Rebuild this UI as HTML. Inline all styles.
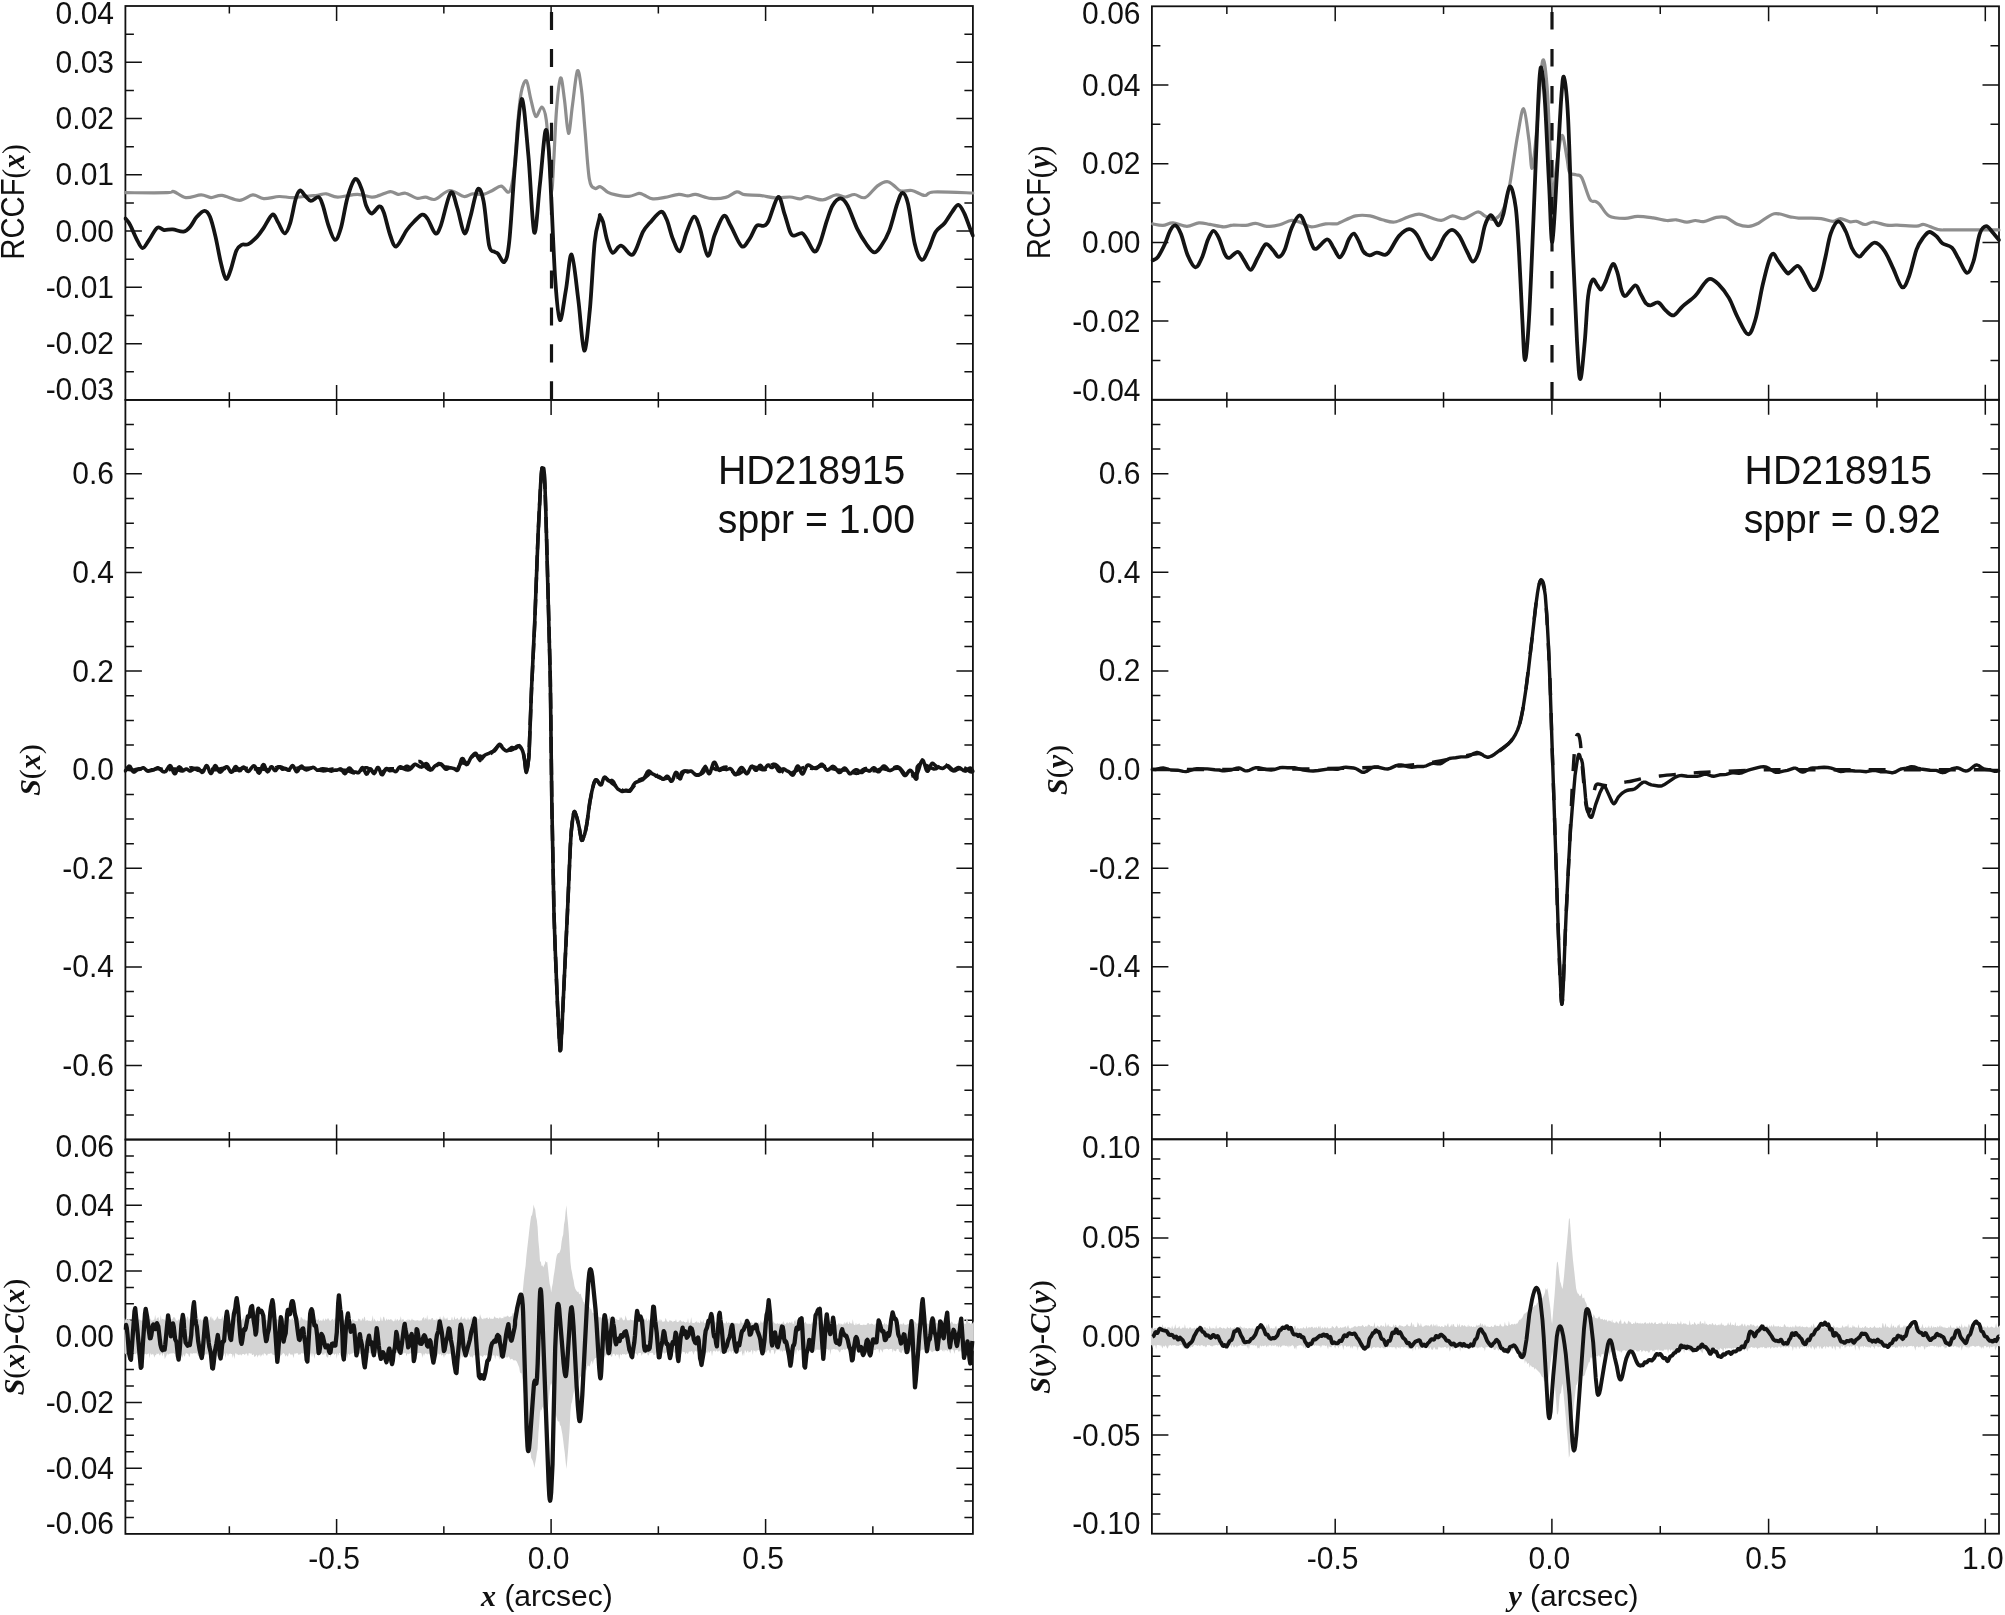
<!DOCTYPE html>
<html><head><meta charset="utf-8"><style>
html,body{margin:0;padding:0;background:#fff;width:2005px;height:1615px;overflow:hidden}
svg{display:block}
text{font-family:"Liberation Sans",sans-serif;fill:#111}
.s{font-family:"Liberation Serif",serif;font-style:italic;font-weight:bold}
.p{font-family:"Liberation Serif",serif}
svg{will-change:transform}
</style></head><body>
<svg width="2005" height="1615" viewBox="0 0 2005 1615">
<g fill="none" stroke="#111" stroke-width="1.8"><rect x="125.40" y="6.00" width="847.50" height="393.90"/><rect x="125.40" y="399.90" width="847.50" height="739.65"/><rect x="125.40" y="1139.55" width="847.50" height="394.35"/><rect x="1151.90" y="6.30" width="847.10" height="393.50"/><rect x="1151.90" y="399.80" width="847.10" height="739.50"/><rect x="1151.90" y="1139.30" width="847.10" height="394.40"/></g>
<path fill="none" stroke="#111" stroke-width="1.5" d="M125.40 34.14h8.5M972.90 34.14h-8.5M125.40 62.27h16.5M972.90 62.27h-16.5M125.40 90.41h8.5M972.90 90.41h-8.5M125.40 118.54h16.5M972.90 118.54h-16.5M125.40 146.68h8.5M972.90 146.68h-8.5M125.40 174.81h16.5M972.90 174.81h-16.5M125.40 202.95h8.5M972.90 202.95h-8.5M125.40 231.09h16.5M972.90 231.09h-16.5M125.40 259.22h8.5M972.90 259.22h-8.5M125.40 287.36h16.5M972.90 287.36h-16.5M125.40 315.49h8.5M972.90 315.49h-8.5M125.40 343.63h16.5M972.90 343.63h-16.5M125.40 371.76h8.5M972.90 371.76h-8.5M229.35 6.00v7.6M229.35 399.90v-7.6M336.60 6.00v15.0M336.60 399.90v-15.0M443.85 6.00v7.6M443.85 399.90v-7.6M551.10 6.00v15.0M551.10 399.90v-15.0M658.35 6.00v7.6M658.35 399.90v-7.6M765.60 6.00v15.0M765.60 399.90v-15.0M872.85 6.00v7.6M872.85 399.90v-7.6M125.40 424.56h8.5M972.90 424.56h-8.5M125.40 449.21h8.5M972.90 449.21h-8.5M125.40 473.87h16.5M972.90 473.87h-16.5M125.40 498.52h8.5M972.90 498.52h-8.5M125.40 523.17h8.5M972.90 523.17h-8.5M125.40 547.83h8.5M972.90 547.83h-8.5M125.40 572.49h16.5M972.90 572.49h-16.5M125.40 597.14h8.5M972.90 597.14h-8.5M125.40 621.79h8.5M972.90 621.79h-8.5M125.40 646.45h8.5M972.90 646.45h-8.5M125.40 671.11h16.5M972.90 671.11h-16.5M125.40 695.76h8.5M972.90 695.76h-8.5M125.40 720.41h8.5M972.90 720.41h-8.5M125.40 745.07h8.5M972.90 745.07h-8.5M125.40 769.72h16.5M972.90 769.72h-16.5M125.40 794.38h8.5M972.90 794.38h-8.5M125.40 819.04h8.5M972.90 819.04h-8.5M125.40 843.69h8.5M972.90 843.69h-8.5M125.40 868.35h16.5M972.90 868.35h-16.5M125.40 893.00h8.5M972.90 893.00h-8.5M125.40 917.65h8.5M972.90 917.65h-8.5M125.40 942.31h8.5M972.90 942.31h-8.5M125.40 966.97h16.5M972.90 966.97h-16.5M125.40 991.62h8.5M972.90 991.62h-8.5M125.40 1016.27h8.5M972.90 1016.27h-8.5M125.40 1040.93h8.5M972.90 1040.93h-8.5M125.40 1065.59h16.5M972.90 1065.59h-16.5M125.40 1090.24h8.5M972.90 1090.24h-8.5M125.40 1114.89h8.5M972.90 1114.89h-8.5M229.35 399.90v7.6M229.35 1139.55v-7.6M336.60 399.90v15.0M336.60 1139.55v-15.0M443.85 399.90v7.6M443.85 1139.55v-7.6M551.10 399.90v15.0M551.10 1139.55v-15.0M658.35 399.90v7.6M658.35 1139.55v-7.6M765.60 399.90v15.0M765.60 1139.55v-15.0M872.85 399.90v7.6M872.85 1139.55v-7.6M125.40 1155.98h8.5M972.90 1155.98h-8.5M125.40 1172.41h8.5M972.90 1172.41h-8.5M125.40 1188.84h8.5M972.90 1188.84h-8.5M125.40 1205.28h16.5M972.90 1205.28h-16.5M125.40 1221.71h8.5M972.90 1221.71h-8.5M125.40 1238.14h8.5M972.90 1238.14h-8.5M125.40 1254.57h8.5M972.90 1254.57h-8.5M125.40 1271.00h16.5M972.90 1271.00h-16.5M125.40 1287.43h8.5M972.90 1287.43h-8.5M125.40 1303.86h8.5M972.90 1303.86h-8.5M125.40 1320.29h8.5M972.90 1320.29h-8.5M125.40 1336.72h16.5M972.90 1336.72h-16.5M125.40 1353.16h8.5M972.90 1353.16h-8.5M125.40 1369.59h8.5M972.90 1369.59h-8.5M125.40 1386.02h8.5M972.90 1386.02h-8.5M125.40 1402.45h16.5M972.90 1402.45h-16.5M125.40 1418.88h8.5M972.90 1418.88h-8.5M125.40 1435.31h8.5M972.90 1435.31h-8.5M125.40 1451.74h8.5M972.90 1451.74h-8.5M125.40 1468.18h16.5M972.90 1468.18h-16.5M125.40 1484.61h8.5M972.90 1484.61h-8.5M125.40 1501.04h8.5M972.90 1501.04h-8.5M125.40 1517.47h8.5M972.90 1517.47h-8.5M229.35 1139.55v7.6M229.35 1533.90v-7.6M336.60 1139.55v15.0M336.60 1533.90v-15.0M443.85 1139.55v7.6M443.85 1533.90v-7.6M551.10 1139.55v15.0M551.10 1533.90v-15.0M658.35 1139.55v7.6M658.35 1533.90v-7.6M765.60 1139.55v15.0M765.60 1533.90v-15.0M872.85 1139.55v7.6M872.85 1533.90v-7.6M1151.90 45.65h8.5M1999.00 45.65h-8.5M1151.90 85.00h16.5M1999.00 85.00h-16.5M1151.90 124.35h8.5M1999.00 124.35h-8.5M1151.90 163.70h16.5M1999.00 163.70h-16.5M1151.90 203.05h8.5M1999.00 203.05h-8.5M1151.90 242.40h16.5M1999.00 242.40h-16.5M1151.90 281.75h8.5M1999.00 281.75h-8.5M1151.90 321.10h16.5M1999.00 321.10h-16.5M1151.90 360.45h8.5M1999.00 360.45h-8.5M1226.85 6.30v7.6M1226.85 399.80v-7.6M1335.20 6.30v15.0M1335.20 399.80v-15.0M1443.55 6.30v7.6M1443.55 399.80v-7.6M1551.90 6.30v15.0M1551.90 399.80v-15.0M1660.25 6.30v7.6M1660.25 399.80v-7.6M1768.60 6.30v15.0M1768.60 399.80v-15.0M1876.95 6.30v7.6M1876.95 399.80v-7.6M1985.30 6.30v15.0M1985.30 399.80v-15.0M1151.90 424.45h8.5M1999.00 424.45h-8.5M1151.90 449.10h8.5M1999.00 449.10h-8.5M1151.90 473.75h16.5M1999.00 473.75h-16.5M1151.90 498.40h8.5M1999.00 498.40h-8.5M1151.90 523.05h8.5M1999.00 523.05h-8.5M1151.90 547.70h8.5M1999.00 547.70h-8.5M1151.90 572.35h16.5M1999.00 572.35h-16.5M1151.90 597.00h8.5M1999.00 597.00h-8.5M1151.90 621.65h8.5M1999.00 621.65h-8.5M1151.90 646.30h8.5M1999.00 646.30h-8.5M1151.90 670.95h16.5M1999.00 670.95h-16.5M1151.90 695.60h8.5M1999.00 695.60h-8.5M1151.90 720.25h8.5M1999.00 720.25h-8.5M1151.90 744.90h8.5M1999.00 744.90h-8.5M1151.90 769.55h16.5M1999.00 769.55h-16.5M1151.90 794.20h8.5M1999.00 794.20h-8.5M1151.90 818.85h8.5M1999.00 818.85h-8.5M1151.90 843.50h8.5M1999.00 843.50h-8.5M1151.90 868.15h16.5M1999.00 868.15h-16.5M1151.90 892.80h8.5M1999.00 892.80h-8.5M1151.90 917.45h8.5M1999.00 917.45h-8.5M1151.90 942.10h8.5M1999.00 942.10h-8.5M1151.90 966.75h16.5M1999.00 966.75h-16.5M1151.90 991.40h8.5M1999.00 991.40h-8.5M1151.90 1016.05h8.5M1999.00 1016.05h-8.5M1151.90 1040.70h8.5M1999.00 1040.70h-8.5M1151.90 1065.35h16.5M1999.00 1065.35h-16.5M1151.90 1090.00h8.5M1999.00 1090.00h-8.5M1151.90 1114.65h8.5M1999.00 1114.65h-8.5M1226.85 399.80v7.6M1226.85 1139.30v-7.6M1335.20 399.80v15.0M1335.20 1139.30v-15.0M1443.55 399.80v7.6M1443.55 1139.30v-7.6M1551.90 399.80v15.0M1551.90 1139.30v-15.0M1660.25 399.80v7.6M1660.25 1139.30v-7.6M1768.60 399.80v15.0M1768.60 1139.30v-15.0M1876.95 399.80v7.6M1876.95 1139.30v-7.6M1985.30 399.80v15.0M1985.30 1139.30v-15.0M1151.90 1159.02h8.5M1999.00 1159.02h-8.5M1151.90 1178.74h8.5M1999.00 1178.74h-8.5M1151.90 1198.46h8.5M1999.00 1198.46h-8.5M1151.90 1218.18h8.5M1999.00 1218.18h-8.5M1151.90 1237.90h16.5M1999.00 1237.90h-16.5M1151.90 1257.62h8.5M1999.00 1257.62h-8.5M1151.90 1277.34h8.5M1999.00 1277.34h-8.5M1151.90 1297.06h8.5M1999.00 1297.06h-8.5M1151.90 1316.78h8.5M1999.00 1316.78h-8.5M1151.90 1336.50h16.5M1999.00 1336.50h-16.5M1151.90 1356.22h8.5M1999.00 1356.22h-8.5M1151.90 1375.94h8.5M1999.00 1375.94h-8.5M1151.90 1395.66h8.5M1999.00 1395.66h-8.5M1151.90 1415.38h8.5M1999.00 1415.38h-8.5M1151.90 1435.10h16.5M1999.00 1435.10h-16.5M1151.90 1454.82h8.5M1999.00 1454.82h-8.5M1151.90 1474.54h8.5M1999.00 1474.54h-8.5M1151.90 1494.26h8.5M1999.00 1494.26h-8.5M1151.90 1513.98h8.5M1999.00 1513.98h-8.5M1226.85 1139.30v7.6M1226.85 1533.70v-7.6M1335.20 1139.30v15.0M1335.20 1533.70v-15.0M1443.55 1139.30v7.6M1443.55 1533.70v-7.6M1551.90 1139.30v15.0M1551.90 1533.70v-15.0M1660.25 1139.30v7.6M1660.25 1533.70v-7.6M1768.60 1139.30v15.0M1768.60 1533.70v-15.0M1876.95 1139.30v7.6M1876.95 1533.70v-7.6M1985.30 1139.30v15.0M1985.30 1533.70v-15.0"/>
<defs>
<clipPath id="cLT"><rect x="123.6" y="6.0" width="851.1" height="393.9"/></clipPath>
<clipPath id="wLT"><rect x="124.4" y="6.0" width="849.5" height="393.9"/></clipPath>
<clipPath id="cLM"><rect x="123.6" y="399.9" width="851.1" height="739.6"/></clipPath>
<clipPath id="wLM"><rect x="124.4" y="399.9" width="849.5" height="739.6"/></clipPath>
<clipPath id="cLB"><rect x="123.6" y="1139.5" width="851.1" height="394.4"/></clipPath>
<clipPath id="wLB"><rect x="124.4" y="1139.5" width="849.5" height="394.4"/></clipPath>
<clipPath id="cRT"><rect x="1150.1" y="6.3" width="850.7" height="393.5"/></clipPath>
<clipPath id="wRT"><rect x="1150.9" y="6.3" width="849.1" height="393.5"/></clipPath>
<clipPath id="cRM"><rect x="1150.1" y="399.8" width="850.7" height="739.5"/></clipPath>
<clipPath id="wRM"><rect x="1150.9" y="399.8" width="849.1" height="739.5"/></clipPath>
<clipPath id="cRB"><rect x="1150.1" y="1139.3" width="850.7" height="394.4"/></clipPath>
<clipPath id="wRB"><rect x="1150.9" y="1139.3" width="849.1" height="394.4"/></clipPath>
</defs>
<g clip-path="url(#cLT)" fill="none" stroke-linejoin="round" stroke-linecap="round">
<path d="M125.4 192.7C132.4 192.7 159.1 192.9 167.2 192.7C175.3 192.5 170.7 190.8 173.8 191.6C176.9 192.4 181.2 197.0 185.8 197.6C190.4 198.2 197.0 194.9 201.2 194.9C205.4 194.9 207.6 197.5 211.1 197.6C214.6 197.7 217.2 194.9 222.0 195.4C226.8 195.9 234.5 200.4 239.6 200.3C244.7 200.2 248.8 195.2 252.8 194.9C256.8 194.6 259.3 198.4 263.7 198.7C268.1 199.0 274.3 196.7 279.1 196.5C283.9 196.3 287.4 197.7 292.3 197.6C297.2 197.5 304.5 196.4 308.7 196.0C312.9 195.6 314.6 195.8 317.5 195.4C320.4 195.0 322.9 193.5 326.3 193.8C329.7 194.1 332.5 197.0 337.7 197.1C342.9 197.2 351.7 194.3 357.4 194.3C363.1 194.3 368.0 196.9 371.7 197.1C375.4 197.3 376.3 196.3 379.4 195.4C382.5 194.5 387.2 191.8 390.3 191.6C393.4 191.4 395.4 194.0 398.0 194.3C400.6 194.6 402.6 192.5 405.7 193.2C408.8 193.8 413.4 197.5 416.7 198.2C420.0 198.8 422.4 196.9 425.5 197.1C428.6 197.3 431.3 200.4 435.3 199.3C439.3 198.2 444.8 191.0 449.6 190.5C454.4 190.0 460.1 195.9 463.9 196.5C467.7 197.1 469.3 194.2 472.6 193.8C475.9 193.4 480.3 194.9 483.6 194.3C486.9 193.8 489.5 191.9 492.4 190.5C495.3 189.1 498.6 185.8 501.2 186.1C503.8 186.4 506.1 191.7 507.7 192.1C509.3 192.5 509.9 192.3 511.0 188.3C512.1 184.3 513.1 179.4 514.3 168.0C515.5 156.6 516.8 132.7 518.0 120.0C519.2 107.3 519.9 98.5 521.3 92.0C522.7 85.5 524.8 79.5 526.4 80.8C528.0 82.1 529.3 93.7 530.9 99.6C532.5 105.5 534.0 115.2 535.8 116.4C537.6 117.6 540.1 106.5 541.8 107.0C543.5 107.5 544.9 110.6 546.2 119.4C547.5 128.2 548.6 147.9 549.5 160.0C550.4 172.1 550.9 192.0 551.6 192.0C552.3 192.0 553.0 173.7 553.8 160.0C554.6 146.3 555.4 123.7 556.5 110.0C557.6 96.3 559.3 79.7 560.6 78.0C561.9 76.3 563.2 90.8 564.5 100.0C565.8 109.2 567.2 132.5 568.5 133.3C569.8 134.1 571.0 115.4 572.5 105.0C574.0 94.6 575.9 73.4 577.4 70.9C578.9 68.4 580.2 80.2 581.5 90.0C582.8 99.8 583.7 115.2 585.0 130.0C586.3 144.8 587.7 169.1 589.3 178.8C590.9 188.5 592.9 187.0 594.7 188.3C596.6 189.6 598.2 186.0 600.4 186.7C602.6 187.4 605.4 191.0 608.0 192.4C610.6 193.8 612.5 194.2 616.0 194.9C619.5 195.6 625.1 196.7 628.9 196.4C632.7 196.2 636.4 193.7 638.9 193.4C641.4 193.2 641.6 194.0 643.9 194.9C646.2 195.8 649.4 198.5 652.9 198.9C656.4 199.3 660.5 198.2 664.8 197.4C669.1 196.7 675.0 194.7 678.8 194.4C682.6 194.2 685.0 195.9 687.8 195.9C690.6 195.9 692.0 194.0 695.8 194.4C699.6 194.8 705.7 197.9 710.7 198.4C715.7 198.9 721.4 198.5 725.7 197.4C730.0 196.3 733.6 192.4 736.7 191.9C739.9 191.4 740.8 194.1 744.6 194.7C748.4 195.3 754.4 194.9 759.6 195.4C764.8 195.9 770.5 197.6 775.6 197.9C780.7 198.2 786.0 196.8 790.0 197.0C794.0 197.2 796.9 199.0 799.9 198.9C802.9 198.8 804.0 196.5 807.8 196.7C811.6 196.9 818.1 200.2 822.7 199.9C827.3 199.6 831.8 195.5 835.6 195.0C839.4 194.5 842.4 197.1 845.5 197.0C848.6 196.9 851.1 194.4 854.4 194.5C857.7 194.6 861.5 198.9 865.3 197.5C869.1 196.1 873.6 188.8 877.2 186.1C880.8 183.4 884.3 181.7 887.1 181.6C889.9 181.5 891.7 184.0 894.0 185.6C896.3 187.2 897.9 190.2 900.9 191.0C903.9 191.8 907.8 189.8 911.8 190.5C915.8 191.2 921.1 195.2 924.7 195.5C928.3 195.8 925.6 192.4 933.6 192.0C941.6 191.6 966.4 192.8 972.9 193.0" stroke="#8e8e8e" stroke-width="3.2"/>
<path d="M125.4 218.5C126.2 219.5 128.1 221.1 129.9 224.5C131.8 227.9 134.4 234.9 136.5 238.8C138.6 242.7 140.5 247.8 142.5 248.1C144.5 248.4 146.0 244.3 148.5 240.9C151.0 237.5 154.7 229.6 157.3 227.8C159.9 226.0 161.3 229.7 163.9 230.0C166.5 230.3 169.4 229.1 172.7 229.4C176.0 229.7 180.7 232.1 183.6 231.6C186.5 231.1 188.0 229.2 190.2 226.7C192.4 224.2 194.4 219.5 196.8 216.8C199.2 214.2 202.3 210.8 204.5 210.8C206.7 210.8 208.2 212.5 210.0 216.8C211.8 221.1 213.7 228.9 215.5 236.6C217.3 244.3 219.2 255.9 220.9 262.9C222.6 269.9 224.2 277.7 225.9 278.8C227.6 279.9 229.1 274.2 230.8 269.5C232.5 264.8 234.5 254.9 236.3 250.8C238.1 246.7 239.8 245.9 241.8 244.8C243.8 243.7 245.8 245.6 248.4 244.2C251.0 242.8 254.6 239.3 257.2 236.6C259.8 233.9 261.1 231.5 263.7 227.8C266.2 224.1 270.1 215.5 272.5 214.6C274.9 213.7 276.0 219.2 278.0 222.3C280.0 225.4 282.6 233.1 284.6 233.3C286.6 233.5 288.3 229.1 290.1 223.4C291.9 217.7 294.0 204.8 295.6 199.3C297.2 193.8 298.4 191.1 300.0 190.5C301.6 189.9 303.6 194.3 305.4 196.0C307.2 197.7 308.7 200.7 310.9 200.9C313.1 201.1 316.6 196.3 318.6 197.1C320.6 197.9 321.4 201.1 323.0 205.8C324.6 210.6 326.5 219.9 328.5 225.6C330.5 231.3 332.8 239.4 334.9 239.8C337.0 240.2 338.9 234.9 341.0 227.8C343.1 220.7 345.2 205.2 347.6 197.1C350.0 189.0 352.8 180.3 355.2 179.0C357.6 177.7 360.0 184.9 361.8 189.4C363.6 193.9 364.6 201.8 366.2 205.8C367.8 209.8 369.5 213.4 371.7 213.5C373.9 213.6 377.4 206.6 379.4 206.4C381.4 206.2 382.0 207.6 383.8 212.4C385.6 217.2 388.2 229.8 390.3 235.5C392.4 241.2 393.6 247.3 396.4 246.4C399.1 245.5 403.8 234.2 406.8 230.0C409.8 225.8 411.9 223.8 414.5 221.2C417.1 218.6 420.0 215.0 422.2 214.6C424.4 214.2 425.5 215.9 427.7 219.0C429.9 222.1 433.1 232.2 435.3 233.3C437.5 234.4 438.2 232.4 440.8 225.6C443.4 218.8 447.9 195.6 450.7 192.7C453.4 189.8 455.0 201.2 457.3 208.0C459.6 214.8 462.2 231.8 464.4 233.3C466.6 234.8 468.2 224.1 470.4 216.8C472.6 209.5 475.4 192.0 477.6 189.4C479.8 186.8 481.7 192.1 483.6 201.4C485.5 210.7 487.3 236.9 489.1 245.3C490.9 253.7 493.1 250.5 494.6 251.9C496.1 253.3 496.3 251.9 497.9 253.6C499.5 255.2 502.5 263.7 504.4 261.8C506.3 259.9 507.4 258.1 509.2 242.0C511.0 225.9 512.9 189.0 515.0 165.2C517.1 141.4 519.4 100.6 521.6 99.0C523.8 97.4 526.3 133.4 528.4 155.6C530.5 177.8 532.3 227.6 534.2 232.4C536.1 237.2 538.0 201.2 539.9 184.4C541.8 167.6 543.8 137.4 545.3 131.5C546.8 125.6 547.7 137.1 548.7 149.1C549.7 161.1 550.4 181.7 551.5 203.6C552.6 225.5 553.9 261.1 555.3 280.5C556.7 299.9 558.1 318.4 559.9 320.0C561.7 321.6 563.9 300.9 565.9 290.0C567.9 279.1 569.5 252.9 571.6 254.5C573.7 256.1 576.2 283.7 578.3 299.7C580.4 315.7 582.3 348.9 584.2 350.5C586.1 352.1 588.1 327.4 589.9 309.3C591.6 291.2 593.1 257.2 594.7 242.0C596.3 226.8 598.6 222.4 599.5 218.0C600.4 213.6 599.4 215.2 600.0 215.8C600.6 216.4 601.8 217.8 603.0 221.8C604.2 225.8 605.4 234.7 607.0 239.8C608.6 245.0 610.2 251.7 612.5 252.7C614.8 253.7 617.9 245.4 621.0 245.7C624.1 246.0 628.4 254.0 630.9 254.7C633.4 255.4 633.9 253.5 635.9 249.7C637.9 245.9 640.6 236.3 642.9 231.8C645.2 227.3 646.9 226.1 649.9 222.8C652.9 219.5 658.0 212.3 660.8 211.8C663.6 211.3 664.8 215.3 666.8 219.8C668.8 224.3 670.6 233.6 672.8 238.8C675.0 244.0 677.5 252.4 679.8 251.2C682.1 250.0 684.5 237.5 686.8 231.8C689.1 226.1 691.6 217.5 693.8 216.8C696.0 216.1 697.5 221.3 699.8 227.8C702.1 234.3 705.2 254.5 707.7 255.7C710.2 256.9 712.0 241.5 714.7 234.8C717.4 228.2 721.0 217.3 723.7 215.8C726.4 214.3 727.7 220.7 730.7 225.8C733.7 230.9 738.5 244.0 741.6 246.2C744.8 248.4 747.1 242.2 749.6 238.8C752.1 235.4 754.3 228.0 756.6 225.8C758.9 223.6 761.6 226.6 763.6 225.8C765.6 225.0 766.2 225.6 768.6 220.8C771.0 216.0 775.5 198.1 778.1 196.9C780.8 195.7 782.4 207.8 784.5 213.8C786.6 219.8 788.8 229.2 790.5 232.8C792.2 236.4 792.6 235.6 794.5 235.6C796.4 235.6 799.9 232.5 801.9 233.1C803.9 233.7 804.7 236.0 806.8 239.1C808.9 242.2 812.1 250.6 814.3 251.4C816.4 252.2 817.6 249.0 819.7 244.0C821.8 239.0 824.6 227.6 826.7 221.2C828.9 214.8 830.3 209.2 832.6 205.4C834.9 201.6 838.0 198.4 840.5 198.4C843.0 198.4 844.7 200.3 847.5 205.4C850.3 210.5 854.3 222.8 857.4 229.2C860.5 235.6 863.5 240.1 866.3 244.0C869.1 247.9 871.7 252.1 874.2 252.4C876.7 252.7 878.6 249.6 881.1 246.0C883.6 242.4 886.5 238.0 889.1 231.1C891.8 224.2 894.8 210.8 897.0 204.4C899.2 198.1 900.6 193.2 902.4 193.0C904.2 192.8 905.8 194.9 907.9 203.4C910.0 211.9 912.5 234.6 914.8 244.0C917.1 253.4 919.5 259.1 921.8 259.9C924.1 260.7 926.4 253.6 928.7 249.0C931.0 244.4 933.0 236.4 935.6 232.1C938.2 227.8 941.7 226.7 944.5 223.2C947.3 219.7 950.2 214.4 952.5 211.3C954.8 208.2 956.4 204.6 958.4 204.9C960.4 205.2 962.3 209.2 964.3 213.3C966.3 217.4 968.9 225.5 970.3 229.2C971.7 232.9 972.5 234.4 972.9 235.5" stroke="#141414" stroke-width="3.8"/>
<path d="M551.5 12V400" stroke="#141414" stroke-width="3.2" stroke-dasharray="18.1 18.83" stroke-linecap="butt"/>
</g>
<g clip-path="url(#cRT)" fill="none" stroke-linejoin="round" stroke-linecap="round">
<path d="M1152.7 223.9C1154.4 224.2 1159.6 225.6 1163.0 225.4C1166.4 225.2 1169.0 222.7 1173.0 222.9C1177.0 223.1 1182.6 226.4 1186.9 226.4C1191.2 226.4 1195.1 223.2 1198.9 222.9C1202.7 222.6 1205.8 223.7 1209.9 224.4C1214.1 225.1 1220.0 226.8 1223.8 226.9C1227.6 227.0 1229.1 225.3 1232.8 225.1C1236.5 224.8 1242.0 225.7 1245.8 225.4C1249.6 225.1 1252.2 223.2 1255.7 223.4C1259.2 223.6 1262.7 226.2 1266.7 226.4C1270.7 226.6 1275.6 225.7 1279.7 224.7C1283.8 223.7 1287.9 220.7 1291.6 220.4C1295.2 220.1 1298.3 221.8 1301.6 222.9C1304.9 224.0 1307.6 226.7 1311.6 226.9C1315.6 227.1 1321.4 224.4 1325.6 223.9C1329.8 223.4 1334.1 224.1 1336.5 223.9C1338.9 223.7 1336.8 223.9 1340.0 222.6C1343.2 221.3 1350.6 217.0 1355.6 215.9C1360.6 214.8 1365.6 215.2 1370.1 215.9C1374.5 216.6 1378.2 218.8 1382.3 219.8C1386.4 220.8 1390.3 222.5 1394.6 222.0C1398.9 221.5 1403.9 218.3 1408.0 217.0C1412.1 215.7 1415.4 214.1 1419.1 214.2C1422.8 214.3 1426.5 216.5 1430.2 217.5C1433.9 218.5 1437.7 220.6 1441.4 220.3C1445.1 220.0 1448.8 216.2 1452.5 215.9C1456.2 215.6 1459.5 219.3 1463.7 218.7C1467.9 218.0 1474.1 212.5 1477.6 212.0C1481.1 211.5 1482.5 214.7 1484.8 215.9C1487.1 217.2 1489.2 219.4 1491.5 219.5C1493.8 219.6 1496.7 218.6 1498.9 216.2C1501.2 213.8 1503.1 210.6 1505.0 205.0C1506.9 199.4 1507.9 194.7 1510.1 182.8C1512.2 170.9 1515.6 146.0 1517.9 133.7C1520.2 121.4 1521.9 107.7 1523.7 108.8C1525.5 109.9 1527.6 130.5 1529.0 140.4C1530.4 150.3 1530.9 170.1 1532.2 168.2C1533.5 166.3 1535.1 146.9 1536.8 129.2C1538.5 111.5 1540.7 69.2 1542.4 61.8C1544.1 54.4 1545.6 69.6 1546.9 84.6C1548.2 99.5 1549.3 132.8 1550.2 151.5C1551.1 170.2 1551.2 194.6 1552.3 196.5C1553.4 198.4 1555.3 172.9 1556.9 162.7C1558.5 152.5 1560.3 136.2 1562.0 135.4C1563.7 134.7 1565.8 152.1 1567.0 158.2C1568.2 164.3 1568.0 169.4 1569.5 172.2C1571.0 175.0 1574.3 174.0 1576.3 174.9C1578.3 175.8 1579.4 173.5 1581.7 177.6C1584.0 181.7 1587.6 195.4 1589.9 199.4C1592.2 203.4 1593.7 200.5 1595.4 201.4C1597.1 202.3 1597.8 202.4 1600.0 204.8C1602.2 207.2 1604.8 213.5 1608.9 215.8C1613.0 218.1 1620.0 218.3 1624.7 218.4C1629.5 218.5 1632.7 216.4 1637.4 216.3C1642.2 216.2 1648.3 217.2 1653.2 217.9C1658.1 218.6 1663.0 220.2 1666.8 220.5C1670.6 220.8 1673.0 219.5 1676.3 219.8C1679.6 220.1 1683.6 222.0 1686.8 222.1C1690.0 222.2 1692.5 220.6 1695.3 220.5C1698.1 220.4 1700.2 222.1 1703.7 221.6C1707.2 221.1 1712.6 218.1 1716.3 217.4C1720.0 216.7 1722.3 216.3 1725.8 217.4C1729.3 218.5 1733.6 222.7 1737.4 224.2C1741.2 225.7 1745.4 226.5 1748.9 226.3C1752.4 226.1 1754.2 225.3 1758.4 223.2C1762.6 221.1 1768.9 214.8 1774.2 213.7C1779.5 212.6 1785.9 216.1 1790.0 216.8C1794.1 217.5 1795.6 217.9 1798.6 218.1C1801.6 218.3 1804.5 218.0 1808.2 218.1C1812.0 218.2 1817.0 218.1 1821.1 218.6C1825.2 219.1 1829.7 221.3 1832.9 221.3C1836.1 221.3 1837.6 218.5 1840.4 218.6C1843.2 218.7 1847.3 221.4 1850.0 221.8C1852.7 222.2 1854.0 220.9 1856.5 221.3C1859.0 221.8 1862.2 224.4 1865.1 224.5C1867.9 224.6 1870.0 221.9 1873.6 222.0C1877.2 222.1 1882.6 224.7 1886.5 225.2C1890.4 225.7 1892.2 225.0 1897.2 225.2C1902.2 225.3 1912.0 226.2 1916.5 226.1C1921.0 226.0 1920.4 223.9 1924.0 224.5C1927.6 225.1 1933.5 228.6 1938.0 229.5C1942.5 230.4 1940.6 229.8 1950.8 229.9C1961.0 230.0 1991.0 229.9 1999.0 229.9" stroke="#8e8e8e" stroke-width="3.2"/>
<path d="M1152.7 260.3C1153.6 259.7 1156.0 259.6 1158.0 256.8C1160.0 254.1 1163.0 248.1 1165.0 243.8C1167.0 239.5 1168.3 233.9 1170.0 230.8C1171.7 227.7 1173.6 224.9 1175.4 225.4C1177.2 225.9 1178.8 228.7 1180.9 233.8C1183.0 238.9 1185.5 250.2 1187.9 255.8C1190.3 261.4 1193.1 267.0 1195.4 267.3C1197.7 267.6 1199.8 262.4 1201.9 257.8C1204.0 253.2 1206.0 244.3 1207.9 239.8C1209.8 235.3 1211.5 231.1 1213.3 230.8C1215.1 230.5 1216.9 234.0 1218.8 237.8C1220.7 241.6 1223.0 250.5 1224.8 253.8C1226.5 257.1 1227.1 258.1 1229.3 257.8C1231.5 257.5 1235.4 251.5 1237.8 251.8C1240.2 252.1 1241.6 256.8 1243.8 259.8C1246.0 262.8 1248.4 270.1 1250.7 269.8C1253.0 269.5 1255.2 262.1 1257.7 257.8C1260.2 253.6 1263.2 245.6 1265.7 244.3C1268.2 243.0 1270.5 247.7 1272.7 249.8C1274.9 251.9 1276.7 256.8 1278.7 256.8C1280.7 256.8 1282.6 254.6 1284.7 249.8C1286.8 245.0 1289.1 233.6 1291.6 227.9C1294.1 222.2 1297.3 215.7 1299.6 215.4C1301.9 215.1 1303.6 221.2 1305.6 225.9C1307.6 230.6 1309.8 240.0 1311.6 243.8C1313.3 247.6 1313.5 249.6 1316.1 248.8C1318.7 248.1 1324.2 239.5 1327.1 239.3C1330.0 239.1 1331.4 244.8 1333.5 247.8C1335.6 250.8 1337.7 256.9 1339.5 257.3C1341.3 257.7 1342.9 253.4 1344.5 250.4C1346.1 247.4 1347.3 242.1 1348.9 239.3C1350.5 236.5 1352.2 233.3 1353.9 233.7C1355.6 234.1 1357.3 238.5 1358.9 241.5C1360.5 244.5 1361.6 249.2 1363.4 251.5C1365.2 253.8 1367.3 255.2 1369.5 255.4C1371.7 255.6 1374.2 252.7 1376.8 252.6C1379.4 252.5 1382.9 255.3 1385.1 254.9C1387.3 254.5 1387.8 253.6 1390.1 250.4C1392.4 247.2 1395.9 239.4 1399.1 235.9C1402.3 232.4 1406.1 229.4 1409.1 229.2C1412.1 229.0 1414.3 231.3 1416.9 234.8C1419.5 238.3 1422.3 246.3 1424.7 250.4C1427.1 254.5 1429.2 259.5 1431.4 259.3C1433.6 259.1 1435.9 253.2 1438.1 249.3C1440.3 245.4 1442.4 239.2 1444.7 235.9C1447.0 232.7 1449.6 229.8 1452.0 229.8C1454.4 229.8 1456.7 232.3 1459.2 235.9C1461.7 239.5 1464.7 247.2 1467.0 251.5C1469.3 255.8 1471.0 261.8 1473.1 261.6C1475.1 261.4 1477.3 256.4 1479.3 250.4C1481.2 244.4 1482.9 231.8 1484.8 225.9C1486.7 220.1 1488.7 216.2 1490.4 215.3C1492.1 214.4 1493.5 218.7 1494.9 220.3C1496.3 221.9 1497.5 226.2 1498.9 225.1C1500.3 224.0 1501.6 220.4 1503.4 214.0C1505.2 207.6 1507.8 187.6 1509.8 186.5C1511.8 185.4 1514.2 196.4 1515.7 207.3C1517.2 218.2 1517.9 233.3 1519.0 251.9C1520.1 270.5 1521.3 300.8 1522.3 318.8C1523.3 336.8 1523.9 360.1 1525.0 360.1C1526.1 360.1 1527.6 342.4 1529.0 318.8C1530.4 295.2 1532.0 253.8 1533.5 218.5C1535.0 183.2 1536.8 132.1 1538.0 106.9C1539.2 81.7 1539.6 69.0 1540.7 67.5C1541.8 66.0 1543.3 78.4 1544.7 98.0C1546.1 117.6 1547.8 161.0 1549.1 185.0C1550.4 209.0 1551.0 243.9 1552.3 242.0C1553.6 240.1 1555.4 198.2 1556.9 173.8C1558.4 149.4 1560.2 111.8 1561.4 95.8C1562.6 79.8 1563.0 74.0 1564.1 77.7C1565.2 81.4 1566.7 90.9 1568.1 118.1C1569.5 145.3 1571.0 203.6 1572.5 240.8C1574.0 278.0 1575.7 318.1 1577.0 341.1C1578.3 364.2 1579.0 379.1 1580.3 379.1C1581.6 379.1 1583.5 354.9 1584.8 341.1C1586.1 327.3 1586.8 306.7 1588.1 296.5C1589.4 286.3 1591.0 281.7 1592.6 279.8C1594.1 277.9 1596.0 283.7 1597.4 285.3C1598.8 286.9 1599.7 290.2 1601.1 289.5C1602.5 288.8 1603.9 285.3 1605.8 281.1C1607.7 276.9 1610.7 265.6 1612.6 264.2C1614.5 262.8 1615.9 268.2 1617.4 272.6C1618.9 277.0 1620.2 286.6 1621.6 290.5C1623.0 294.4 1623.5 296.7 1625.8 295.8C1628.1 294.9 1632.8 285.7 1635.3 285.3C1637.8 284.9 1638.8 290.7 1640.5 293.7C1642.2 296.7 1644.1 301.3 1645.8 303.2C1647.5 305.1 1648.4 305.4 1650.5 305.3C1652.6 305.2 1655.9 301.7 1658.4 302.6C1661.0 303.5 1663.2 308.4 1665.8 310.5C1668.3 312.6 1670.9 316.0 1673.7 315.3C1676.5 314.6 1679.0 309.6 1682.6 306.3C1686.2 303.1 1691.8 299.5 1695.3 295.8C1698.8 292.1 1701.2 287.0 1703.7 284.2C1706.2 281.4 1707.5 278.9 1710.0 278.9C1712.5 278.9 1715.2 281.0 1718.4 284.2C1721.6 287.4 1725.7 292.5 1728.9 297.9C1732.1 303.3 1734.2 310.8 1737.4 316.8C1740.6 322.9 1744.9 333.7 1747.9 334.2C1750.9 334.7 1752.8 328.1 1755.3 320.0C1757.8 311.9 1760.3 295.1 1762.6 285.3C1764.9 275.5 1767.1 266.4 1768.9 261.1C1770.7 255.8 1771.6 253.7 1773.2 253.7C1774.8 253.7 1776.1 258.0 1778.4 261.1C1780.7 264.2 1784.9 270.8 1786.8 272.6C1788.7 274.5 1788.2 273.3 1790.0 272.2C1791.8 271.1 1795.3 265.8 1797.5 265.8C1799.7 265.8 1800.3 268.2 1802.9 272.2C1805.5 276.2 1810.2 288.6 1813.1 289.9C1815.9 291.1 1818.0 285.1 1820.0 279.7C1822.0 274.2 1823.6 264.9 1825.4 257.2C1827.2 249.5 1828.6 239.6 1830.7 233.6C1832.8 227.6 1835.8 221.7 1838.3 221.3C1840.8 221.0 1843.5 226.9 1845.8 231.5C1848.1 236.1 1850.0 244.4 1852.2 248.6C1854.4 252.8 1857.1 256.3 1859.2 256.7C1861.3 257.1 1862.5 253.1 1865.1 250.8C1867.7 248.5 1871.5 242.7 1874.7 242.7C1877.9 242.7 1881.4 246.6 1884.4 250.8C1887.4 255.0 1890.0 261.8 1892.9 267.9C1895.9 274.0 1899.4 285.8 1902.1 287.2C1904.8 288.6 1906.6 282.8 1909.0 276.5C1911.4 270.2 1914.2 256.1 1916.5 249.7C1918.8 243.3 1920.8 240.8 1923.0 237.9C1925.2 235.0 1927.1 232.2 1929.4 232.0C1931.7 231.8 1934.8 234.9 1936.9 236.8C1939.1 238.7 1939.8 241.5 1942.3 243.3C1944.8 245.1 1949.2 245.1 1951.9 247.6C1954.6 250.1 1955.8 254.1 1958.3 258.3C1960.8 262.5 1964.4 272.3 1966.9 272.8C1969.4 273.3 1971.2 268.0 1973.4 261.5C1975.6 255.0 1977.7 239.5 1979.8 233.6C1981.9 227.7 1984.0 226.3 1986.2 226.1C1988.4 225.9 1990.6 230.2 1992.7 232.5C1994.8 234.8 1998.0 238.8 1999.0 240.0" stroke="#141414" stroke-width="3.8"/>
<path d="M1552 11.9V400" stroke="#141414" stroke-width="3.2" stroke-dasharray="17.7 19.3" stroke-linecap="butt"/>
</g>
<g clip-path="url(#cLM)" fill="none" stroke-linejoin="round" stroke-linecap="round" stroke="#141414">
<path d="M125.4 770.8L126.2 769.9L128.0 767.0L129.0 766.1L130.0 766.5L132.8 771.4L133.4 771.9L134.0 772.1L134.6 771.9L137.2 769.8L139.9 769.2L142.8 767.8L143.6 767.8L144.3 768.2L146.6 770.5L147.4 771.0L148.2 771.1L151.4 769.8L153.9 769.6L157.3 767.9L158.2 767.9L159.1 768.3L162.6 771.4L163.5 771.8L164.4 771.9L165.3 771.6L166.2 770.8L168.9 766.4L169.9 765.6L170.8 766.1L171.7 767.8L173.6 772.5L174.5 773.8L175.5 773.5L178.3 767.6L179.2 766.9L180.2 767.3L182.1 769.7L183.0 770.3L184.0 770.1L185.9 769.0L186.8 769.0L189.7 770.9L190.6 770.9L194.4 768.7L196.3 768.2L197.2 768.2L198.1 768.4L199.1 769.0L201.4 772.0L202.1 772.4L202.8 772.1L203.6 771.1L205.8 766.3L206.5 765.6L207.3 766.1L208.1 767.5L209.6 771.8L210.4 773.2L211.2 773.5L212.0 772.4L214.4 766.4L215.2 765.6L216.0 766.0L218.5 770.7L219.3 771.8L220.2 772.1L221.0 771.8L225.3 767.2L226.2 766.7L227.0 766.7L227.9 767.4L230.5 771.7L231.4 772.3L232.3 771.8L234.9 767.1L235.8 766.6L236.7 767.2L238.5 770.0L239.4 770.8L240.3 770.6L243.0 767.2L243.9 767.1L244.8 767.8L246.5 770.4L247.4 771.3L248.3 771.4L249.2 770.9L251.9 767.4L252.8 766.4L253.7 765.9L254.6 766.0L255.4 767.0L258.1 772.4L259.0 773.1L259.8 772.4L260.7 770.5L262.4 765.7L263.3 764.6L264.2 765.0L266.7 770.9L267.6 771.8L268.4 771.3L270.9 766.9L271.7 766.7L272.6 767.4L274.2 770.0L275.0 770.6L275.8 770.4L278.2 767.2L278.9 766.8L279.7 767.0L282.0 769.0L282.7 769.3L284.9 768.6L285.7 768.6L287.8 769.8L288.5 770.0L289.2 769.7L289.8 769.0L291.8 766.0L292.5 765.6L293.1 765.9L293.7 766.6L295.6 770.4L296.1 771.3L296.7 771.7L297.9 771.0L300.0 767.0L301.7 766.0L304.7 769.4L306.1 769.9L308.7 769.2L312.9 767.4L313.8 767.5L314.6 768.0L316.9 770.0L317.6 770.3L318.8 770.2L321.0 769.1L321.9 768.9L322.9 768.9L327.2 769.3L330.8 771.0L331.6 771.1L334.7 770.1L337.1 770.1L340.2 768.9L341.0 769.1L341.7 769.8L344.1 773.2L344.9 773.6L345.7 773.2L348.0 769.1L348.8 768.2L349.6 768.0L350.4 768.5L352.0 770.5L352.8 771.3L353.6 771.7L356.0 772.1L357.6 772.7L358.4 772.6L359.2 772.1L361.5 768.4L362.3 767.7L363.1 768.1L363.9 769.4L365.6 773.1L366.4 774.1L367.2 773.8L369.8 769.2L370.7 768.9L371.5 769.8L373.2 773.0L374.1 773.6L374.9 772.8L376.6 768.9L377.5 767.5L378.3 767.5L379.2 768.8L380.8 773.1L381.6 774.5L382.4 774.7L383.2 773.8L385.5 769.1L386.2 768.5L386.9 768.6L389.0 770.4L389.6 770.7L391.4 770.4L393.2 770.5L395.4 771.6L396.2 771.4L397.0 770.6L399.0 767.6L400.2 766.8L401.3 767.0L402.6 767.8L403.3 768.0L404.1 767.8L406.4 766.4L407.2 766.3L407.9 766.5L409.6 767.5L410.4 767.6L411.3 767.3L413.9 764.7L414.8 764.2L415.6 764.2L416.5 764.7L419.8 766.8L421.3 767.1L422.7 766.5L424.8 764.4L425.6 763.7L426.3 763.6L427.0 763.9L427.7 764.6L429.8 768.5L430.7 769.6L431.6 769.7L432.1 769.4L434.7 766.2L435.8 765.4L440.1 764.0L441.0 764.0L441.7 764.4L444.5 768.2L445.6 769.1L446.2 769.3L446.8 769.2L449.0 768.0L450.6 767.8L453.6 768.4L454.9 769.1L456.5 770.4L457.3 770.4L458.0 769.8L458.6 768.5L461.0 760.4L461.6 759.1L462.2 758.5L463.0 758.7L463.6 759.5L465.2 763.0L466.0 764.2L466.4 764.6L467.4 764.3L468.5 762.5L470.3 758.7L471.5 756.8L474.1 754.0L475.2 753.2L476.0 753.5L476.4 754.1L478.3 758.2L480.0 760.5L480.4 759.4L481.4 759.1L481.9 758.7L484.0 756.0L485.2 754.9L488.2 753.7L490.9 752.2L493.8 751.3L494.5 750.9L495.8 749.3L498.1 745.5L499.1 744.5L499.8 744.3L500.3 744.5L500.7 744.9L502.4 747.8L503.7 749.2L505.2 750.4L506.3 750.9L507.5 750.8L508.0 750.5L511.2 747.8L512.1 747.5L512.9 747.7L514.6 748.4L515.3 748.4L516.0 748.2L518.6 745.8L519.2 745.6L520.0 746.4L521.0 747.6L521.9 749.3L522.7 751.2L523.5 754.1L524.5 759.5L525.8 770.9L526.0 771.9L526.3 772.4L527.0 770.5L527.8 765.5L528.8 757.8L529.2 751.6L531.5 689.4L534.8 619.9L538.2 532.0L540.5 486.3L541.3 473.6L542.0 467.9L542.5 468.1L543.1 468.0L543.7 468.3L544.1 471.3L544.9 483.9L545.8 511.0L550.3 678.9L551.8 801.7L553.9 910.7L555.1 946.7L557.4 1002.8L559.4 1042.1L560.1 1050.8L560.6 1050.2L560.8 1047.4L562.0 1026.7L567.5 911.3L570.3 847.2L571.2 832.3L572.6 819.8L573.3 815.1L573.9 812.7L574.2 812.2L574.9 812.2L575.2 812.7L577.0 817.9L578.1 822.3L579.2 827.5L581.2 839.1L581.8 840.4L582.4 840.2L582.7 839.7L584.6 834.5L586.0 828.6L587.1 822.1L589.7 802.5L591.8 791.6L593.6 784.4L594.4 782.0L595.3 780.4L596.0 780.0L596.7 780.2L597.8 781.4L600.0 784.6L600.7 785.0L601.3 784.7L601.8 783.9L603.2 779.3L604.0 777.6L604.6 777.1L605.3 777.2L607.6 780.0L608.6 780.8L609.6 780.9L611.7 780.4L612.6 780.8L613.5 781.9L615.7 786.2L617.0 788.1L617.8 788.9L621.1 791.0L622.4 791.5L623.4 791.3L625.8 790.2L626.8 790.3L628.7 791.3L629.8 791.3L630.8 790.3L633.7 784.6L635.1 782.9L636.1 782.3L642.5 779.9L643.8 778.7L644.5 777.6L646.7 773.2L647.4 772.0L648.1 771.3L648.8 771.1L649.5 771.3L652.0 773.6L654.6 774.8L656.4 776.3L659.2 776.6L660.4 777.3L662.5 779.0L663.3 779.2L664.1 778.9L666.7 776.4L667.6 776.3L668.5 777.1L670.3 780.3L671.1 781.3L672.0 781.1L672.9 779.6L674.5 774.9L675.3 773.1L676.0 772.3L676.7 772.6L677.3 773.5L679.1 777.7L679.6 778.6L680.0 778.9L680.6 778.6L681.3 776.3L682.7 773.3L683.9 771.6L684.5 771.2L685.2 771.1L687.4 771.9L688.2 771.9L690.8 771.0L691.7 771.2L695.3 774.7L697.0 775.2L698.6 775.1L700.0 774.4L700.7 773.8L703.5 769.0L704.9 766.9L705.4 766.5L705.9 767.2L706.3 768.0L707.9 772.2L708.5 773.3L709.1 773.7L709.7 773.4L710.4 772.1L712.6 765.0L713.3 763.1L714.1 762.2L714.9 762.5L715.8 763.9L717.6 768.2L718.5 769.7L719.1 770.2L719.8 770.4L720.4 770.2L722.3 769.2L723.0 769.0L726.4 769.6L729.5 768.6L730.4 768.6L731.2 769.2L732.1 770.2L733.9 773.3L734.9 774.5L735.9 774.8L736.9 774.1L739.5 769.5L740.2 768.4L740.9 767.7L741.7 767.5L742.4 767.9L743.2 768.8L745.5 772.8L746.3 773.6L747.2 773.6L748.0 772.8L750.5 767.5L751.3 766.4L752.2 766.1L753.0 766.8L754.7 769.4L755.6 770.3L756.4 770.2L757.2 769.3L758.9 766.4L759.7 765.5L760.5 765.4L761.3 766.1L762.9 768.3L763.7 768.9L764.5 768.8L765.2 768.1L767.4 765.3L768.0 765.0L768.7 765.1L770.5 766.9L771.4 767.5L772.3 767.4L773.9 766.3L774.7 766.0L775.5 766.3L776.2 767.1L778.4 770.7L779.2 771.4L779.9 771.4L780.6 771.0L782.7 769.1L783.4 768.9L784.1 769.1L786.4 770.6L788.7 771.7L789.5 772.3L791.8 774.8L792.5 775.1L793.2 774.9L793.9 774.0L796.7 767.0L797.4 766.1L798.1 766.1L798.9 767.1L801.1 772.5L801.8 773.7L802.5 774.0L803.3 773.4L804.0 772.0L806.3 766.6L807.1 765.5L807.9 765.0L808.7 765.0L809.5 765.4L812.0 767.1L813.6 767.9L815.4 768.5L816.2 768.5L817.1 768.1L817.8 767.6L819.9 765.3L821.3 764.2L822.1 764.3L822.8 764.7L825.8 768.9L826.5 769.7L827.3 770.1L828.1 770.0L828.8 769.6L831.9 766.7L832.7 766.4L833.5 766.5L834.3 766.9L835.1 767.7L838.3 771.9L839.1 772.4L839.9 772.4L840.8 772.0L843.2 768.9L844.0 768.3L844.8 768.1L845.7 768.6L846.5 769.6L848.9 773.1L849.7 773.6L850.6 773.7L851.4 773.2L853.7 771.0L855.3 769.9L856.0 769.7L856.8 769.8L857.6 770.2L860.1 772.1L860.9 772.5L861.7 772.5L862.5 772.2L865.0 770.2L865.8 769.9L866.7 770.0L869.2 771.1L870.0 770.9L870.8 770.3L872.5 768.5L873.3 767.9L874.1 767.9L875.0 768.4L877.4 771.4L878.2 771.8L879.0 771.7L879.8 770.9L882.1 767.3L882.9 766.5L883.6 766.0L884.4 766.0L885.1 766.4L885.8 767.0L888.6 770.2L890.0 770.6L891.6 770.0L894.4 768.4L897.2 768.1L898.9 768.4L899.8 768.9L900.6 769.8L903.1 773.8L903.9 774.9L904.7 775.5L905.4 775.4L906.2 774.9L909.0 770.9L909.7 770.4L910.3 770.3L911.0 770.6L911.6 771.3L912.8 773.3L914.9 777.7L915.8 778.9L916.3 779.2L916.9 778.4L917.0 774.7L917.4 773.0L918.6 769.9L920.8 762.6L922.4 760.0L922.9 760.3L923.4 761.0L923.9 762.3L926.3 769.9L927.0 771.0L927.7 771.2L928.4 770.5L930.7 765.3L931.5 763.9L932.3 763.3L933.2 763.5L935.8 766.0L936.7 766.6L941.4 768.3L942.3 768.4L943.3 768.2L946.2 766.3L947.1 765.9L948.1 765.9L949.1 766.5L952.0 769.3L952.9 769.9L953.9 770.0L954.8 769.6L957.6 767.7L958.5 767.5L959.4 767.7L960.3 768.1L963.6 770.6L965.2 771.1L965.9 770.9L966.7 770.5L968.7 768.6L969.9 768.0L971.1 768.5L972.9 771.3" stroke-width="3.6"/>
<path d="M125.4 769.1L132.2 769.9L134.6 769.7L139.2 768.8L141.4 768.8L143.6 769.2L147.4 770.4L149.8 770.7L151.4 770.5L156.4 768.8L158.2 768.5L159.9 768.7L164.4 769.9L166.2 770.1L168.0 770.0L171.7 769.2L173.6 768.9L175.5 769.1L180.2 770.7L182.1 770.9L183.0 770.9L184.9 770.3L189.7 768.1L191.6 767.8L193.4 768.2L198.1 770.3L200.7 770.8L202.8 770.5L206.5 769.4L208.1 769.1L209.6 769.1L214.4 769.7L216.0 769.7L217.7 769.5L221.9 768.4L223.6 768.1L226.2 768.4L231.4 770.3L234.0 770.6L236.7 770.0L241.2 768.5L243.9 768.1L251.9 769.0L258.1 768.7L260.7 768.7L266.7 769.7L269.2 769.8L271.7 769.3L277.4 767.1L279.7 766.8L282.0 767.3L287.1 769.7L289.2 770.2L291.8 770.0L296.1 768.5L298.4 768.0L301.7 767.9L306.1 768.3L311.9 768.0L314.6 768.3L319.9 770.3L322.9 770.9L324.9 770.8L330.0 769.4L332.4 769.1L339.4 770.0L345.7 770.2L348.0 770.8L352.8 772.7L355.2 773.1L357.6 772.6L359.2 771.7L363.9 768.3L365.6 767.8L366.4 767.7L367.2 767.8L368.9 768.5L374.9 773.5L376.6 774.3L377.5 774.4L378.3 774.3L380.0 773.7L385.5 770.0L386.9 769.3L388.3 768.9L390.3 768.8L394.4 768.8L399.0 768.2L401.3 768.1L402.6 768.4L406.4 769.8L407.9 770.0L408.7 769.8L409.6 769.5L411.3 768.3L416.5 762.5L418.2 761.6L419.0 761.5L419.8 761.6L421.3 762.4L427.0 768.2L428.8 769.5L430.3 770.1L431.2 770.1L432.1 770.0L433.0 769.5L434.3 768.3L436.9 765.0L437.9 764.0L438.6 763.6L439.4 763.5L440.7 764.1L442.8 765.9L444.5 766.8L449.8 767.6L454.9 769.2L456.5 769.3L457.3 768.9L458.0 768.2L460.7 763.4L461.3 763.0L461.9 762.8L464.5 763.4L466.0 762.9L468.0 761.2L473.1 755.8L474.5 754.6L475.2 754.3L476.0 754.4L477.7 756.1L478.3 756.3L480.0 756.0L480.4 756.7L487.6 755.6L489.5 754.6L490.9 753.6L497.1 747.0L498.6 745.7L499.8 745.2L500.5 745.4L502.4 747.0L506.3 748.9L508.6 749.8L510.2 750.2L511.2 750.2L512.9 749.5L516.7 746.3L517.4 746.1L518.3 746.2L520.3 747.1L522.1 749.9L522.8 751.7L523.6 754.6L524.5 759.3L525.8 770.8L526.0 771.8L526.3 772.4L527.0 770.5L527.7 766.4L528.7 758.7L529.1 752.4L531.4 692.6L534.7 624.5L537.5 548.5L539.0 516.1L540.5 487.4L541.6 471.1L542.0 468.2L542.6 468.3L543.1 468.0L543.7 468.1L544.3 472.3L545.3 496.1L546.8 544.5L550.1 669.1L550.7 704.9L551.8 801.8L554.1 917.1L555.3 951.0L557.5 1004.7L559.5 1042.9L560.1 1050.5L560.6 1049.9L560.8 1047.1L562.0 1026.4L567.4 912.9L570.4 844.9L571.3 830.8L572.6 818.7L573.2 814.8L573.8 812.3L574.1 811.7L574.5 811.4L574.9 811.8L576.7 817.2L577.9 822.2L579.2 827.9L581.2 839.1L581.5 839.9L582.0 840.3L582.4 840.1L582.7 839.6L584.6 834.5L586.0 828.7L587.1 822.4L589.9 802.1L592.2 789.8L594.0 782.8L594.7 781.1L595.6 779.7L596.3 779.7L597.1 780.2L599.7 783.9L600.0 783.6L600.7 784.1L601.5 783.9L602.0 783.1L603.2 779.9L604.0 778.6L604.6 778.1L605.3 778.1L607.1 779.0L611.7 783.0L618.9 788.4L621.9 790.0L623.0 790.4L625.4 790.9L627.2 791.0L629.3 790.4L631.3 789.0L632.8 787.5L636.6 782.4L638.8 780.3L640.0 779.6L643.8 778.0L645.3 777.3L647.4 775.6L651.4 771.9L653.1 771.0L653.9 771.2L654.6 771.8L656.8 775.6L658.4 777.1L661.0 778.3L662.5 778.7L664.1 778.8L670.3 777.8L676.0 777.5L677.9 777.1L679.1 776.7L680.0 776.0L680.6 775.2L681.3 773.0L681.8 772.3L683.4 771.3L685.2 770.9L687.4 771.0L689.0 771.4L694.4 774.1L696.2 774.7L697.8 774.8L699.4 774.6L701.3 773.9L703.0 772.7L704.1 771.3L705.6 767.8L706.8 766.8L708.5 766.4L710.4 766.8L715.8 769.4L717.6 769.6L719.8 769.1L724.3 767.2L726.4 767.1L728.7 768.1L733.0 772.0L734.9 773.5L735.9 773.9L736.9 774.1L738.2 774.1L739.5 773.6L746.3 768.9L749.6 767.5L752.2 767.0L754.7 767.1L757.2 767.8L762.1 769.7L764.5 769.8L766.7 768.8L771.4 765.1L773.1 764.3L773.9 764.1L775.5 764.5L777.0 765.4L782.0 770.8L783.4 772.1L785.6 773.3L787.1 773.7L789.5 773.5L792.5 772.6L796.0 771.0L801.1 768.3L803.3 767.6L804.8 767.3L806.3 767.4L810.3 768.2L812.8 768.4L814.5 768.1L819.2 766.5L821.3 766.1L822.8 766.0L825.0 766.4L831.9 768.6L838.3 770.1L840.8 770.3L845.7 770.0L848.1 770.2L849.7 770.8L854.5 773.1L856.0 773.4L857.6 773.3L858.4 773.0L860.1 772.0L863.3 769.5L865.0 768.6L865.8 768.4L867.5 768.4L869.2 769.0L872.5 770.5L874.1 770.8L875.0 770.8L876.6 770.5L880.6 768.9L882.1 768.6L883.6 768.7L887.9 769.7L890.0 769.6L891.6 769.0L895.4 767.0L897.2 766.7L898.1 766.9L899.8 768.0L901.5 769.9L904.7 774.0L906.2 775.6L907.6 776.5L909.0 776.8L910.3 776.6L912.2 775.9L914.9 774.2L916.3 773.0L916.9 771.8L917.0 768.1L917.4 766.5L918.6 765.0L919.5 764.5L920.8 764.2L922.4 764.2L925.1 764.8L927.7 766.0L931.5 768.2L934.0 769.0L935.8 768.8L936.7 768.4L941.4 765.1L943.3 764.3L944.2 764.3L945.2 764.6L946.2 765.1L951.0 769.7L952.9 770.8L953.9 770.9L954.8 770.8L956.7 769.9L960.3 767.6L962.0 767.2L962.8 767.2L963.6 767.4L965.2 768.2L969.9 771.5L971.1 771.9L972.9 772.1" stroke-width="3.5" stroke-dasharray="16 6" stroke-linecap="butt"/>
</g>
<g clip-path="url(#cRM)" fill="none" stroke-linejoin="round" stroke-linecap="round" stroke="#141414">
<path d="M1152.2 769.4L1155.6 769.5L1161.0 768.2L1163.2 767.9L1165.2 768.3L1170.7 770.0L1177.6 770.2L1183.2 771.4L1185.9 771.6L1188.7 771.0L1194.3 769.1L1197.0 768.6L1207.4 768.9L1214.7 769.8L1219.3 770.0L1222.5 770.8L1224.2 770.9L1230.7 770.0L1233.1 769.4L1236.8 768.1L1238.6 767.9L1240.6 768.5L1244.4 770.6L1245.8 770.9L1247.1 770.9L1249.4 770.3L1253.5 768.4L1256.0 767.7L1258.4 767.7L1266.1 769.5L1271.1 770.0L1274.1 769.6L1279.5 767.8L1282.6 767.4L1287.5 767.7L1292.3 767.6L1294.5 767.7L1303.4 770.1L1309.3 770.8L1313.1 771.0L1318.1 770.5L1329.1 768.9L1336.4 769.4L1338.1 769.2L1343.7 767.4L1345.9 767.2L1353.6 768.0L1355.0 768.3L1357.1 769.2L1361.7 772.0L1363.2 772.3L1363.9 772.3L1366.2 771.5L1371.6 767.9L1373.1 767.3L1374.6 767.0L1377.4 767.0L1385.1 768.9L1387.7 769.0L1390.1 768.4L1396.1 765.6L1398.9 764.9L1401.2 764.9L1402.8 765.1L1408.5 766.8L1411.8 767.3L1417.4 766.5L1423.2 766.5L1424.8 766.2L1426.3 765.8L1430.6 763.9L1432.8 763.4L1434.1 763.4L1437.6 763.8L1440.0 763.8L1441.9 763.1L1447.1 759.6L1449.5 758.5L1451.7 758.1L1455.6 757.8L1461.0 756.9L1465.8 756.8L1467.5 756.6L1469.3 756.0L1474.2 753.3L1476.3 752.5L1477.9 752.5L1479.7 753.1L1484.4 756.1L1486.5 757.0L1487.9 757.2L1489.2 757.0L1491.3 756.2L1494.6 754.2L1506.0 745.7L1508.4 743.8L1510.8 741.4L1513.1 738.4L1515.5 734.4L1517.6 729.9L1519.3 725.2L1521.1 717.3L1523.1 707.9L1526.3 686.8L1528.1 672.9L1536.1 603.2L1537.5 593.0L1538.6 586.5L1539.8 582.0L1540.6 580.2L1541.0 579.8L1541.5 580.0L1542.4 582.0L1544.0 588.0L1544.7 591.4L1545.3 595.6L1546.8 614.9L1548.5 646.0L1550.1 686.1L1558.8 946.2L1560.9 993.5L1561.5 1002.2L1561.9 1004.4L1562.2 1003.1L1562.5 1000.4L1563.2 988.2L1565.1 938.6L1566.4 907.6L1568.7 861.8L1570.3 833.3L1572.3 807.5L1575.0 775.8L1577.1 761.2L1578.0 756.5L1578.7 754.4L1579.4 754.6L1580.5 758.1L1581.5 759.7L1582.4 763.2L1583.2 770.4L1585.5 797.2L1586.2 803.4L1587.0 807.7L1588.0 811.9L1589.3 815.6L1590.1 816.9L1590.6 817.4L1591.4 817.4L1591.9 816.8L1592.6 815.1L1595.7 804.4L1600.0 792.5L1602.1 788.2L1603.5 786.6L1604.0 786.4L1604.6 786.5L1605.7 787.9L1612.0 801.8L1613.3 803.4L1613.9 803.7L1614.5 803.4L1615.4 802.4L1617.9 797.8L1619.0 796.3L1620.9 794.3L1622.6 792.9L1624.9 791.4L1626.8 790.5L1628.8 790.0L1633.1 789.5L1634.8 788.9L1636.5 787.7L1640.8 783.8L1642.6 782.5L1643.8 782.1L1645.0 782.1L1646.1 782.4L1649.5 784.2L1651.3 784.9L1658.4 786.0L1660.8 786.0L1662.4 785.6L1664.0 784.8L1675.4 777.2L1677.8 776.1L1679.7 775.6L1681.7 775.5L1687.2 776.2L1696.9 776.4L1699.4 775.9L1703.6 774.4L1705.6 774.2L1707.2 774.4L1711.4 776.0L1713.6 776.3L1719.7 774.8L1724.6 774.6L1726.3 774.4L1730.6 773.1L1732.3 772.8L1734.0 772.7L1739.0 773.2L1740.7 773.0L1742.6 772.5L1747.6 770.4L1750.1 769.6L1758.7 767.4L1761.0 766.9L1763.5 766.8L1765.5 767.0L1767.0 767.4L1769.2 768.6L1774.0 771.6L1775.5 772.2L1777.1 772.4L1779.3 772.2L1783.3 771.2L1787.4 770.4L1794.0 768.1L1795.3 768.1L1796.5 768.5L1800.8 771.6L1802.0 772.0L1802.8 772.1L1804.8 771.6L1808.9 769.1L1811.3 768.2L1812.9 767.9L1817.8 767.7L1824.1 767.2L1827.7 767.5L1831.2 768.2L1834.2 769.1L1839.0 771.1L1840.8 771.5L1843.1 771.4L1846.8 770.7L1849.2 770.5L1855.0 771.0L1860.1 771.1L1866.4 771.7L1873.5 770.3L1876.0 770.6L1880.3 771.7L1886.6 771.8L1891.4 772.7L1893.0 772.7L1895.4 772.0L1899.3 769.8L1901.4 768.9L1906.3 768.1L1909.8 767.0L1911.6 766.6L1914.2 766.9L1918.6 768.5L1920.7 769.0L1930.1 770.3L1936.0 770.4L1937.7 770.9L1941.2 772.3L1942.8 772.7L1945.1 772.3L1949.2 770.0L1951.5 769.0L1954.6 768.1L1956.3 767.8L1958.3 768.0L1959.3 768.4L1964.1 770.7L1965.8 771.0L1967.1 770.9L1968.5 770.4L1969.9 769.5L1974.3 765.9L1975.7 765.1L1976.4 765.0L1977.1 765.0L1978.5 765.5L1982.7 768.3L1984.8 769.2L1989.9 769.9L1994.8 771.3L1996.3 771.4L1998.6 770.9" stroke-width="3.4"/>
<path d="M1152.2 769.5C1176.8 769.4 1258.7 769.6 1300.0 769.0C1341.3 768.4 1375.0 767.6 1400.0 766.0C1425.0 764.4 1437.2 761.2 1450.0 759.2C1462.8 757.2 1470.3 754.2 1477.0 753.7C1483.7 753.2 1484.8 757.6 1490.0 756.0C1495.2 754.4 1503.7 748.4 1508.4 743.8C1513.1 739.1 1515.7 735.0 1518.3 728.1C1520.9 721.2 1521.8 716.3 1524.0 702.5C1526.2 688.7 1529.0 663.1 1531.2 645.5C1533.4 627.9 1535.2 607.9 1536.9 597.0C1538.6 586.1 1539.7 580.0 1541.1 580.0C1542.5 580.0 1544.0 581.3 1545.4 597.0C1546.8 612.7 1548.5 646.9 1549.7 674.0C1550.9 701.1 1551.5 730.9 1552.5 759.4C1553.5 787.9 1554.5 816.4 1555.4 844.9C1556.4 873.4 1557.1 903.8 1558.2 930.4C1559.3 957.0 1560.7 1004.4 1561.9 1004.4C1563.1 1004.4 1564.1 957.0 1565.4 930.4C1566.7 903.8 1568.4 870.0 1569.6 844.9C1570.8 819.8 1571.7 796.6 1572.6 780.0C1573.5 763.4 1574.2 752.6 1575.0 745.0C1575.8 737.4 1576.6 735.0 1577.5 734.5C1578.4 734.0 1579.4 735.2 1580.3 742.0C1581.2 748.8 1582.0 764.5 1583.0 775.0C1584.0 785.5 1585.0 798.8 1586.0 805.0C1587.0 811.2 1587.9 812.8 1589.0 812.0C1590.1 811.2 1591.3 804.5 1592.5 800.0C1593.7 795.5 1594.4 787.5 1596.0 785.0C1597.6 782.5 1599.7 784.8 1602.0 785.0C1604.3 785.2 1607.0 786.3 1610.0 786.0C1613.0 785.7 1616.3 783.8 1620.0 783.0C1623.7 782.2 1627.8 781.8 1632.0 781.0C1636.2 780.2 1640.3 778.8 1645.0 778.0C1649.7 777.2 1654.2 776.7 1660.0 776.0C1665.8 775.3 1673.3 774.6 1680.0 774.0C1686.7 773.4 1693.3 772.9 1700.0 772.5C1706.7 772.1 1710.0 771.9 1720.0 771.5C1730.0 771.1 1746.7 770.3 1760.0 770.0C1773.3 769.7 1760.2 769.8 1800.0 769.8C1839.8 769.8 1965.8 769.8 1999.0 769.8" stroke-width="3.4" stroke-dasharray="17 18" stroke-linecap="butt"/>
</g>
<path clip-path="url(#wLB)" d="M124.0 1320.5L124.8 1317.8L125.6 1320.6L126.4 1317.1L127.2 1319.9L128.0 1319.5L128.8 1318.7L129.6 1319.8L130.4 1320.4L131.2 1320.6L132.0 1320.8L132.8 1318.9L133.6 1320.0L134.4 1320.6L135.2 1317.7L136.0 1320.4L136.8 1320.1L137.6 1320.4L138.4 1319.4L139.2 1319.6L140.0 1319.5L140.8 1320.4L141.6 1320.4L142.4 1320.5L143.2 1320.3L144.0 1320.7L144.8 1320.6L145.6 1315.9L146.4 1316.1L147.2 1320.6L148.0 1320.9L148.8 1320.6L149.6 1319.1L150.4 1318.6L151.2 1320.9L152.0 1319.6L152.8 1320.9L153.6 1319.8L154.4 1319.4L155.2 1314.7L156.0 1320.5L156.8 1318.5L157.6 1317.8L158.4 1317.1L159.2 1320.9L160.0 1319.9L160.8 1314.9L161.6 1320.1L162.4 1318.4L163.2 1319.7L164.0 1318.7L164.8 1319.9L165.6 1320.9L166.4 1320.8L167.2 1320.7L168.0 1320.5L168.8 1315.9L169.6 1319.4L170.4 1318.4L171.2 1319.6L172.0 1319.4L172.8 1318.4L173.6 1317.0L174.4 1317.2L175.2 1318.3L176.0 1320.8L176.8 1320.2L177.6 1320.8L178.4 1319.7L179.2 1318.5L180.0 1320.8L180.8 1320.6L181.6 1320.2L182.4 1320.5L183.2 1318.5L184.0 1320.2L184.8 1319.4L185.6 1319.9L186.4 1319.6L187.2 1316.7L188.0 1316.6L188.8 1320.7L189.6 1318.1L190.4 1320.3L191.2 1320.7L192.0 1320.2L192.8 1319.8L193.6 1316.0L194.4 1320.2L195.2 1320.9L196.0 1318.0L196.8 1320.7L197.6 1319.9L198.4 1318.1L199.2 1319.8L200.0 1320.0L200.8 1318.5L201.6 1320.9L202.4 1319.6L203.2 1320.1L204.0 1314.7L204.8 1318.5L205.6 1320.8L206.4 1320.6L207.2 1320.0L208.0 1319.1L208.8 1320.3L209.6 1320.2L210.4 1317.1L211.2 1316.3L212.0 1320.1L212.8 1317.5L213.6 1320.3L214.4 1320.8L215.2 1319.8L216.0 1319.3L216.8 1317.5L217.6 1315.9L218.4 1318.7L219.2 1318.8L220.0 1319.0L220.8 1319.1L221.6 1318.7L222.4 1315.4L223.2 1320.2L224.0 1320.8L224.8 1320.5L225.6 1320.5L226.4 1320.2L227.2 1318.4L228.0 1320.8L228.8 1320.0L229.6 1318.4L230.4 1320.4L231.2 1320.8L232.0 1320.5L232.8 1320.8L233.6 1318.4L234.4 1320.6L235.2 1320.6L236.0 1318.4L236.8 1318.4L237.6 1319.6L238.4 1317.2L239.2 1320.8L240.0 1315.9L240.8 1319.6L241.6 1320.4L242.4 1318.3L243.2 1319.3L244.0 1314.7L244.8 1320.7L245.6 1319.6L246.4 1319.9L247.2 1319.3L248.0 1320.5L248.8 1320.9L249.6 1319.7L250.4 1320.2L251.2 1317.6L252.0 1320.0L252.8 1320.1L253.6 1319.4L254.4 1319.8L255.2 1316.0L256.0 1318.6L256.8 1319.9L257.6 1320.5L258.4 1319.5L259.2 1318.8L260.0 1318.8L260.8 1314.7L261.6 1320.5L262.4 1320.1L263.2 1320.1L264.0 1320.3L264.8 1320.2L265.6 1319.9L266.4 1319.7L267.2 1320.4L268.0 1320.7L268.8 1320.4L269.6 1320.7L270.4 1320.3L271.2 1319.2L272.0 1319.5L272.8 1314.7L273.6 1319.7L274.4 1319.7L275.2 1319.4L276.0 1319.0L276.8 1319.5L277.6 1319.6L278.4 1319.5L279.2 1320.2L280.0 1318.6L280.8 1319.5L281.6 1320.3L282.4 1320.5L283.2 1320.8L284.0 1320.3L284.8 1320.9L285.6 1320.6L286.4 1320.8L287.2 1320.4L288.0 1320.3L288.8 1319.6L289.6 1318.7L290.4 1319.4L291.2 1320.6L292.0 1317.5L292.8 1318.9L293.6 1319.9L294.4 1319.4L295.2 1319.8L296.0 1320.6L296.8 1319.4L297.6 1314.7L298.4 1318.7L299.2 1320.6L300.0 1320.7L300.8 1316.9L301.6 1317.3L302.4 1318.8L303.2 1318.8L304.0 1320.7L304.8 1318.4L305.6 1320.6L306.4 1320.7L307.2 1320.2L308.0 1321.0L308.8 1318.2L309.6 1320.7L310.4 1319.0L311.2 1319.7L312.0 1318.8L312.8 1319.6L313.6 1316.1L314.4 1320.3L315.2 1320.0L316.0 1320.4L316.8 1319.0L317.6 1320.5L318.4 1318.6L319.2 1320.9L320.0 1320.6L320.8 1320.2L321.6 1320.8L322.4 1320.7L323.2 1318.3L324.0 1320.4L324.8 1320.7L325.6 1318.3L326.4 1319.8L327.2 1319.6L328.0 1317.8L328.8 1319.2L329.6 1320.6L330.4 1321.1L331.2 1319.9L332.0 1319.3L332.8 1318.7L333.6 1320.8L334.4 1319.6L335.2 1317.0L336.0 1320.7L336.8 1320.6L337.6 1320.3L338.4 1319.9L339.2 1314.9L340.0 1319.8L340.8 1317.9L341.6 1319.6L342.4 1320.2L343.2 1320.7L344.0 1320.6L344.8 1319.0L345.6 1320.9L346.4 1321.0L347.2 1320.9L348.0 1319.6L348.8 1320.5L349.6 1320.9L350.4 1320.7L351.2 1321.1L352.0 1320.4L352.8 1318.8L353.6 1320.4L354.4 1320.4L355.2 1321.2L356.0 1320.8L356.8 1321.2L357.6 1321.2L358.4 1318.3L359.2 1319.4L360.0 1318.7L360.8 1321.1L361.6 1320.6L362.4 1317.7L363.2 1320.5L364.0 1317.4L364.8 1316.5L365.6 1321.3L366.4 1320.5L367.2 1320.1L368.0 1320.7L368.8 1320.7L369.6 1320.7L370.4 1321.0L371.2 1321.4L372.0 1319.4L372.8 1315.2L373.6 1321.4L374.4 1318.5L375.2 1320.2L376.0 1321.4L376.8 1321.3L377.6 1320.3L378.4 1321.3L379.2 1320.9L380.0 1321.0L380.8 1316.2L381.6 1320.5L382.4 1321.0L383.2 1317.3L384.0 1316.4L384.8 1319.6L385.6 1321.3L386.4 1318.2L387.2 1320.6L388.0 1319.2L388.8 1319.6L389.6 1319.9L390.4 1319.3L391.2 1319.0L392.0 1320.6L392.8 1320.6L393.6 1321.4L394.4 1320.9L395.2 1318.3L396.0 1321.2L396.8 1319.5L397.6 1319.1L398.4 1321.3L399.2 1319.4L400.0 1320.0L400.8 1316.0L401.6 1320.8L402.4 1319.4L403.2 1318.7L404.0 1320.8L404.8 1321.1L405.6 1320.8L406.4 1319.9L407.2 1321.0L408.0 1318.5L408.8 1320.9L409.6 1319.2L410.4 1320.8L411.2 1320.3L412.0 1318.2L412.8 1320.3L413.6 1319.8L414.4 1320.6L415.2 1320.3L416.0 1321.1L416.8 1320.1L417.6 1320.3L418.4 1320.6L419.2 1320.8L420.0 1320.5L420.8 1320.6L421.6 1320.4L422.4 1318.6L423.2 1317.6L424.0 1317.3L424.8 1320.2L425.6 1317.5L426.4 1319.6L427.2 1314.7L428.0 1320.7L428.8 1318.8L429.6 1319.6L430.4 1319.8L431.2 1318.7L432.0 1318.1L432.8 1318.1L433.6 1320.2L434.4 1320.0L435.2 1319.4L436.0 1320.7L436.8 1318.2L437.6 1319.4L438.4 1319.8L439.2 1319.1L440.0 1316.0L440.8 1318.2L441.6 1319.0L442.4 1320.2L443.2 1315.2L444.0 1319.8L444.8 1317.0L445.6 1319.4L446.4 1318.8L447.2 1317.2L448.0 1320.3L448.8 1319.9L449.6 1320.1L450.4 1320.3L451.2 1319.7L452.0 1316.6L452.8 1319.9L453.6 1320.1L454.4 1316.0L455.2 1319.2L456.0 1319.3L456.8 1318.5L457.6 1317.7L458.4 1319.8L459.2 1319.8L460.0 1319.3L460.8 1317.3L461.6 1316.2L462.4 1319.8L463.2 1318.3L464.0 1319.2L464.8 1316.9L465.6 1319.5L466.4 1319.5L467.2 1319.9L468.0 1316.9L468.8 1319.7L469.6 1319.4L470.4 1319.5L471.2 1316.0L472.0 1319.7L472.8 1319.2L473.6 1318.1L474.4 1319.5L475.2 1318.4L476.0 1318.9L476.8 1319.7L477.6 1318.2L478.4 1319.0L479.2 1319.2L480.0 1314.0L480.8 1316.8L481.6 1318.6L482.4 1318.9L483.2 1319.4L484.0 1317.5L484.8 1318.9L485.6 1318.3L486.4 1317.9L487.2 1317.2L488.0 1319.0L488.8 1319.1L489.6 1317.0L490.4 1319.1L491.2 1318.4L492.0 1319.1L492.8 1318.8L493.6 1318.8L494.4 1316.3L495.2 1317.0L496.0 1318.6L496.8 1317.7L497.6 1318.0L498.4 1318.8L499.2 1318.3L500.0 1316.8L500.8 1318.6L501.6 1318.2L502.4 1317.9L503.2 1318.4L504.0 1316.1L504.8 1317.4L505.6 1316.5L506.4 1316.8L507.2 1315.6L508.0 1316.1L508.8 1316.8L509.6 1317.3L510.4 1316.3L511.2 1316.5L512.0 1315.8L512.8 1312.7L513.6 1313.7L514.4 1311.9L515.2 1311.7L516.0 1312.0L516.8 1310.6L517.6 1306.5L518.4 1304.4L519.2 1306.3L520.0 1301.2L520.8 1301.7L521.6 1300.3L522.4 1293.9L523.2 1286.8L524.0 1278.3L524.8 1271.5L525.6 1265.7L526.4 1255.9L527.2 1248.7L528.0 1241.7L528.8 1234.7L529.6 1227.5L530.4 1221.0L531.2 1216.1L532.0 1215.3L532.8 1211.2L533.6 1204.6L534.4 1207.7L535.2 1209.5L536.0 1216.4L536.8 1219.9L537.6 1227.0L538.4 1241.1L539.2 1249.1L540.0 1261.6L540.8 1261.4L541.6 1265.9L542.4 1265.3L543.2 1267.6L544.0 1265.4L544.8 1264.1L545.6 1260.7L546.4 1262.5L547.2 1261.8L548.0 1268.4L548.8 1276.3L549.6 1283.6L550.4 1286.8L551.2 1292.5L552.0 1287.1L552.8 1283.2L553.6 1276.5L554.4 1271.8L555.2 1265.9L556.0 1259.4L556.8 1255.4L557.6 1253.7L558.4 1253.1L559.2 1253.0L560.0 1251.2L560.8 1248.7L561.6 1241.8L562.4 1237.3L563.2 1234.4L564.0 1224.5L564.8 1220.4L565.6 1211.7L566.4 1205.2L567.2 1215.4L568.0 1223.3L568.8 1233.1L569.6 1247.5L570.4 1261.8L571.2 1268.8L572.0 1272.5L572.8 1277.2L573.6 1280.4L574.4 1285.8L575.2 1288.4L576.0 1290.1L576.8 1291.3L577.6 1291.9L578.4 1291.6L579.2 1294.5L580.0 1293.6L580.8 1293.9L581.6 1297.2L582.4 1298.4L583.2 1302.0L584.0 1301.5L584.8 1304.6L585.6 1303.8L586.4 1306.4L587.2 1308.4L588.0 1305.3L588.8 1309.8L589.6 1306.0L590.4 1309.3L591.2 1308.6L592.0 1311.7L592.8 1313.3L593.6 1312.9L594.4 1314.6L595.2 1314.3L596.0 1312.0L596.8 1316.8L597.6 1316.8L598.4 1316.5L599.2 1317.6L600.0 1317.2L600.8 1317.3L601.6 1318.1L602.4 1318.5L603.2 1317.3L604.0 1318.7L604.8 1317.5L605.6 1318.6L606.4 1316.1L607.2 1319.0L608.0 1318.4L608.8 1319.2L609.6 1315.3L610.4 1319.3L611.2 1318.1L612.0 1319.2L612.8 1318.2L613.6 1318.5L614.4 1317.8L615.2 1318.6L616.0 1319.2L616.8 1319.3L617.6 1320.0L618.4 1320.1L619.2 1320.1L620.0 1316.4L620.8 1318.8L621.6 1316.9L622.4 1319.1L623.2 1320.2L624.0 1320.5L624.8 1319.4L625.6 1315.2L626.4 1318.3L627.2 1320.6L628.0 1320.0L628.8 1320.5L629.6 1320.3L630.4 1319.1L631.2 1320.2L632.0 1319.8L632.8 1320.4L633.6 1320.1L634.4 1320.2L635.2 1319.7L636.0 1320.9L636.8 1314.8L637.6 1320.8L638.4 1321.0L639.2 1317.5L640.0 1320.5L640.8 1321.2L641.6 1320.8L642.4 1318.8L643.2 1319.2L644.0 1319.7L644.8 1318.7L645.6 1320.4L646.4 1317.6L647.2 1320.9L648.0 1320.4L648.8 1318.8L649.6 1320.3L650.4 1321.1L651.2 1321.0L652.0 1318.6L652.8 1320.5L653.6 1321.0L654.4 1320.2L655.2 1321.5L656.0 1319.7L656.8 1321.1L657.6 1320.7L658.4 1321.2L659.2 1318.9L660.0 1321.6L660.8 1318.9L661.6 1320.3L662.4 1321.7L663.2 1321.8L664.0 1321.6L664.8 1321.2L665.6 1317.8L666.4 1319.8L667.2 1321.7L668.0 1321.2L668.8 1322.2L669.6 1320.0L670.4 1320.4L671.2 1320.8L672.0 1321.0L672.8 1322.3L673.6 1321.3L674.4 1321.1L675.2 1321.0L676.0 1319.1L676.8 1321.9L677.6 1322.1L678.4 1321.7L679.2 1321.2L680.0 1319.8L680.8 1320.6L681.6 1321.6L682.4 1322.0L683.2 1320.7L684.0 1322.1L684.8 1322.0L685.6 1322.8L686.4 1321.8L687.2 1322.6L688.0 1317.9L688.8 1322.8L689.6 1322.9L690.4 1321.9L691.2 1316.9L692.0 1322.6L692.8 1322.9L693.6 1323.0L694.4 1323.2L695.2 1321.8L696.0 1322.6L696.8 1320.7L697.6 1322.9L698.4 1322.1L699.2 1323.3L700.0 1322.8L700.8 1319.8L701.6 1322.0L702.4 1322.5L703.2 1319.4L704.0 1322.8L704.8 1323.3L705.6 1322.5L706.4 1322.1L707.2 1321.0L708.0 1322.8L708.8 1322.4L709.6 1320.2L710.4 1322.0L711.2 1323.0L712.0 1319.5L712.8 1322.2L713.6 1320.8L714.4 1321.1L715.2 1321.9L716.0 1323.0L716.8 1322.0L717.6 1323.4L718.4 1321.9L719.2 1322.4L720.0 1323.0L720.8 1322.7L721.6 1323.1L722.4 1322.6L723.2 1322.8L724.0 1322.6L724.8 1323.6L725.6 1323.4L726.4 1320.7L727.2 1323.3L728.0 1323.1L728.8 1321.9L729.6 1322.9L730.4 1322.9L731.2 1323.6L732.0 1322.8L732.8 1322.4L733.6 1322.8L734.4 1323.0L735.2 1323.4L736.0 1323.0L736.8 1323.6L737.6 1323.2L738.4 1323.7L739.2 1323.5L740.0 1323.6L740.8 1319.8L741.6 1322.6L742.4 1323.4L743.2 1322.3L744.0 1323.3L744.8 1322.2L745.6 1322.7L746.4 1323.0L747.2 1320.3L748.0 1322.1L748.8 1319.4L749.6 1323.3L750.4 1323.1L751.2 1322.2L752.0 1322.4L752.8 1323.4L753.6 1323.7L754.4 1321.2L755.2 1323.2L756.0 1323.9L756.8 1322.1L757.6 1323.3L758.4 1321.9L759.2 1323.7L760.0 1323.5L760.8 1320.3L761.6 1322.5L762.4 1323.2L763.2 1321.0L764.0 1322.3L764.8 1323.7L765.6 1323.5L766.4 1320.8L767.2 1319.9L768.0 1322.2L768.8 1322.9L769.6 1320.4L770.4 1322.4L771.2 1319.9L772.0 1322.2L772.8 1323.7L773.6 1321.0L774.4 1323.0L775.2 1323.5L776.0 1323.7L776.8 1323.7L777.6 1323.0L778.4 1324.1L779.2 1323.5L780.0 1323.8L780.8 1324.1L781.6 1323.2L782.4 1323.6L783.2 1321.1L784.0 1323.1L784.8 1324.0L785.6 1324.2L786.4 1323.0L787.2 1322.0L788.0 1323.5L788.8 1323.2L789.6 1321.9L790.4 1322.8L791.2 1323.0L792.0 1321.0L792.8 1324.1L793.6 1324.1L794.4 1320.1L795.2 1322.0L796.0 1318.8L796.8 1323.3L797.6 1323.6L798.4 1319.9L799.2 1323.0L800.0 1323.7L800.8 1323.7L801.6 1323.5L802.4 1324.4L803.2 1324.3L804.0 1323.0L804.8 1322.8L805.6 1321.4L806.4 1323.3L807.2 1324.4L808.0 1322.9L808.8 1324.4L809.6 1323.5L810.4 1324.3L811.2 1324.2L812.0 1321.6L812.8 1323.5L813.6 1322.6L814.4 1324.5L815.2 1323.8L816.0 1324.0L816.8 1319.1L817.6 1322.7L818.4 1322.2L819.2 1323.1L820.0 1324.7L820.8 1322.5L821.6 1322.9L822.4 1323.0L823.2 1324.0L824.0 1324.4L824.8 1323.8L825.6 1324.1L826.4 1324.7L827.2 1322.7L828.0 1323.3L828.8 1324.7L829.6 1323.5L830.4 1320.5L831.2 1323.8L832.0 1324.9L832.8 1319.9L833.6 1323.4L834.4 1324.0L835.2 1320.4L836.0 1324.2L836.8 1324.7L837.6 1325.1L838.4 1322.7L839.2 1324.8L840.0 1322.7L840.8 1325.0L841.6 1323.6L842.4 1325.1L843.2 1323.2L844.0 1325.1L844.8 1321.8L845.6 1323.9L846.4 1322.8L847.2 1321.3L848.0 1323.9L848.8 1324.0L849.6 1321.3L850.4 1323.5L851.2 1322.9L852.0 1324.2L852.8 1319.0L853.6 1324.1L854.4 1325.1L855.2 1325.3L856.0 1322.6L856.8 1325.2L857.6 1324.0L858.4 1324.3L859.2 1322.9L860.0 1324.7L860.8 1325.1L861.6 1325.1L862.4 1325.2L863.2 1324.3L864.0 1325.2L864.8 1324.5L865.6 1324.9L866.4 1325.1L867.2 1323.4L868.0 1322.9L868.8 1323.3L869.6 1324.5L870.4 1324.3L871.2 1323.4L872.0 1323.7L872.8 1324.1L873.6 1324.8L874.4 1324.8L875.2 1324.0L876.0 1322.9L876.8 1324.5L877.6 1324.0L878.4 1318.9L879.2 1324.5L880.0 1322.8L880.8 1323.8L881.6 1324.4L882.4 1324.1L883.2 1325.0L884.0 1323.8L884.8 1322.4L885.6 1325.0L886.4 1323.5L887.2 1325.0L888.0 1324.9L888.8 1323.6L889.6 1323.9L890.4 1324.7L891.2 1324.4L892.0 1324.9L892.8 1323.3L893.6 1323.3L894.4 1320.1L895.2 1323.3L896.0 1321.3L896.8 1322.6L897.6 1323.7L898.4 1323.8L899.2 1324.8L900.0 1324.7L900.8 1323.6L901.6 1324.2L902.4 1324.7L903.2 1322.4L904.0 1324.2L904.8 1324.8L905.6 1324.7L906.4 1324.8L907.2 1324.5L908.0 1323.7L908.8 1323.8L909.6 1324.5L910.4 1324.6L911.2 1323.9L912.0 1323.4L912.8 1323.8L913.6 1323.7L914.4 1321.0L915.2 1322.1L916.0 1322.7L916.8 1324.0L917.6 1323.5L918.4 1322.8L919.2 1323.9L920.0 1324.7L920.8 1323.1L921.6 1321.7L922.4 1324.1L923.2 1322.4L924.0 1322.8L924.8 1323.1L925.6 1324.6L926.4 1324.6L927.2 1323.6L928.0 1323.5L928.8 1324.5L929.6 1319.3L930.4 1324.2L931.2 1322.5L932.0 1323.8L932.8 1323.7L933.6 1322.0L934.4 1319.1L935.2 1324.5L936.0 1322.5L936.8 1323.0L937.6 1323.4L938.4 1323.8L939.2 1323.5L940.0 1324.0L940.8 1320.4L941.6 1324.3L942.4 1324.2L943.2 1322.6L944.0 1323.5L944.8 1322.9L945.6 1323.0L946.4 1322.5L947.2 1324.2L948.0 1322.6L948.8 1323.8L949.6 1322.6L950.4 1323.8L951.2 1321.8L952.0 1321.6L952.8 1322.9L953.6 1323.9L954.4 1323.6L955.2 1323.7L956.0 1324.1L956.8 1324.3L957.6 1322.9L958.4 1323.5L959.2 1324.3L960.0 1322.9L960.8 1323.0L961.6 1323.3L962.4 1324.2L963.2 1323.5L964.0 1323.3L964.8 1324.2L965.6 1324.0L966.4 1318.2L967.2 1318.9L968.0 1321.0L968.8 1323.4L969.6 1322.4L970.4 1324.2L971.2 1323.6L972.0 1322.6L972.8 1323.8L973.6 1321.6L974.4 1322.0L974.4 1349.9L973.6 1351.3L972.8 1349.7L972.0 1349.5L971.2 1350.2L970.4 1350.9L969.6 1349.9L968.8 1350.1L968.0 1351.7L967.2 1354.0L966.4 1354.4L965.6 1349.5L964.8 1349.9L964.0 1351.3L963.2 1349.8L962.4 1349.5L961.6 1352.7L960.8 1350.0L960.0 1352.1L959.2 1350.7L958.4 1352.1L957.6 1349.5L956.8 1349.9L956.0 1350.0L955.2 1350.3L954.4 1353.9L953.6 1350.6L952.8 1349.5L952.0 1349.8L951.2 1349.7L950.4 1353.8L949.6 1351.8L948.8 1350.1L948.0 1350.2L947.2 1351.6L946.4 1349.8L945.6 1350.4L944.8 1349.6L944.0 1352.2L943.2 1349.6L942.4 1351.4L941.6 1349.5L940.8 1349.9L940.0 1349.4L939.2 1351.4L938.4 1349.4L937.6 1350.2L936.8 1349.5L936.0 1349.2L935.2 1350.6L934.4 1350.9L933.6 1351.1L932.8 1352.6L932.0 1351.5L931.2 1352.0L930.4 1350.0L929.6 1351.2L928.8 1349.3L928.0 1350.1L927.2 1349.4L926.4 1349.3L925.6 1349.6L924.8 1349.4L924.0 1350.4L923.2 1349.2L922.4 1349.7L921.6 1349.8L920.8 1350.8L920.0 1350.8L919.2 1351.2L918.4 1349.5L917.6 1349.1L916.8 1355.3L916.0 1349.7L915.2 1350.1L914.4 1349.7L913.6 1351.3L912.8 1349.4L912.0 1350.4L911.2 1349.8L910.4 1351.7L909.6 1351.3L908.8 1349.9L908.0 1351.5L907.2 1350.6L906.4 1350.8L905.6 1351.9L904.8 1349.4L904.0 1353.2L903.2 1349.3L902.4 1350.7L901.6 1353.0L900.8 1353.1L900.0 1352.1L899.2 1351.8L898.4 1348.9L897.6 1349.1L896.8 1349.0L896.0 1351.3L895.2 1351.3L894.4 1350.7L893.6 1348.9L892.8 1352.7L892.0 1348.8L891.2 1348.9L890.4 1349.1L889.6 1349.0L888.8 1349.9L888.0 1349.1L887.2 1349.0L886.4 1348.7L885.6 1349.1L884.8 1349.6L884.0 1349.1L883.2 1350.1L882.4 1352.7L881.6 1350.5L880.8 1349.3L880.0 1349.9L879.2 1353.4L878.4 1348.7L877.6 1349.5L876.8 1348.6L876.0 1349.8L875.2 1350.1L874.4 1350.0L873.6 1349.5L872.8 1350.8L872.0 1349.3L871.2 1349.6L870.4 1349.5L869.6 1351.7L868.8 1349.1L868.0 1350.8L867.2 1354.2L866.4 1348.8L865.6 1349.1L864.8 1350.1L864.0 1351.1L863.2 1354.7L862.4 1351.8L861.6 1348.6L860.8 1348.4L860.0 1350.0L859.2 1350.3L858.4 1349.9L857.6 1351.6L856.8 1350.0L856.0 1348.7L855.2 1349.5L854.4 1354.7L853.6 1351.0L852.8 1349.5L852.0 1351.0L851.2 1350.2L850.4 1352.3L849.6 1351.8L848.8 1352.0L848.0 1349.9L847.2 1348.7L846.4 1348.7L845.6 1349.4L844.8 1350.2L844.0 1348.8L843.2 1349.4L842.4 1350.0L841.6 1349.5L840.8 1350.6L840.0 1352.5L839.2 1351.9L838.4 1350.6L837.6 1349.6L836.8 1349.8L836.0 1348.9L835.2 1350.0L834.4 1349.1L833.6 1348.9L832.8 1349.5L832.0 1349.3L831.2 1349.7L830.4 1355.1L829.6 1348.9L828.8 1350.4L828.0 1349.5L827.2 1349.1L826.4 1349.0L825.6 1349.2L824.8 1349.0L824.0 1351.9L823.2 1350.0L822.4 1351.4L821.6 1349.8L820.8 1349.1L820.0 1349.8L819.2 1349.9L818.4 1349.8L817.6 1349.6L816.8 1350.0L816.0 1349.2L815.2 1351.6L814.4 1349.5L813.6 1349.2L812.8 1354.1L812.0 1349.2L811.2 1349.2L810.4 1349.4L809.6 1349.7L808.8 1349.8L808.0 1350.6L807.2 1349.5L806.4 1349.6L805.6 1349.6L804.8 1351.3L804.0 1349.7L803.2 1349.6L802.4 1349.5L801.6 1349.4L800.8 1350.1L800.0 1350.5L799.2 1349.8L798.4 1351.7L797.6 1349.5L796.8 1349.8L796.0 1355.5L795.2 1350.2L794.4 1350.2L793.6 1349.5L792.8 1349.6L792.0 1352.5L791.2 1349.7L790.4 1350.5L789.6 1350.4L788.8 1350.6L788.0 1355.7L787.2 1350.6L786.4 1351.1L785.6 1350.4L784.8 1350.6L784.0 1351.4L783.2 1349.9L782.4 1352.6L781.6 1350.0L780.8 1352.1L780.0 1349.7L779.2 1350.6L778.4 1350.0L777.6 1349.9L776.8 1350.4L776.0 1350.0L775.2 1353.0L774.4 1354.5L773.6 1350.1L772.8 1349.8L772.0 1350.0L771.2 1350.1L770.4 1353.7L769.6 1352.7L768.8 1350.0L768.0 1350.6L767.2 1350.5L766.4 1352.7L765.6 1352.3L764.8 1352.7L764.0 1350.7L763.2 1350.4L762.4 1350.0L761.6 1350.2L760.8 1349.9L760.0 1350.3L759.2 1350.1L758.4 1350.1L757.6 1350.4L756.8 1350.3L756.0 1352.8L755.2 1350.6L754.4 1350.9L753.6 1350.1L752.8 1355.0L752.0 1350.3L751.2 1350.3L750.4 1352.3L749.6 1351.7L748.8 1352.9L748.0 1350.3L747.2 1351.3L746.4 1352.9L745.6 1350.5L744.8 1350.2L744.0 1356.3L743.2 1352.4L742.4 1356.3L741.6 1350.2L740.8 1351.8L740.0 1351.7L739.2 1352.0L738.4 1350.3L737.6 1350.8L736.8 1350.5L736.0 1350.7L735.2 1352.7L734.4 1351.2L733.6 1354.4L732.8 1350.8L732.0 1351.0L731.2 1353.0L730.4 1351.0L729.6 1350.5L728.8 1352.0L728.0 1352.7L727.2 1351.6L726.4 1353.4L725.6 1351.5L724.8 1352.1L724.0 1351.2L723.2 1353.7L722.4 1352.7L721.6 1351.7L720.8 1354.3L720.0 1351.4L719.2 1350.3L718.4 1351.4L717.6 1351.7L716.8 1350.5L716.0 1350.4L715.2 1352.2L714.4 1350.6L713.6 1350.8L712.8 1351.8L712.0 1356.4L711.2 1350.9L710.4 1351.0L709.6 1352.7L708.8 1352.4L708.0 1350.4L707.2 1353.4L706.4 1352.3L705.6 1351.1L704.8 1353.6L704.0 1352.1L703.2 1354.8L702.4 1352.9L701.6 1353.5L700.8 1352.0L700.0 1351.0L699.2 1351.3L698.4 1352.8L697.6 1350.8L696.8 1352.1L696.0 1350.7L695.2 1351.2L694.4 1351.7L693.6 1355.0L692.8 1352.7L692.0 1351.0L691.2 1351.3L690.4 1351.7L689.6 1351.6L688.8 1351.8L688.0 1354.1L687.2 1353.6L686.4 1352.3L685.6 1354.5L684.8 1352.6L684.0 1351.7L683.2 1352.0L682.4 1351.2L681.6 1354.1L680.8 1353.1L680.0 1354.0L679.2 1351.7L678.4 1356.5L677.6 1351.7L676.8 1351.7L676.0 1355.2L675.2 1351.6L674.4 1353.6L673.6 1351.4L672.8 1352.3L672.0 1352.9L671.2 1351.8L670.4 1357.1L669.6 1353.9L668.8 1356.6L668.0 1354.0L667.2 1351.9L666.4 1352.5L665.6 1352.7L664.8 1354.3L664.0 1352.4L663.2 1352.7L662.4 1351.9L661.6 1358.1L660.8 1353.0L660.0 1354.2L659.2 1356.4L658.4 1352.8L657.6 1352.4L656.8 1352.6L656.0 1352.1L655.2 1354.7L654.4 1355.1L653.6 1355.3L652.8 1352.4L652.0 1353.5L651.2 1352.5L650.4 1353.0L649.6 1353.0L648.8 1354.9L648.0 1355.8L647.2 1353.3L646.4 1353.0L645.6 1353.7L644.8 1353.1L644.0 1354.4L643.2 1352.7L642.4 1354.3L641.6 1356.0L640.8 1352.7L640.0 1352.9L639.2 1353.0L638.4 1353.2L637.6 1356.1L636.8 1354.2L636.0 1353.5L635.2 1353.3L634.4 1353.7L633.6 1353.7L632.8 1353.6L632.0 1353.8L631.2 1354.7L630.4 1353.4L629.6 1353.7L628.8 1353.7L628.0 1353.6L627.2 1353.9L626.4 1354.4L625.6 1354.8L624.8 1354.2L624.0 1353.9L623.2 1354.6L622.4 1353.7L621.6 1355.6L620.8 1354.6L620.0 1354.2L619.2 1359.7L618.4 1354.2L617.6 1355.0L616.8 1354.1L616.0 1355.0L615.2 1356.3L614.4 1353.8L613.6 1353.8L612.8 1354.0L612.0 1356.6L611.2 1356.7L610.4 1355.3L609.6 1354.5L608.8 1356.4L608.0 1354.9L607.2 1356.0L606.4 1354.8L605.6 1355.2L604.8 1357.4L604.0 1355.4L603.2 1355.5L602.4 1356.8L601.6 1359.3L600.8 1356.5L600.0 1356.3L599.2 1356.5L598.4 1357.0L597.6 1358.7L596.8 1357.5L596.0 1358.0L595.2 1358.0L594.4 1359.3L593.6 1360.8L592.8 1364.8L592.0 1360.7L591.2 1361.6L590.4 1363.9L589.6 1366.8L588.8 1366.0L588.0 1365.3L587.2 1366.4L586.4 1371.0L585.6 1368.0L584.8 1371.0L584.0 1370.9L583.2 1376.0L582.4 1375.9L581.6 1379.2L580.8 1376.0L580.0 1377.4L579.2 1380.7L578.4 1385.8L577.6 1382.8L576.8 1384.9L576.0 1384.9L575.2 1385.6L574.4 1390.5L573.6 1393.1L572.8 1397.3L572.0 1401.9L571.2 1403.9L570.4 1411.9L569.6 1429.2L568.8 1440.6L568.0 1451.5L567.2 1461.0L566.4 1468.9L565.6 1461.3L564.8 1453.1L564.0 1447.3L563.2 1440.5L562.4 1434.5L561.6 1430.2L560.8 1425.8L560.0 1425.6L559.2 1421.1L558.4 1421.8L557.6 1421.0L556.8 1417.9L556.0 1414.9L555.2 1410.0L554.4 1404.0L553.6 1396.9L552.8 1391.7L552.0 1385.4L551.2 1383.1L550.4 1385.5L549.6 1390.9L548.8 1399.1L548.0 1407.5L547.2 1412.1L546.4 1412.5L545.6 1411.0L544.8 1410.1L544.0 1409.9L543.2 1408.0L542.4 1406.4L541.6 1410.6L540.8 1409.3L540.0 1412.4L539.2 1423.8L538.4 1433.1L537.6 1448.9L536.8 1453.0L536.0 1459.0L535.2 1463.1L534.4 1467.9L533.6 1463.8L532.8 1461.0L532.0 1459.3L531.2 1457.9L530.4 1451.2L529.6 1446.7L528.8 1439.4L528.0 1433.7L527.2 1428.1L526.4 1420.7L525.6 1407.9L524.8 1399.8L524.0 1393.4L523.2 1390.1L522.4 1379.5L521.6 1373.2L520.8 1373.2L520.0 1372.5L519.2 1367.4L518.4 1365.6L517.6 1363.4L516.8 1361.4L516.0 1361.0L515.2 1360.1L514.4 1360.6L513.6 1360.4L512.8 1359.5L512.0 1358.7L511.2 1358.9L510.4 1359.7L509.6 1357.9L508.8 1356.4L508.0 1356.8L507.2 1357.9L506.4 1357.3L505.6 1356.9L504.8 1357.5L504.0 1355.5L503.2 1358.8L502.4 1355.3L501.6 1356.8L500.8 1358.0L500.0 1356.2L499.2 1359.7L498.4 1355.2L497.6 1356.4L496.8 1355.4L496.0 1355.4L495.2 1359.5L494.4 1355.5L493.6 1355.1L492.8 1356.3L492.0 1354.9L491.2 1354.7L490.4 1354.9L489.6 1354.6L488.8 1356.5L488.0 1355.4L487.2 1355.6L486.4 1354.9L485.6 1355.7L484.8 1355.3L484.0 1354.9L483.2 1356.4L482.4 1357.0L481.6 1355.9L480.8 1355.6L480.0 1355.9L479.2 1354.5L478.4 1360.4L477.6 1355.6L476.8 1354.4L476.0 1355.0L475.2 1354.6L474.4 1355.4L473.6 1355.2L472.8 1357.5L472.0 1357.4L471.2 1356.0L470.4 1357.3L469.6 1355.7L468.8 1354.3L468.0 1354.2L467.2 1356.3L466.4 1354.0L465.6 1356.7L464.8 1354.3L464.0 1354.2L463.2 1355.9L462.4 1357.7L461.6 1354.3L460.8 1359.9L460.0 1356.0L459.2 1354.3L458.4 1355.9L457.6 1353.6L456.8 1354.9L456.0 1355.3L455.2 1355.1L454.4 1355.7L453.6 1356.6L452.8 1358.1L452.0 1355.6L451.2 1354.7L450.4 1353.8L449.6 1353.6L448.8 1354.5L448.0 1353.6L447.2 1353.7L446.4 1353.7L445.6 1355.5L444.8 1354.7L444.0 1357.9L443.2 1355.2L442.4 1354.6L441.6 1356.0L440.8 1353.6L440.0 1354.5L439.2 1354.4L438.4 1353.2L437.6 1355.2L436.8 1355.5L436.0 1357.8L435.2 1353.1L434.4 1353.3L433.6 1356.1L432.8 1354.2L432.0 1353.0L431.2 1356.5L430.4 1354.5L429.6 1353.7L428.8 1353.7L428.0 1353.6L427.2 1354.8L426.4 1353.5L425.6 1353.2L424.8 1353.8L424.0 1356.1L423.2 1353.2L422.4 1357.9L421.6 1353.6L420.8 1353.2L420.0 1352.7L419.2 1352.9L418.4 1352.9L417.6 1352.9L416.8 1356.4L416.0 1353.5L415.2 1353.0L414.4 1355.0L413.6 1354.9L412.8 1354.1L412.0 1353.0L411.2 1354.1L410.4 1353.1L409.6 1353.5L408.8 1354.4L408.0 1353.5L407.2 1354.1L406.4 1356.6L405.6 1352.7L404.8 1353.4L404.0 1352.5L403.2 1353.6L402.4 1355.1L401.6 1352.7L400.8 1352.3L400.0 1353.9L399.2 1358.5L398.4 1353.4L397.6 1352.5L396.8 1353.1L396.0 1353.0L395.2 1352.9L394.4 1353.4L393.6 1354.0L392.8 1356.5L392.0 1353.7L391.2 1358.3L390.4 1353.9L389.6 1358.5L388.8 1353.4L388.0 1353.8L387.2 1355.1L386.4 1352.6L385.6 1354.2L384.8 1352.8L384.0 1354.9L383.2 1353.1L382.4 1355.3L381.6 1353.1L380.8 1352.6L380.0 1352.4L379.2 1353.1L378.4 1357.9L377.6 1353.5L376.8 1353.1L376.0 1353.2L375.2 1353.2L374.4 1354.2L373.6 1353.1L372.8 1353.9L372.0 1352.8L371.2 1352.8L370.4 1353.9L369.6 1352.7L368.8 1353.1L368.0 1352.5L367.2 1353.6L366.4 1354.0L365.6 1353.1L364.8 1352.7L364.0 1352.9L363.2 1354.5L362.4 1352.6L361.6 1354.5L360.8 1353.7L360.0 1354.2L359.2 1353.4L358.4 1353.0L357.6 1355.2L356.8 1355.5L356.0 1353.4L355.2 1353.6L354.4 1354.4L353.6 1352.7L352.8 1353.0L352.0 1354.1L351.2 1353.6L350.4 1354.0L349.6 1355.6L348.8 1353.5L348.0 1354.2L347.2 1358.8L346.4 1353.8L345.6 1354.6L344.8 1356.9L344.0 1357.5L343.2 1353.0L342.4 1353.0L341.6 1353.1L340.8 1355.8L340.0 1353.1L339.2 1352.9L338.4 1355.7L337.6 1352.8L336.8 1358.9L336.0 1353.4L335.2 1354.0L334.4 1354.9L333.6 1353.7L332.8 1352.9L332.0 1353.6L331.2 1354.3L330.4 1357.5L329.6 1353.5L328.8 1352.7L328.0 1358.0L327.2 1356.9L326.4 1356.4L325.6 1353.3L324.8 1353.1L324.0 1355.3L323.2 1354.1L322.4 1355.1L321.6 1352.9L320.8 1354.2L320.0 1355.2L319.2 1352.9L318.4 1354.8L317.6 1354.0L316.8 1353.1L316.0 1353.9L315.2 1354.5L314.4 1359.0L313.6 1354.5L312.8 1352.9L312.0 1357.6L311.2 1353.0L310.4 1354.4L309.6 1357.4L308.8 1353.3L308.0 1353.7L307.2 1353.9L306.4 1353.4L305.6 1352.9L304.8 1355.5L304.0 1353.2L303.2 1353.8L302.4 1353.2L301.6 1352.9L300.8 1354.0L300.0 1354.8L299.2 1354.2L298.4 1355.0L297.6 1353.0L296.8 1353.5L296.0 1353.1L295.2 1353.9L294.4 1353.2L293.6 1358.2L292.8 1355.3L292.0 1354.1L291.2 1355.1L290.4 1354.6L289.6 1353.2L288.8 1353.4L288.0 1356.2L287.2 1356.5L286.4 1354.4L285.6 1356.7L284.8 1354.5L284.0 1353.4L283.2 1353.1L282.4 1353.9L281.6 1355.6L280.8 1354.3L280.0 1356.6L279.2 1352.9L278.4 1353.7L277.6 1354.1L276.8 1353.1L276.0 1353.8L275.2 1354.9L274.4 1355.3L273.6 1354.8L272.8 1354.7L272.0 1354.0L271.2 1353.1L270.4 1353.4L269.6 1353.8L268.8 1354.1L268.0 1353.6L267.2 1355.5L266.4 1355.5L265.6 1354.1L264.8 1353.7L264.0 1353.1L263.2 1356.0L262.4 1354.0L261.6 1355.2L260.8 1357.1L260.0 1353.9L259.2 1355.8L258.4 1355.1L257.6 1357.7L256.8 1354.5L256.0 1355.5L255.2 1356.4L254.4 1356.9L253.6 1353.9L252.8 1355.0L252.0 1355.1L251.2 1353.1L250.4 1353.7L249.6 1353.3L248.8 1353.1L248.0 1356.4L247.2 1354.6L246.4 1353.2L245.6 1353.8L244.8 1355.2L244.0 1354.0L243.2 1354.0L242.4 1354.0L241.6 1355.7L240.8 1354.1L240.0 1355.5L239.2 1354.2L238.4 1355.3L237.6 1354.2L236.8 1354.4L236.0 1353.1L235.2 1353.7L234.4 1359.2L233.6 1353.8L232.8 1358.0L232.0 1354.0L231.2 1353.9L230.4 1353.4L229.6 1354.0L228.8 1353.6L228.0 1356.5L227.2 1353.4L226.4 1353.2L225.6 1358.1L224.8 1353.7L224.0 1353.2L223.2 1356.4L222.4 1353.4L221.6 1358.8L220.8 1355.9L220.0 1354.4L219.2 1355.5L218.4 1353.3L217.6 1357.0L216.8 1354.3L216.0 1354.3L215.2 1355.5L214.4 1354.6L213.6 1356.1L212.8 1353.9L212.0 1353.4L211.2 1355.1L210.4 1353.4L209.6 1355.7L208.8 1354.2L208.0 1355.1L207.2 1353.5L206.4 1354.8L205.6 1353.5L204.8 1355.3L204.0 1354.4L203.2 1353.2L202.4 1354.1L201.6 1355.4L200.8 1353.1L200.0 1353.9L199.2 1356.1L198.4 1356.6L197.6 1354.6L196.8 1353.0L196.0 1353.7L195.2 1353.1L194.4 1353.5L193.6 1353.0L192.8 1353.9L192.0 1353.3L191.2 1353.8L190.4 1353.0L189.6 1357.3L188.8 1355.9L188.0 1353.4L187.2 1353.9L186.4 1353.1L185.6 1353.7L184.8 1356.8L184.0 1355.8L183.2 1354.1L182.4 1358.0L181.6 1355.7L180.8 1354.1L180.0 1356.9L179.2 1353.5L178.4 1353.4L177.6 1354.7L176.8 1353.2L176.0 1359.2L175.2 1354.0L174.4 1353.7L173.6 1353.0L172.8 1353.5L172.0 1353.2L171.2 1353.4L170.4 1353.4L169.6 1353.7L168.8 1353.7L168.0 1355.2L167.2 1353.1L166.4 1355.7L165.6 1357.3L164.8 1359.2L164.0 1353.4L163.2 1353.4L162.4 1356.4L161.6 1353.3L160.8 1353.6L160.0 1355.7L159.2 1354.4L158.4 1353.3L157.6 1354.3L156.8 1353.3L156.0 1355.3L155.2 1354.9L154.4 1357.7L153.6 1354.8L152.8 1353.7L152.0 1354.8L151.2 1354.5L150.4 1352.9L149.6 1358.6L148.8 1353.0L148.0 1354.2L147.2 1354.1L146.4 1354.7L145.6 1353.7L144.8 1354.0L144.0 1354.6L143.2 1354.7L142.4 1354.1L141.6 1352.9L140.8 1353.2L140.0 1353.1L139.2 1353.9L138.4 1354.9L137.6 1355.1L136.8 1352.9L136.0 1354.1L135.2 1354.3L134.4 1353.9L133.6 1353.0L132.8 1355.6L132.0 1355.5L131.2 1355.8L130.4 1353.8L129.6 1353.0L128.8 1355.9L128.0 1354.1L127.2 1355.0L126.4 1353.3L125.6 1354.4L124.8 1353.0L124.0 1353.4Z" fill="#d3d3d3"/>
<g clip-path="url(#cLB)">
<path d="M125.4 1329.7L126.1 1325.0L126.8 1327.9L127.5 1334.4L128.9 1352.8L130.3 1358.8L131.0 1359.7L134.5 1311.2L135.2 1308.2L137.3 1328.9L140.8 1367.9L141.5 1366.8L142.9 1343.6L145.0 1313.9L145.7 1308.8L147.1 1316.6L148.5 1328.5L149.9 1338.3L150.6 1338.1L151.3 1335.4L152.7 1325.6L153.4 1324.4L154.1 1324.9L154.8 1327.9L155.5 1329.1L156.9 1323.2L158.3 1326.4L160.4 1344.4L161.1 1347.3L161.8 1349.3L162.5 1350.1L163.2 1348.7L163.9 1348.4L164.6 1349.6L165.3 1344.5L168.1 1315.3L169.5 1324.7L170.9 1336.3L171.6 1334.3L173.0 1323.5L173.7 1326.4L175.1 1339.1L176.5 1342.1L177.9 1355.9L178.6 1359.7L179.3 1354.3L180.0 1346.2L181.4 1324.9L182.8 1315.0L183.5 1318.6L184.2 1329.0L185.6 1342.5L187.7 1345.7L188.4 1344.6L189.1 1344.1L189.8 1345.1L191.2 1335.3L192.6 1313.9L193.3 1306.9L194.0 1302.2L195.4 1319.0L196.1 1323.9L196.8 1326.8L198.2 1341.4L199.6 1349.7L201.0 1355.6L201.7 1358.0L202.4 1354.1L205.2 1321.0L205.9 1318.4L208.7 1342.5L209.4 1347.1L210.8 1353.0L212.2 1368.1L212.9 1368.6L213.6 1363.7L215.0 1350.7L216.4 1343.7L217.8 1335.0L218.5 1340.5L219.9 1355.7L220.6 1358.5L221.3 1353.9L222.0 1346.2L222.7 1341.6L223.4 1341.7L224.1 1340.7L225.5 1323.4L226.2 1316.3L226.9 1311.7L227.6 1315.7L229.0 1329.8L230.4 1338.8L231.1 1340.0L233.9 1314.0L235.3 1308.2L236.0 1301.9L236.7 1298.1L238.1 1307.8L240.2 1335.1L240.9 1341.6L241.6 1343.9L242.3 1340.3L243.7 1330.0L244.4 1329.0L245.1 1329.8L245.8 1327.7L247.9 1316.2L248.6 1316.0L249.3 1316.7L250.0 1313.5L250.7 1308.6L251.4 1306.5L252.1 1306.1L253.5 1319.1L254.9 1327.8L255.6 1334.6L256.3 1331.7L257.7 1311.9L258.4 1308.7L259.1 1310.6L259.8 1311.8L261.2 1310.7L261.9 1311.7L263.3 1315.8L264.7 1331.6L266.1 1341.2L266.8 1339.8L267.5 1334.6L268.9 1329.0L270.3 1312.6L271.0 1306.9L272.4 1300.2L273.1 1303.7L274.5 1319.8L277.3 1361.9L278.0 1355.6L280.1 1325.1L280.8 1317.2L281.5 1319.4L282.2 1328.9L283.6 1341.6L284.3 1338.0L285.7 1333.1L287.1 1314.1L287.8 1310.0L288.5 1309.7L289.2 1312.8L289.9 1314.2L291.3 1303.5L292.0 1301.1L292.7 1301.2L293.4 1303.7L294.8 1313.6L296.2 1319.1L298.3 1335.2L299.0 1339.3L299.7 1339.9L301.1 1331.7L302.5 1328.6L303.2 1328.5L303.9 1334.6L305.3 1344.0L306.7 1360.0L307.4 1361.6L310.2 1313.7L310.9 1310.5L311.6 1309.2L312.3 1310.9L314.4 1325.5L315.1 1325.9L315.8 1325.4L316.5 1329.7L317.2 1336.0L318.6 1353.1L319.3 1352.1L320.0 1347.6L321.4 1334.0L322.1 1334.8L322.8 1336.3L324.9 1345.5L325.6 1347.4L326.3 1347.3L327.0 1345.8L327.7 1345.5L328.4 1347.8L329.1 1351.5L329.8 1352.8L330.5 1352.4L331.2 1347.0L331.9 1343.9L332.6 1343.5L333.3 1345.6L334.0 1345.5L334.7 1343.4L335.4 1345.5L336.8 1332.5L338.2 1302.9L338.9 1295.3L340.3 1309.8L341.0 1312.3L341.7 1321.0L342.4 1335.0L343.1 1355.3L343.8 1359.5L344.5 1351.8L345.9 1328.2L347.3 1316.9L348.0 1313.4L348.7 1319.0L350.8 1331.8L351.5 1329.2L352.2 1327.6L352.9 1327.4L353.6 1325.5L354.3 1329.3L356.4 1355.4L357.1 1352.6L358.5 1342.2L359.9 1334.2L360.6 1338.9L362.0 1345.2L364.1 1363.9L364.8 1367.4L366.2 1356.1L367.6 1341.9L369.0 1335.7L370.4 1344.1L371.8 1342.4L373.2 1352.2L373.9 1355.2L374.6 1350.1L376.7 1328.2L377.4 1332.6L378.8 1346.0L380.2 1355.9L380.9 1358.9L381.6 1355.9L383.0 1352.2L383.7 1353.3L384.4 1356.7L385.1 1358.1L386.5 1362.2L387.2 1358.5L387.9 1355.9L388.6 1350.5L389.3 1348.6L390.0 1351.6L391.4 1361.6L392.1 1364.1L392.8 1360.9L393.5 1353.7L394.9 1347.2L396.3 1332.0L397.0 1334.7L398.4 1346.2L399.1 1349.6L399.8 1351.8L400.5 1352.7L401.9 1343.7L404.0 1327.2L404.7 1323.9L405.4 1329.3L406.8 1335.9L408.2 1347.4L409.6 1344.4L410.3 1341.1L411.0 1335.6L411.7 1334.0L412.4 1338.5L413.8 1361.1L414.5 1358.1L415.2 1352.3L416.6 1329.2L417.3 1330.0L418.7 1338.6L420.1 1343.6L420.8 1343.6L421.5 1343.9L422.2 1342.5L422.9 1338.7L423.6 1336.3L424.3 1335.3L425.0 1336.3L425.7 1338.4L427.1 1345.6L427.8 1346.5L428.5 1345.1L429.2 1340.7L429.9 1340.3L430.6 1341.7L432.0 1354.7L433.4 1362.7L434.8 1355.3L436.2 1340.4L436.9 1335.2L438.3 1331.1L439.7 1321.3L441.8 1332.4L443.9 1351.1L444.6 1349.7L446.0 1341.6L447.4 1336.5L448.8 1328.4L449.5 1328.9L450.9 1339.8L452.3 1347.1L454.4 1364.2L455.8 1372.4L456.5 1372.9L457.9 1354.5L459.3 1339.6L460.0 1329.4L460.7 1324.6L461.4 1327.1L462.1 1331.2L463.5 1347.0L465.6 1355.4L469.8 1340.0L471.2 1332.4L473.3 1325.1L474.7 1318.5L476.8 1349.2L478.9 1376.0L479.6 1377.4L480.3 1378.3L481.7 1375.3L482.4 1376.2L483.1 1377.9L483.8 1378.7L485.2 1373.3L487.3 1361.4L488.0 1360.2L488.7 1359.9L489.4 1357.3L490.8 1348.0L491.5 1345.1L492.2 1343.1L492.9 1342.7L494.3 1340.7L495.0 1341.3L495.7 1341.6L497.1 1335.8L497.8 1335.0L498.5 1335.9L499.2 1336.4L499.9 1342.4L501.3 1349.4L502.0 1355.7L502.7 1356.5L504.1 1349.4L506.2 1334.1L506.9 1330.3L508.4 1324.1L509.6 1335.3L511.0 1340.2L511.3 1340.7L511.6 1340.5L512.1 1338.7L514.5 1327.9L515.0 1324.7L515.1 1320.6L517.1 1308.6L519.8 1296.8L520.6 1294.7L521.3 1294.7L522.0 1297.7L522.7 1304.6L523.1 1312.2L526.6 1428.6L527.5 1446.5L527.9 1450.1L528.3 1451.1L528.6 1450.4L529.1 1447.8L530.0 1438.2L533.9 1384.7L534.4 1381.7L534.8 1380.8L535.2 1381.1L536.1 1383.7L536.4 1383.5L537.0 1378.2L537.7 1363.2L539.6 1302.9L540.1 1292.3L540.4 1289.8L540.6 1289.2L541.0 1291.0L541.4 1296.0L542.3 1315.2L548.6 1482.4L549.3 1495.6L549.7 1499.2L550.1 1500.7L550.6 1498.5L551.2 1491.7L552.5 1464.6L555.2 1348.1L556.5 1317.5L556.9 1310.2L557.4 1305.5L557.9 1303.9L558.1 1303.9L558.3 1304.1L558.7 1305.3L559.1 1308.3L563.6 1363.2L564.7 1372.7L565.2 1375.2L565.6 1376.1L565.9 1375.7L566.2 1373.9L567.0 1366.1L570.3 1314.4L571.1 1308.1L571.4 1307.4L571.6 1307.3L571.9 1308.3L572.6 1314.2L573.5 1326.4L576.6 1385.5L577.8 1405.4L578.9 1417.9L579.4 1420.7L579.6 1421.2L579.8 1421.2L580.4 1419.0L580.9 1414.1L582.3 1395.2L586.9 1306.1L588.2 1284.3L589.3 1272.9L589.8 1270.4L590.1 1269.6L590.4 1269.3L590.9 1269.8L591.4 1271.4L592.3 1276.9L595.5 1309.0L596.5 1322.8L599.2 1367.6L599.9 1375.5L600.2 1377.6L600.5 1378.3L600.9 1376.3L601.3 1370.6L603.7 1323.9L604.2 1317.8L604.6 1315.2L604.8 1315.2L605.1 1316.5L606.1 1324.1L607.9 1348.3L608.5 1353.0L608.8 1353.1L609.0 1352.8L609.5 1349.9L610.8 1332.9L612.6 1318.6L613.3 1323.8L614.0 1327.4L615.4 1342.1L616.1 1344.3L617.5 1339.3L618.2 1338.7L618.9 1340.5L619.6 1341.0L621.0 1335.1L621.7 1335.4L622.4 1336.8L623.1 1336.1L623.8 1333.7L624.5 1332.1L625.9 1331.3L627.3 1337.2L629.4 1349.8L630.8 1353.3L631.5 1356.3L632.2 1357.1L632.9 1351.1L634.3 1342.4L635.0 1335.4L636.4 1316.9L637.1 1310.9L637.8 1313.8L638.5 1318.0L639.2 1319.6L639.9 1317.2L640.6 1316.6L642.0 1321.0L643.4 1336.1L644.1 1346.6L644.8 1350.2L645.5 1350.5L646.9 1346.7L647.6 1347.6L648.3 1349.6L649.0 1349.3L649.7 1348.0L650.4 1342.1L653.2 1306.7L653.9 1307.0L655.3 1321.8L656.7 1332.5L658.8 1357.4L659.5 1357.2L660.9 1347.5L661.6 1344.9L662.3 1340.9L663.7 1331.1L664.4 1332.5L665.8 1341.5L666.5 1343.8L667.2 1343.6L667.9 1344.6L669.3 1354.4L670.0 1358.1L670.7 1355.5L672.1 1344.2L672.8 1342.0L673.5 1343.7L674.2 1342.7L675.6 1332.7L676.3 1334.3L677.7 1356.9L678.4 1361.1L680.5 1338.8L681.2 1334.3L682.6 1327.6L683.3 1331.4L684.0 1334.0L685.4 1331.3L686.8 1337.7L687.5 1336.7L688.2 1336.0L688.9 1334.3L690.3 1327.6L691.0 1328.4L691.7 1328.6L692.4 1330.8L693.8 1339.3L695.2 1342.6L695.9 1343.2L696.6 1342.1L697.3 1338.4L698.0 1337.5L698.7 1340.3L700.1 1358.4L700.8 1360.8L701.5 1365.0L703.6 1352.7L705.0 1335.9L705.7 1330.8L707.1 1327.4L708.5 1320.7L709.2 1321.5L709.9 1320.6L710.6 1316.5L711.3 1314.0L712.0 1317.0L713.4 1332.5L714.1 1336.7L714.8 1336.5L715.5 1338.7L716.2 1343.7L716.9 1346.4L719.0 1315.2L719.7 1312.8L720.4 1319.5L721.8 1329.4L723.2 1345.6L723.9 1351.8L724.6 1351.3L725.3 1348.6L726.7 1346.2L728.1 1340.6L729.5 1337.2L730.2 1334.7L730.9 1330.0L731.6 1326.7L732.3 1325.1L734.4 1342.2L735.1 1346.6L735.8 1350.1L736.5 1351.5L737.2 1346.6L737.9 1343.5L738.6 1345.4L739.3 1345.3L741.4 1333.6L742.1 1331.1L743.5 1329.8L744.9 1326.5L745.6 1325.5L746.3 1323.6L747.0 1320.9L748.4 1323.9L749.8 1334.6L750.5 1334.4L751.2 1332.8L751.9 1329.4L752.6 1327.2L753.3 1327.9L754.0 1328.2L754.7 1326.7L756.1 1324.7L756.8 1326.8L757.5 1331.3L758.2 1332.7L759.6 1336.8L760.3 1339.8L761.7 1350.1L762.4 1353.3L763.1 1351.0L764.5 1340.0L765.9 1321.7L766.6 1315.1L767.3 1312.2L768.0 1307.6L768.7 1300.2L770.1 1314.1L771.5 1342.0L772.2 1345.5L774.3 1333.6L775.0 1332.4L776.4 1339.9L777.1 1346.1L777.8 1347.0L780.6 1334.8L781.3 1329.9L782.0 1326.5L782.7 1327.0L783.4 1330.8L784.1 1338.5L784.8 1341.8L785.5 1341.1L786.2 1341.9L786.9 1344.8L789.0 1355.7L790.4 1365.7L791.1 1362.3L792.5 1349.2L793.2 1345.3L793.9 1345.3L794.6 1342.6L796.0 1330.4L796.7 1327.6L798.1 1329.2L798.8 1325.8L799.5 1320.6L800.2 1319.1L800.9 1319.3L801.6 1318.3L802.3 1328.1L804.4 1366.2L805.1 1367.6L806.5 1353.7L807.2 1351.0L807.9 1349.6L809.3 1339.8L810.0 1340.5L811.4 1346.8L812.1 1350.9L815.6 1315.2L817.0 1312.7L817.7 1310.7L818.4 1309.5L819.1 1309.4L819.8 1308.8L823.3 1358.8L824.0 1350.8L825.4 1328.2L826.1 1319.9L826.8 1314.3L828.2 1326.3L830.3 1334.1L831.0 1329.9L831.7 1327.9L832.4 1323.8L833.1 1317.7L833.8 1322.0L835.2 1338.4L835.9 1342.0L836.6 1342.8L837.3 1340.6L838.0 1342.4L838.7 1343.6L839.4 1344.4L840.1 1341.4L840.8 1334.4L841.5 1331.0L842.2 1329.3L842.9 1332.3L843.6 1333.3L844.3 1334.9L845.0 1335.5L845.7 1335.3L846.4 1336.0L847.8 1340.1L849.2 1346.8L849.9 1348.2L850.6 1350.4L852.0 1360.4L852.7 1359.4L854.1 1346.5L855.5 1338.2L856.2 1337.1L856.9 1338.2L857.6 1340.8L858.3 1346.9L859.0 1350.5L859.7 1350.3L860.4 1349.3L861.1 1347.0L861.8 1348.5L862.5 1353.5L863.2 1355.0L864.6 1352.1L866.7 1340.7L867.4 1339.9L868.1 1341.3L868.8 1349.5L869.5 1354.0L870.2 1355.4L870.9 1353.2L871.6 1347.2L872.3 1344.0L873.0 1339.4L873.7 1339.4L875.1 1342.4L876.5 1342.4L878.6 1320.5L879.3 1321.9L881.4 1329.9L882.1 1331.2L882.8 1330.8L883.5 1331.4L884.9 1340.2L885.6 1340.0L886.3 1338.4L887.0 1334.2L887.7 1333.3L888.4 1336.1L889.1 1335.3L889.8 1331.9L891.2 1319.8L892.6 1312.4L894.0 1317.4L894.7 1318.9L895.4 1318.7L896.1 1319.8L896.8 1322.8L898.2 1334.0L898.9 1336.2L899.6 1337.1L901.0 1343.5L901.7 1342.1L902.4 1340.0L903.8 1334.3L904.5 1334.7L906.6 1352.0L907.3 1352.0L909.4 1339.4L911.5 1321.1L912.2 1329.0L915.0 1387.3L915.7 1381.0L917.8 1356.1L919.2 1336.4L920.6 1321.7L922.0 1303.9L922.7 1299.2L924.1 1315.9L925.5 1336.0L926.9 1351.3L928.3 1341.9L929.0 1340.0L929.7 1339.3L930.4 1335.1L931.8 1321.3L932.5 1318.4L933.2 1320.3L933.9 1327.9L934.6 1332.9L935.3 1334.0L936.0 1337.5L937.4 1349.2L938.8 1337.8L940.2 1321.3L940.9 1322.3L941.6 1325.8L942.3 1332.1L943.0 1336.3L943.7 1338.2L945.1 1325.3L947.2 1312.7L949.3 1342.4L950.0 1347.3L951.4 1337.0L952.8 1333.5L953.5 1329.8L954.2 1331.0L954.9 1334.4L956.3 1343.5L957.0 1346.0L957.7 1341.9L958.4 1335.9L959.8 1330.3L960.5 1323.3L961.2 1318.7L964.0 1357.9L965.4 1352.0L966.1 1350.2L967.5 1341.4L968.2 1345.1L969.6 1359.6L970.3 1363.5L971.7 1347.2L972.4 1341.1" fill="none" stroke="#141414" stroke-width="4.3" stroke-linejoin="round"/>
</g>
<path clip-path="url(#wRB)" d="M1150.5 1326.4L1151.3 1328.6L1152.1 1327.0L1152.9 1329.0L1153.7 1329.0L1154.5 1328.0L1155.3 1328.2L1156.1 1328.4L1156.9 1328.6L1157.7 1327.9L1158.5 1328.4L1159.3 1327.5L1160.1 1328.2L1160.9 1328.0L1161.7 1327.8L1162.5 1324.1L1163.3 1327.0L1164.1 1328.4L1164.9 1326.6L1165.7 1327.0L1166.5 1329.0L1167.3 1327.5L1168.1 1327.1L1168.9 1327.5L1169.7 1327.6L1170.5 1328.1L1171.3 1328.9L1172.1 1325.3L1172.9 1328.4L1173.7 1328.7L1174.5 1327.5L1175.3 1324.0L1176.1 1328.7L1176.9 1327.7L1177.7 1327.9L1178.5 1327.5L1179.3 1325.7L1180.1 1328.5L1180.9 1328.7L1181.7 1328.4L1182.5 1327.4L1183.3 1327.5L1184.1 1328.4L1184.9 1324.0L1185.7 1328.3L1186.5 1328.4L1187.3 1327.5L1188.1 1328.9L1188.9 1328.4L1189.7 1327.2L1190.5 1327.3L1191.3 1328.6L1192.1 1328.7L1192.9 1328.2L1193.7 1328.5L1194.5 1327.4L1195.3 1328.7L1196.1 1328.5L1196.9 1326.8L1197.7 1327.8L1198.5 1326.4L1199.3 1324.5L1200.1 1326.8L1200.9 1328.7L1201.7 1327.8L1202.5 1328.2L1203.3 1328.3L1204.1 1327.3L1204.9 1326.9L1205.7 1327.6L1206.5 1328.8L1207.3 1327.5L1208.1 1328.9L1208.9 1328.7L1209.7 1325.8L1210.5 1328.3L1211.3 1328.8L1212.1 1327.6L1212.9 1328.7L1213.7 1327.7L1214.5 1328.6L1215.3 1328.9L1216.1 1325.1L1216.9 1328.9L1217.7 1328.1L1218.5 1328.4L1219.3 1327.6L1220.1 1326.7L1220.9 1327.8L1221.7 1327.9L1222.5 1328.8L1223.3 1327.4L1224.1 1328.6L1224.9 1328.1L1225.7 1328.9L1226.5 1328.5L1227.3 1326.5L1228.1 1327.9L1228.9 1328.0L1229.7 1328.4L1230.5 1326.8L1231.3 1328.5L1232.1 1328.7L1232.9 1327.9L1233.7 1328.5L1234.5 1327.1L1235.3 1328.6L1236.1 1327.0L1236.9 1327.8L1237.7 1328.8L1238.5 1327.9L1239.3 1327.6L1240.1 1325.5L1240.9 1327.0L1241.7 1327.2L1242.5 1328.0L1243.3 1328.8L1244.1 1326.8L1244.9 1328.8L1245.7 1327.9L1246.5 1327.9L1247.3 1328.7L1248.1 1328.8L1248.9 1327.8L1249.7 1328.1L1250.5 1328.4L1251.3 1328.8L1252.1 1327.6L1252.9 1328.7L1253.7 1328.8L1254.5 1328.5L1255.3 1328.4L1256.1 1328.6L1256.9 1328.7L1257.7 1327.0L1258.5 1328.2L1259.3 1328.5L1260.1 1327.9L1260.9 1328.5L1261.7 1326.5L1262.5 1328.0L1263.3 1327.6L1264.1 1324.5L1264.9 1328.3L1265.7 1328.5L1266.5 1324.2L1267.3 1327.7L1268.1 1324.0L1268.9 1324.6L1269.7 1327.3L1270.5 1328.8L1271.3 1327.7L1272.1 1328.5L1272.9 1328.6L1273.7 1328.2L1274.5 1328.5L1275.3 1327.0L1276.1 1325.5L1276.9 1328.8L1277.7 1328.4L1278.5 1328.4L1279.3 1328.6L1280.1 1325.1L1280.9 1328.4L1281.7 1328.2L1282.5 1328.7L1283.3 1328.4L1284.1 1326.2L1284.9 1324.8L1285.7 1327.5L1286.5 1328.3L1287.3 1328.7L1288.1 1326.4L1288.9 1328.6L1289.7 1328.4L1290.5 1327.8L1291.3 1328.4L1292.1 1326.5L1292.9 1327.9L1293.7 1327.9L1294.5 1325.9L1295.3 1325.8L1296.1 1328.4L1296.9 1328.7L1297.7 1327.4L1298.5 1328.4L1299.3 1328.7L1300.1 1328.6L1300.9 1328.1L1301.7 1328.6L1302.5 1328.4L1303.3 1327.1L1304.1 1328.0L1304.9 1328.6L1305.7 1328.4L1306.5 1325.5L1307.3 1328.7L1308.1 1327.5L1308.9 1327.5L1309.7 1327.3L1310.5 1327.7L1311.3 1326.9L1312.1 1326.6L1312.9 1327.4L1313.7 1328.5L1314.5 1327.1L1315.3 1328.3L1316.1 1326.5L1316.9 1327.7L1317.7 1328.6L1318.5 1325.8L1319.3 1327.9L1320.1 1325.2L1320.9 1328.6L1321.7 1328.5L1322.5 1327.0L1323.3 1328.6L1324.1 1327.9L1324.9 1326.6L1325.7 1328.0L1326.5 1328.4L1327.3 1326.4L1328.1 1328.5L1328.9 1328.2L1329.7 1328.4L1330.5 1327.9L1331.3 1328.2L1332.1 1325.8L1332.9 1326.8L1333.7 1327.2L1334.5 1328.5L1335.3 1327.5L1336.1 1326.3L1336.9 1325.5L1337.7 1327.3L1338.5 1328.3L1339.3 1328.2L1340.1 1327.4L1340.9 1327.1L1341.7 1328.2L1342.5 1327.3L1343.3 1327.8L1344.1 1326.5L1344.9 1327.2L1345.7 1325.7L1346.5 1328.5L1347.3 1326.4L1348.1 1325.1L1348.9 1327.6L1349.7 1328.6L1350.5 1328.5L1351.3 1327.8L1352.1 1327.5L1352.9 1327.4L1353.7 1326.7L1354.5 1326.2L1355.3 1325.7L1356.1 1327.2L1356.9 1326.4L1357.7 1326.8L1358.5 1325.8L1359.3 1326.2L1360.1 1326.0L1360.9 1326.5L1361.7 1325.9L1362.5 1324.7L1363.3 1325.8L1364.1 1326.9L1364.9 1327.0L1365.7 1325.7L1366.5 1326.6L1367.3 1326.6L1368.1 1324.5L1368.9 1324.7L1369.7 1325.1L1370.5 1326.6L1371.3 1325.9L1372.1 1326.0L1372.9 1326.8L1373.7 1326.0L1374.5 1322.1L1375.3 1327.0L1376.1 1326.8L1376.9 1326.6L1377.7 1325.2L1378.5 1326.4L1379.3 1327.0L1380.1 1326.6L1380.9 1325.0L1381.7 1325.5L1382.5 1326.7L1383.3 1325.5L1384.1 1326.6L1384.9 1326.9L1385.7 1322.1L1386.5 1326.7L1387.3 1326.0L1388.1 1324.1L1388.9 1325.9L1389.7 1326.4L1390.5 1326.5L1391.3 1327.0L1392.1 1327.0L1392.9 1326.4L1393.7 1324.0L1394.5 1326.8L1395.3 1324.7L1396.1 1325.1L1396.9 1326.9L1397.7 1326.7L1398.5 1326.4L1399.3 1324.7L1400.1 1325.9L1400.9 1325.0L1401.7 1326.3L1402.5 1326.1L1403.3 1326.4L1404.1 1326.7L1404.9 1325.9L1405.7 1326.1L1406.5 1324.7L1407.3 1324.0L1408.1 1326.1L1408.9 1325.7L1409.7 1326.5L1410.5 1325.7L1411.3 1322.1L1412.1 1323.7L1412.9 1326.9L1413.7 1323.8L1414.5 1327.1L1415.3 1327.1L1416.1 1326.9L1416.9 1326.7L1417.7 1322.1L1418.5 1323.7L1419.3 1325.4L1420.1 1325.9L1420.9 1322.9L1421.7 1326.1L1422.5 1326.8L1423.3 1326.9L1424.1 1325.4L1424.9 1326.2L1425.7 1325.1L1426.5 1325.2L1427.3 1325.8L1428.1 1325.3L1428.9 1325.7L1429.7 1326.4L1430.5 1325.0L1431.3 1324.1L1432.1 1325.3L1432.9 1327.0L1433.7 1323.5L1434.5 1326.3L1435.3 1324.5L1436.1 1327.0L1436.9 1323.8L1437.7 1326.6L1438.5 1326.4L1439.3 1325.7L1440.1 1327.0L1440.9 1326.8L1441.7 1326.1L1442.5 1326.5L1443.3 1327.0L1444.1 1327.1L1444.9 1324.4L1445.7 1325.8L1446.5 1326.6L1447.3 1324.5L1448.1 1323.0L1448.9 1327.0L1449.7 1326.7L1450.5 1326.2L1451.3 1324.1L1452.1 1326.8L1452.9 1323.8L1453.7 1324.3L1454.5 1326.6L1455.3 1326.8L1456.1 1326.9L1456.9 1327.0L1457.7 1323.3L1458.5 1326.9L1459.3 1323.3L1460.1 1326.6L1460.9 1327.0L1461.7 1325.0L1462.5 1325.1L1463.3 1326.4L1464.1 1325.3L1464.9 1325.4L1465.7 1326.4L1466.5 1326.7L1467.3 1326.9L1468.1 1324.2L1468.9 1327.0L1469.7 1325.5L1470.5 1327.0L1471.3 1325.8L1472.1 1327.0L1472.9 1327.0L1473.7 1326.3L1474.5 1327.0L1475.3 1327.1L1476.1 1325.9L1476.9 1324.4L1477.7 1326.3L1478.5 1324.9L1479.3 1325.6L1480.1 1323.9L1480.9 1322.7L1481.7 1326.0L1482.5 1323.6L1483.3 1325.6L1484.1 1326.4L1484.9 1324.1L1485.7 1326.1L1486.5 1326.8L1487.3 1326.5L1488.1 1326.4L1488.9 1326.9L1489.7 1327.1L1490.5 1327.0L1491.3 1325.7L1492.1 1326.7L1492.9 1326.9L1493.7 1326.8L1494.5 1325.1L1495.3 1324.4L1496.1 1326.4L1496.9 1325.5L1497.7 1326.1L1498.5 1326.3L1499.3 1325.9L1500.1 1323.5L1500.9 1325.0L1501.7 1326.2L1502.5 1326.4L1503.3 1326.6L1504.1 1326.1L1504.9 1321.7L1505.7 1325.6L1506.5 1325.2L1507.3 1325.9L1508.1 1325.7L1508.9 1320.8L1509.7 1324.8L1510.5 1325.3L1511.3 1324.2L1512.1 1323.8L1512.9 1324.4L1513.7 1324.6L1514.5 1323.4L1515.3 1324.7L1516.1 1323.2L1516.9 1323.9L1517.7 1322.9L1518.5 1321.6L1519.3 1319.4L1520.1 1320.4L1520.9 1318.4L1521.7 1318.7L1522.5 1317.2L1523.3 1315.4L1524.1 1313.3L1524.9 1314.0L1525.7 1312.8L1526.5 1312.3L1527.3 1312.0L1528.1 1309.6L1528.9 1310.2L1529.7 1310.2L1530.5 1308.0L1531.3 1307.1L1532.1 1307.9L1532.9 1306.6L1533.7 1307.2L1534.5 1305.1L1535.3 1305.5L1536.1 1305.3L1536.9 1303.2L1537.7 1302.8L1538.5 1300.7L1539.3 1301.8L1540.1 1296.0L1540.9 1299.6L1541.7 1298.9L1542.5 1298.1L1543.3 1296.5L1544.1 1295.0L1544.9 1292.6L1545.7 1288.1L1546.5 1289.9L1547.3 1288.0L1548.1 1292.2L1548.9 1298.2L1549.7 1303.5L1550.5 1309.6L1551.3 1318.6L1552.1 1324.3L1552.9 1314.6L1553.7 1304.7L1554.5 1295.7L1555.3 1284.9L1556.1 1271.5L1556.9 1262.7L1557.7 1261.4L1558.5 1267.3L1559.3 1274.8L1560.1 1281.5L1560.9 1283.4L1561.7 1286.9L1562.5 1289.0L1563.3 1283.2L1564.1 1275.2L1564.9 1266.0L1565.7 1256.0L1566.5 1247.7L1567.3 1239.0L1568.1 1229.8L1568.9 1219.3L1569.7 1217.9L1570.5 1228.7L1571.3 1240.2L1572.1 1250.2L1572.9 1259.2L1573.7 1266.4L1574.5 1273.5L1575.3 1281.0L1576.1 1288.3L1576.9 1291.4L1577.7 1293.6L1578.5 1293.7L1579.3 1295.4L1580.1 1296.2L1580.9 1295.2L1581.7 1293.2L1582.5 1298.2L1583.3 1298.3L1584.1 1297.3L1584.9 1300.6L1585.7 1302.2L1586.5 1303.7L1587.3 1307.1L1588.1 1309.3L1588.9 1308.8L1589.7 1314.0L1590.5 1316.7L1591.3 1316.4L1592.1 1317.3L1592.9 1317.3L1593.7 1314.1L1594.5 1315.8L1595.3 1318.0L1596.1 1318.0L1596.9 1318.5L1597.7 1318.4L1598.5 1317.0L1599.3 1316.2L1600.1 1318.2L1600.9 1319.6L1601.7 1319.1L1602.5 1318.8L1603.3 1320.2L1604.1 1319.6L1604.9 1319.2L1605.7 1320.5L1606.5 1319.2L1607.3 1321.4L1608.1 1321.5L1608.9 1320.1L1609.7 1320.9L1610.5 1320.7L1611.3 1322.5L1612.1 1319.3L1612.9 1323.0L1613.7 1322.1L1614.5 1323.3L1615.3 1323.1L1616.1 1321.1L1616.9 1322.3L1617.7 1322.4L1618.5 1324.0L1619.3 1321.2L1620.1 1321.3L1620.9 1319.1L1621.7 1324.0L1622.5 1323.5L1623.3 1323.7L1624.1 1321.8L1624.9 1321.3L1625.7 1323.3L1626.5 1323.8L1627.3 1324.0L1628.1 1321.5L1628.9 1320.5L1629.7 1322.4L1630.5 1322.0L1631.3 1323.7L1632.1 1323.9L1632.9 1324.0L1633.7 1322.8L1634.5 1323.9L1635.3 1321.0L1636.1 1323.8L1636.9 1322.4L1637.7 1323.0L1638.5 1323.6L1639.3 1322.9L1640.1 1324.1L1640.9 1322.4L1641.7 1323.9L1642.5 1323.0L1643.3 1323.9L1644.1 1323.1L1644.9 1322.5L1645.7 1322.2L1646.5 1323.9L1647.3 1323.3L1648.1 1323.5L1648.9 1323.5L1649.7 1322.0L1650.5 1323.9L1651.3 1322.4L1652.1 1322.5L1652.9 1323.5L1653.7 1324.0L1654.5 1322.7L1655.3 1321.7L1656.1 1324.0L1656.9 1324.1L1657.7 1324.0L1658.5 1323.6L1659.3 1323.5L1660.1 1322.6L1660.9 1324.1L1661.7 1321.6L1662.5 1323.5L1663.3 1324.0L1664.1 1324.4L1664.9 1323.3L1665.7 1324.1L1666.5 1323.7L1667.3 1320.6L1668.1 1324.2L1668.9 1323.8L1669.7 1322.3L1670.5 1324.5L1671.3 1323.2L1672.1 1323.8L1672.9 1324.1L1673.7 1323.7L1674.5 1323.9L1675.3 1323.6L1676.1 1324.5L1676.9 1324.1L1677.7 1321.5L1678.5 1323.8L1679.3 1323.5L1680.1 1323.9L1680.9 1320.6L1681.7 1324.6L1682.5 1324.2L1683.3 1323.4L1684.1 1322.9L1684.9 1324.2L1685.7 1323.2L1686.5 1324.3L1687.3 1324.7L1688.1 1324.8L1688.9 1324.7L1689.7 1319.9L1690.5 1324.7L1691.3 1324.9L1692.1 1323.9L1692.9 1324.2L1693.7 1324.5L1694.5 1321.8L1695.3 1323.6L1696.1 1324.4L1696.9 1325.0L1697.7 1323.6L1698.5 1323.7L1699.3 1324.6L1700.1 1320.8L1700.9 1322.1L1701.7 1324.3L1702.5 1322.9L1703.3 1322.9L1704.1 1324.7L1704.9 1320.3L1705.7 1324.7L1706.5 1323.6L1707.3 1324.6L1708.1 1325.2L1708.9 1324.4L1709.7 1323.9L1710.5 1324.3L1711.3 1325.1L1712.1 1322.9L1712.9 1323.6L1713.7 1324.9L1714.5 1325.2L1715.3 1323.5L1716.1 1325.3L1716.9 1325.3L1717.7 1325.3L1718.5 1324.6L1719.3 1325.4L1720.1 1323.4L1720.9 1325.4L1721.7 1322.3L1722.5 1325.3L1723.3 1324.4L1724.1 1325.7L1724.9 1325.7L1725.7 1325.6L1726.5 1325.6L1727.3 1324.7L1728.1 1322.3L1728.9 1324.8L1729.7 1324.9L1730.5 1321.6L1731.3 1325.7L1732.1 1324.3L1732.9 1325.0L1733.7 1325.1L1734.5 1325.7L1735.3 1321.7L1736.1 1325.8L1736.9 1326.0L1737.7 1325.2L1738.5 1326.3L1739.3 1325.8L1740.1 1325.3L1740.9 1325.4L1741.7 1323.8L1742.5 1323.8L1743.3 1326.5L1744.1 1325.0L1744.9 1323.5L1745.7 1326.2L1746.5 1326.5L1747.3 1324.4L1748.1 1325.8L1748.9 1324.8L1749.7 1326.0L1750.5 1323.9L1751.3 1324.0L1752.1 1326.1L1752.9 1324.6L1753.7 1324.9L1754.5 1325.8L1755.3 1326.5L1756.1 1326.6L1756.9 1325.4L1757.7 1325.3L1758.5 1327.0L1759.3 1325.4L1760.1 1326.8L1760.9 1326.7L1761.7 1325.3L1762.5 1326.0L1763.3 1324.3L1764.1 1324.2L1764.9 1327.0L1765.7 1326.7L1766.5 1325.8L1767.3 1325.6L1768.1 1326.7L1768.9 1326.9L1769.7 1325.2L1770.5 1327.2L1771.3 1324.8L1772.1 1326.7L1772.9 1326.5L1773.7 1324.0L1774.5 1326.4L1775.3 1326.6L1776.1 1325.9L1776.9 1326.7L1777.7 1326.3L1778.5 1325.8L1779.3 1327.2L1780.1 1326.0L1780.9 1326.9L1781.7 1327.0L1782.5 1326.7L1783.3 1327.2L1784.1 1324.3L1784.9 1324.4L1785.7 1326.2L1786.5 1326.9L1787.3 1326.7L1788.1 1326.6L1788.9 1327.4L1789.7 1327.3L1790.5 1326.4L1791.3 1327.2L1792.1 1327.4L1792.9 1325.8L1793.7 1327.4L1794.5 1327.5L1795.3 1324.4L1796.1 1327.2L1796.9 1325.6L1797.7 1327.3L1798.5 1326.4L1799.3 1326.4L1800.1 1325.4L1800.9 1327.6L1801.7 1326.8L1802.5 1326.2L1803.3 1327.3L1804.1 1326.7L1804.9 1327.6L1805.7 1327.1L1806.5 1326.6L1807.3 1326.7L1808.1 1327.6L1808.9 1327.6L1809.7 1327.2L1810.5 1327.8L1811.3 1324.6L1812.1 1327.8L1812.9 1325.9L1813.7 1323.3L1814.5 1326.2L1815.3 1327.5L1816.1 1326.2L1816.9 1327.2L1817.7 1327.4L1818.5 1325.5L1819.3 1326.0L1820.1 1327.6L1820.9 1327.6L1821.7 1327.3L1822.5 1327.8L1823.3 1327.4L1824.1 1327.2L1824.9 1326.7L1825.7 1328.0L1826.5 1327.8L1827.3 1327.5L1828.1 1327.3L1828.9 1324.3L1829.7 1325.4L1830.5 1326.9L1831.3 1326.1L1832.1 1328.1L1832.9 1327.5L1833.7 1325.0L1834.5 1327.0L1835.3 1328.0L1836.1 1326.9L1836.9 1327.6L1837.7 1327.2L1838.5 1327.7L1839.3 1327.9L1840.1 1327.6L1840.9 1328.0L1841.7 1327.5L1842.5 1324.9L1843.3 1327.1L1844.1 1327.8L1844.9 1326.5L1845.7 1326.5L1846.5 1326.2L1847.3 1326.7L1848.1 1323.5L1848.9 1327.9L1849.7 1327.5L1850.5 1327.3L1851.3 1327.8L1852.1 1327.5L1852.9 1324.7L1853.7 1327.1L1854.5 1326.2L1855.3 1327.7L1856.1 1326.9L1856.9 1327.8L1857.7 1327.8L1858.5 1323.9L1859.3 1327.7L1860.1 1327.8L1860.9 1327.7L1861.7 1328.1L1862.5 1327.1L1863.3 1327.9L1864.1 1327.5L1864.9 1326.5L1865.7 1325.7L1866.5 1327.8L1867.3 1327.2L1868.1 1328.0L1868.9 1327.9L1869.7 1327.5L1870.5 1326.8L1871.3 1327.7L1872.1 1328.0L1872.9 1327.4L1873.7 1327.3L1874.5 1325.6L1875.3 1327.6L1876.1 1327.6L1876.9 1328.0L1877.7 1327.5L1878.5 1327.9L1879.3 1327.1L1880.1 1327.4L1880.9 1327.8L1881.7 1328.1L1882.5 1323.1L1883.3 1323.6L1884.1 1327.9L1884.9 1325.6L1885.7 1323.1L1886.5 1327.8L1887.3 1325.9L1888.1 1327.2L1888.9 1327.2L1889.7 1328.0L1890.5 1327.4L1891.3 1323.1L1892.1 1327.9L1892.9 1325.8L1893.7 1325.5L1894.5 1328.0L1895.3 1326.6L1896.1 1328.1L1896.9 1327.6L1897.7 1325.6L1898.5 1325.5L1899.3 1323.7L1900.1 1327.4L1900.9 1327.7L1901.7 1327.2L1902.5 1327.4L1903.3 1326.8L1904.1 1324.8L1904.9 1327.4L1905.7 1325.6L1906.5 1326.1L1907.3 1327.8L1908.1 1326.8L1908.9 1325.8L1909.7 1326.8L1910.5 1326.0L1911.3 1327.4L1912.1 1327.3L1912.9 1326.4L1913.7 1327.0L1914.5 1325.7L1915.3 1327.4L1916.1 1325.9L1916.9 1326.9L1917.7 1327.7L1918.5 1326.6L1919.3 1325.8L1920.1 1327.7L1920.9 1327.9L1921.7 1327.0L1922.5 1323.8L1923.3 1327.4L1924.1 1328.0L1924.9 1327.9L1925.7 1326.5L1926.5 1328.0L1927.3 1327.5L1928.1 1327.4L1928.9 1325.2L1929.7 1328.0L1930.5 1328.1L1931.3 1325.3L1932.1 1327.3L1932.9 1327.9L1933.7 1326.3L1934.5 1327.6L1935.3 1326.9L1936.1 1327.1L1936.9 1327.9L1937.7 1325.8L1938.5 1327.4L1939.3 1326.4L1940.1 1325.0L1940.9 1327.6L1941.7 1326.1L1942.5 1327.0L1943.3 1327.7L1944.1 1326.7L1944.9 1327.9L1945.7 1327.5L1946.5 1328.0L1947.3 1327.9L1948.1 1327.7L1948.9 1326.5L1949.7 1327.9L1950.5 1324.5L1951.3 1327.5L1952.1 1327.7L1952.9 1327.8L1953.7 1327.6L1954.5 1327.7L1955.3 1328.0L1956.1 1327.8L1956.9 1325.7L1957.7 1326.9L1958.5 1327.7L1959.3 1325.4L1960.1 1326.6L1960.9 1327.6L1961.7 1323.3L1962.5 1327.7L1963.3 1327.4L1964.1 1327.2L1964.9 1325.2L1965.7 1327.2L1966.5 1326.4L1967.3 1327.9L1968.1 1325.7L1968.9 1323.8L1969.7 1325.5L1970.5 1327.8L1971.3 1324.8L1972.1 1327.6L1972.9 1328.0L1973.7 1328.0L1974.5 1323.7L1975.3 1327.4L1976.1 1325.1L1976.9 1328.1L1977.7 1326.4L1978.5 1327.9L1979.3 1327.7L1980.1 1327.4L1980.9 1326.0L1981.7 1325.6L1982.5 1326.6L1983.3 1327.6L1984.1 1326.0L1984.9 1327.8L1985.7 1327.0L1986.5 1328.1L1987.3 1325.6L1988.1 1326.9L1988.9 1327.8L1989.7 1327.6L1990.5 1327.3L1991.3 1326.2L1992.1 1327.3L1992.9 1326.8L1993.7 1328.1L1994.5 1327.7L1995.3 1326.7L1996.1 1323.1L1996.9 1327.1L1997.7 1327.8L1998.5 1326.8L1999.3 1325.2L2000.1 1326.3L2000.1 1346.6L1999.3 1346.2L1998.5 1345.9L1997.7 1346.1L1996.9 1346.4L1996.1 1348.2L1995.3 1350.7L1994.5 1346.0L1993.7 1345.9L1992.9 1347.5L1992.1 1346.3L1991.3 1347.4L1990.5 1345.9L1989.7 1349.1L1988.9 1346.6L1988.1 1346.6L1987.3 1347.2L1986.5 1347.6L1985.7 1345.8L1984.9 1346.3L1984.1 1345.7L1983.3 1349.1L1982.5 1346.6L1981.7 1348.9L1980.9 1346.2L1980.1 1347.8L1979.3 1346.0L1978.5 1345.8L1977.7 1345.9L1976.9 1346.4L1976.1 1346.1L1975.3 1347.3L1974.5 1346.6L1973.7 1346.1L1972.9 1345.8L1972.1 1346.1L1971.3 1346.6L1970.5 1346.2L1969.7 1348.1L1968.9 1346.1L1968.1 1349.0L1967.3 1346.5L1966.5 1347.4L1965.7 1347.1L1964.9 1345.9L1964.1 1346.5L1963.3 1345.9L1962.5 1347.5L1961.7 1350.7L1960.9 1346.5L1960.1 1346.3L1959.3 1348.2L1958.5 1347.4L1957.7 1346.5L1956.9 1347.8L1956.1 1346.0L1955.3 1346.3L1954.5 1346.1L1953.7 1346.9L1952.9 1346.4L1952.1 1345.9L1951.3 1347.2L1950.5 1345.9L1949.7 1347.5L1948.9 1345.9L1948.1 1346.6L1947.3 1346.0L1946.5 1348.1L1945.7 1347.6L1944.9 1348.9L1944.1 1345.9L1943.3 1346.9L1942.5 1345.7L1941.7 1346.2L1940.9 1346.8L1940.1 1347.4L1939.3 1346.2L1938.5 1347.9L1937.7 1345.9L1936.9 1347.7L1936.1 1345.8L1935.3 1346.1L1934.5 1346.7L1933.7 1346.3L1932.9 1345.8L1932.1 1346.1L1931.3 1345.8L1930.5 1345.7L1929.7 1346.7L1928.9 1346.0L1928.1 1346.7L1927.3 1347.1L1926.5 1347.5L1925.7 1346.2L1924.9 1350.1L1924.1 1348.6L1923.3 1346.1L1922.5 1346.5L1921.7 1345.9L1920.9 1346.2L1920.1 1347.8L1919.3 1346.4L1918.5 1347.7L1917.7 1346.3L1916.9 1346.6L1916.1 1346.9L1915.3 1350.7L1914.5 1347.4L1913.7 1346.0L1912.9 1346.3L1912.1 1346.5L1911.3 1345.7L1910.5 1345.9L1909.7 1346.2L1908.9 1346.0L1908.1 1346.5L1907.3 1347.1L1906.5 1347.8L1905.7 1346.2L1904.9 1346.5L1904.1 1345.9L1903.3 1348.0L1902.5 1345.8L1901.7 1346.6L1900.9 1348.3L1900.1 1346.0L1899.3 1346.8L1898.5 1345.9L1897.7 1347.8L1896.9 1347.4L1896.1 1347.2L1895.3 1348.3L1894.5 1346.6L1893.7 1347.0L1892.9 1346.7L1892.1 1347.4L1891.3 1346.6L1890.5 1346.2L1889.7 1347.5L1888.9 1347.0L1888.1 1347.6L1887.3 1346.5L1886.5 1346.9L1885.7 1346.0L1884.9 1346.4L1884.1 1345.8L1883.3 1346.8L1882.5 1346.1L1881.7 1346.1L1880.9 1348.0L1880.1 1346.2L1879.3 1347.1L1878.5 1347.2L1877.7 1347.3L1876.9 1345.8L1876.1 1346.6L1875.3 1346.0L1874.5 1349.3L1873.7 1346.9L1872.9 1346.7L1872.1 1345.8L1871.3 1346.7L1870.5 1348.2L1869.7 1346.8L1868.9 1348.0L1868.1 1346.2L1867.3 1347.4L1866.5 1346.5L1865.7 1347.3L1864.9 1345.9L1864.1 1346.1L1863.3 1348.0L1862.5 1346.0L1861.7 1346.3L1860.9 1347.2L1860.1 1346.1L1859.3 1350.7L1858.5 1347.8L1857.7 1346.5L1856.9 1345.7L1856.1 1345.8L1855.3 1350.7L1854.5 1346.3L1853.7 1346.0L1852.9 1346.0L1852.1 1346.4L1851.3 1346.8L1850.5 1346.1L1849.7 1347.4L1848.9 1346.5L1848.1 1345.7L1847.3 1346.6L1846.5 1346.4L1845.7 1347.1L1844.9 1348.4L1844.1 1345.7L1843.3 1345.9L1842.5 1347.0L1841.7 1346.1L1840.9 1347.1L1840.1 1349.4L1839.3 1347.8L1838.5 1346.7L1837.7 1346.6L1836.9 1346.9L1836.1 1345.8L1835.3 1350.7L1834.5 1347.6L1833.7 1345.8L1832.9 1348.0L1832.1 1349.1L1831.3 1346.2L1830.5 1346.7L1829.7 1346.0L1828.9 1347.2L1828.1 1347.5L1827.3 1346.8L1826.5 1346.0L1825.7 1349.2L1824.9 1345.8L1824.1 1347.0L1823.3 1347.0L1822.5 1348.8L1821.7 1348.7L1820.9 1347.4L1820.1 1345.9L1819.3 1349.2L1818.5 1345.9L1817.7 1346.2L1816.9 1347.1L1816.1 1348.9L1815.3 1347.0L1814.5 1350.3L1813.7 1347.8L1812.9 1346.5L1812.1 1346.2L1811.3 1349.0L1810.5 1347.8L1809.7 1346.1L1808.9 1347.1L1808.1 1347.7L1807.3 1346.2L1806.5 1348.5L1805.7 1346.6L1804.9 1346.1L1804.1 1347.5L1803.3 1346.6L1802.5 1347.5L1801.7 1346.8L1800.9 1346.7L1800.1 1347.7L1799.3 1349.2L1798.5 1346.6L1797.7 1346.5L1796.9 1346.8L1796.1 1349.4L1795.3 1347.1L1794.5 1347.5L1793.7 1346.6L1792.9 1351.2L1792.1 1347.5L1791.3 1346.5L1790.5 1346.3L1789.7 1346.3L1788.9 1348.2L1788.1 1346.7L1787.3 1346.6L1786.5 1347.0L1785.7 1347.7L1784.9 1346.4L1784.1 1346.9L1783.3 1347.6L1782.5 1346.4L1781.7 1346.7L1780.9 1348.3L1780.1 1347.0L1779.3 1346.5L1778.5 1346.6L1777.7 1348.0L1776.9 1347.2L1776.1 1347.5L1775.3 1347.0L1774.5 1347.8L1773.7 1348.2L1772.9 1346.7L1772.1 1347.6L1771.3 1347.5L1770.5 1349.2L1769.7 1346.7L1768.9 1347.5L1768.1 1347.6L1767.3 1347.2L1766.5 1348.4L1765.7 1347.9L1764.9 1348.4L1764.1 1347.2L1763.3 1346.7L1762.5 1347.7L1761.7 1347.3L1760.9 1347.6L1760.1 1347.3L1759.3 1348.3L1758.5 1347.7L1757.7 1349.5L1756.9 1348.0L1756.1 1347.6L1755.3 1347.2L1754.5 1348.0L1753.7 1347.6L1752.9 1348.1L1752.1 1347.1L1751.3 1347.1L1750.5 1347.4L1749.7 1348.5L1748.9 1347.2L1748.1 1349.8L1747.3 1351.4L1746.5 1349.4L1745.7 1348.3L1744.9 1350.2L1744.1 1350.4L1743.3 1347.8L1742.5 1347.9L1741.7 1347.7L1740.9 1348.1L1740.1 1348.6L1739.3 1349.7L1738.5 1350.9L1737.7 1348.4L1736.9 1349.4L1736.1 1347.9L1735.3 1348.1L1734.5 1347.8L1733.7 1348.6L1732.9 1348.7L1732.1 1347.7L1731.3 1349.9L1730.5 1348.0L1729.7 1348.3L1728.9 1348.6L1728.1 1347.8L1727.3 1348.7L1726.5 1348.1L1725.7 1349.8L1724.9 1348.3L1724.1 1347.9L1723.3 1352.9L1722.5 1349.8L1721.7 1348.9L1720.9 1348.5L1720.1 1348.1L1719.3 1351.0L1718.5 1349.2L1717.7 1350.9L1716.9 1349.3L1716.1 1348.3L1715.3 1348.5L1714.5 1348.4L1713.7 1351.1L1712.9 1349.5L1712.1 1349.9L1711.3 1349.4L1710.5 1349.2L1709.7 1350.1L1708.9 1349.1L1708.1 1350.3L1707.3 1352.0L1706.5 1349.4L1705.7 1350.3L1704.9 1348.8L1704.1 1350.1L1703.3 1349.1L1702.5 1353.4L1701.7 1352.2L1700.9 1350.9L1700.1 1350.6L1699.3 1350.0L1698.5 1349.2L1697.7 1351.1L1696.9 1351.6L1696.1 1349.3L1695.3 1349.5L1694.5 1349.5L1693.7 1349.1L1692.9 1353.8L1692.1 1351.5L1691.3 1350.2L1690.5 1351.0L1689.7 1351.5L1688.9 1349.9L1688.1 1350.9L1687.3 1349.4L1686.5 1349.1L1685.7 1349.8L1684.9 1349.3L1684.1 1353.3L1683.3 1349.3L1682.5 1349.1L1681.7 1349.4L1680.9 1349.6L1680.1 1349.8L1679.3 1351.6L1678.5 1350.0L1677.7 1352.6L1676.9 1350.0L1676.1 1350.4L1675.3 1349.7L1674.5 1350.6L1673.7 1351.6L1672.9 1351.3L1672.1 1349.3L1671.3 1350.1L1670.5 1351.3L1669.7 1349.3L1668.9 1349.6L1668.1 1353.4L1667.3 1349.4L1666.5 1349.6L1665.7 1349.7L1664.9 1349.5L1664.1 1349.8L1663.3 1350.9L1662.5 1350.7L1661.7 1350.6L1660.9 1350.3L1660.1 1350.7L1659.3 1350.2L1658.5 1349.5L1657.7 1350.0L1656.9 1349.7L1656.1 1349.9L1655.3 1349.9L1654.5 1352.1L1653.7 1350.6L1652.9 1351.8L1652.1 1350.4L1651.3 1349.8L1650.5 1350.1L1649.7 1351.9L1648.9 1353.1L1648.1 1352.0L1647.3 1351.1L1646.5 1350.8L1645.7 1352.0L1644.9 1350.8L1644.1 1350.7L1643.3 1350.3L1642.5 1351.3L1641.7 1352.4L1640.9 1350.1L1640.1 1349.9L1639.3 1351.5L1638.5 1351.3L1637.7 1351.6L1636.9 1351.4L1636.1 1350.7L1635.3 1349.8L1634.5 1350.5L1633.7 1351.9L1632.9 1350.4L1632.1 1349.9L1631.3 1349.8L1630.5 1350.2L1629.7 1350.6L1628.9 1351.8L1628.1 1350.3L1627.3 1350.9L1626.5 1350.9L1625.7 1351.4L1624.9 1350.1L1624.1 1350.5L1623.3 1350.3L1622.5 1350.8L1621.7 1352.6L1620.9 1352.6L1620.1 1350.2L1619.3 1352.1L1618.5 1350.6L1617.7 1351.6L1616.9 1349.7L1616.1 1349.7L1615.3 1350.7L1614.5 1350.2L1613.7 1350.5L1612.9 1351.1L1612.1 1351.8L1611.3 1351.8L1610.5 1351.6L1609.7 1356.5L1608.9 1352.3L1608.1 1353.3L1607.3 1352.8L1606.5 1352.8L1605.7 1356.5L1604.9 1353.7L1604.1 1356.4L1603.3 1353.7L1602.5 1354.2L1601.7 1354.1L1600.9 1357.1L1600.1 1357.3L1599.3 1355.6L1598.5 1355.2L1597.7 1356.7L1596.9 1355.7L1596.1 1356.2L1595.3 1357.1L1594.5 1356.9L1593.7 1357.7L1592.9 1358.7L1592.1 1356.5L1591.3 1358.7L1590.5 1357.0L1589.7 1362.6L1588.9 1362.0L1588.1 1364.5L1587.3 1366.9L1586.5 1369.2L1585.7 1371.4L1584.9 1374.6L1584.1 1375.9L1583.3 1376.3L1582.5 1375.8L1581.7 1375.7L1580.9 1377.9L1580.1 1378.6L1579.3 1378.0L1578.5 1378.7L1577.7 1381.4L1576.9 1384.5L1576.1 1385.3L1575.3 1392.5L1574.5 1399.3L1573.7 1407.3L1572.9 1414.4L1572.1 1423.5L1571.3 1435.1L1570.5 1444.8L1569.7 1455.3L1568.9 1457.7L1568.1 1443.9L1567.3 1435.5L1566.5 1426.2L1565.7 1416.7L1564.9 1407.8L1564.1 1399.4L1563.3 1390.4L1562.5 1383.5L1561.7 1386.9L1560.9 1394.3L1560.1 1392.7L1559.3 1399.8L1558.5 1410.5L1557.7 1414.7L1556.9 1413.7L1556.1 1400.3L1555.3 1390.7L1554.5 1378.6L1553.7 1372.6L1552.9 1358.6L1552.1 1351.3L1551.3 1358.7L1550.5 1363.0L1549.7 1370.1L1548.9 1376.4L1548.1 1381.3L1547.3 1386.6L1546.5 1384.2L1545.7 1384.4L1544.9 1380.9L1544.1 1381.8L1543.3 1377.8L1542.5 1377.0L1541.7 1376.6L1540.9 1374.7L1540.1 1373.2L1539.3 1372.2L1538.5 1371.4L1537.7 1370.8L1536.9 1369.8L1536.1 1369.2L1535.3 1368.1L1534.5 1369.8L1533.7 1367.3L1532.9 1366.9L1532.1 1367.2L1531.3 1366.0L1530.5 1365.0L1529.7 1367.7L1528.9 1363.0L1528.1 1363.2L1527.3 1364.2L1526.5 1361.8L1525.7 1360.5L1524.9 1363.7L1524.1 1357.9L1523.3 1360.3L1522.5 1356.2L1521.7 1355.7L1520.9 1354.0L1520.1 1353.6L1519.3 1352.4L1518.5 1351.5L1517.7 1350.1L1516.9 1350.7L1516.1 1350.7L1515.3 1350.6L1514.5 1349.2L1513.7 1349.0L1512.9 1348.8L1512.1 1351.6L1511.3 1349.9L1510.5 1349.6L1509.7 1348.3L1508.9 1349.1L1508.1 1348.4L1507.3 1349.4L1506.5 1350.1L1505.7 1347.7L1504.9 1347.6L1504.1 1349.3L1503.3 1348.0L1502.5 1347.1L1501.7 1347.4L1500.9 1348.8L1500.1 1347.3L1499.3 1349.5L1498.5 1350.7L1497.7 1349.4L1496.9 1347.9L1496.1 1348.6L1495.3 1349.9L1494.5 1350.0L1493.7 1349.6L1492.9 1347.3L1492.1 1347.0L1491.3 1349.3L1490.5 1346.7L1489.7 1346.9L1488.9 1346.9L1488.1 1346.8L1487.3 1347.2L1486.5 1347.2L1485.7 1347.0L1484.9 1351.6L1484.1 1348.2L1483.3 1347.9L1482.5 1347.4L1481.7 1346.8L1480.9 1346.8L1480.1 1348.1L1479.3 1347.1L1478.5 1347.7L1477.7 1348.7L1476.9 1347.1L1476.1 1348.1L1475.3 1346.7L1474.5 1348.0L1473.7 1346.7L1472.9 1348.5L1472.1 1347.0L1471.3 1346.8L1470.5 1348.1L1469.7 1349.2L1468.9 1349.5L1468.1 1346.7L1467.3 1346.7L1466.5 1346.9L1465.7 1347.2L1464.9 1347.2L1464.1 1348.7L1463.3 1348.1L1462.5 1348.7L1461.7 1347.1L1460.9 1347.5L1460.1 1351.7L1459.3 1347.1L1458.5 1347.9L1457.7 1348.1L1456.9 1347.7L1456.1 1346.8L1455.3 1347.2L1454.5 1347.8L1453.7 1348.3L1452.9 1349.4L1452.1 1347.8L1451.3 1346.8L1450.5 1349.8L1449.7 1351.7L1448.9 1347.9L1448.1 1346.8L1447.3 1348.5L1446.5 1348.2L1445.7 1347.0L1444.9 1347.0L1444.1 1347.1L1443.3 1347.8L1442.5 1347.2L1441.7 1348.1L1440.9 1347.0L1440.1 1348.1L1439.3 1346.7L1438.5 1346.8L1437.7 1350.1L1436.9 1348.7L1436.1 1350.0L1435.3 1348.9L1434.5 1347.3L1433.7 1347.6L1432.9 1350.0L1432.1 1349.5L1431.3 1349.5L1430.5 1346.8L1429.7 1348.2L1428.9 1349.4L1428.1 1347.1L1427.3 1346.9L1426.5 1347.7L1425.7 1346.8L1424.9 1347.0L1424.1 1348.6L1423.3 1347.1L1422.5 1347.3L1421.7 1347.7L1420.9 1348.0L1420.1 1349.8L1419.3 1347.6L1418.5 1349.8L1417.7 1346.8L1416.9 1347.1L1416.1 1346.8L1415.3 1350.7L1414.5 1346.8L1413.7 1346.8L1412.9 1351.7L1412.1 1346.9L1411.3 1347.1L1410.5 1347.0L1409.7 1348.9L1408.9 1348.9L1408.1 1347.9L1407.3 1347.2L1406.5 1347.6L1405.7 1346.7L1404.9 1347.6L1404.1 1346.8L1403.3 1348.1L1402.5 1346.8L1401.7 1346.9L1400.9 1347.1L1400.1 1349.1L1399.3 1347.1L1398.5 1348.1L1397.7 1347.2L1396.9 1346.8L1396.1 1350.0L1395.3 1347.7L1394.5 1347.2L1393.7 1347.2L1392.9 1347.1L1392.1 1347.8L1391.3 1347.1L1390.5 1347.1L1389.7 1347.5L1388.9 1346.8L1388.1 1346.9L1387.3 1347.7L1386.5 1346.7L1385.7 1348.7L1384.9 1347.2L1384.1 1348.9L1383.3 1348.0L1382.5 1347.7L1381.7 1346.8L1380.9 1348.1L1380.1 1348.3L1379.3 1347.7L1378.5 1347.2L1377.7 1346.9L1376.9 1347.7L1376.1 1347.3L1375.3 1348.0L1374.5 1347.0L1373.7 1347.0L1372.9 1347.7L1372.1 1347.8L1371.3 1349.8L1370.5 1346.9L1369.7 1348.0L1368.9 1348.4L1368.1 1347.1L1367.3 1347.0L1366.5 1348.8L1365.7 1347.0L1364.9 1347.3L1364.1 1347.0L1363.3 1348.2L1362.5 1349.1L1361.7 1347.3L1360.9 1348.7L1360.1 1347.2L1359.3 1346.9L1358.5 1347.0L1357.7 1350.8L1356.9 1346.3L1356.1 1347.7L1355.3 1346.0L1354.5 1346.4L1353.7 1345.9L1352.9 1346.9L1352.1 1349.0L1351.3 1345.9L1350.5 1348.8L1349.7 1345.5L1348.9 1346.7L1348.1 1345.9L1347.3 1346.5L1346.5 1347.3L1345.7 1345.7L1344.9 1345.6L1344.1 1346.1L1343.3 1350.2L1342.5 1346.2L1341.7 1345.2L1340.9 1345.3L1340.1 1346.4L1339.3 1346.1L1338.5 1348.6L1337.7 1346.6L1336.9 1345.6L1336.1 1345.8L1335.3 1348.8L1334.5 1347.0L1333.7 1345.9L1332.9 1345.3L1332.1 1346.3L1331.3 1347.5L1330.5 1346.9L1329.7 1347.3L1328.9 1345.2L1328.1 1349.6L1327.3 1347.2L1326.5 1345.3L1325.7 1346.3L1324.9 1345.6L1324.1 1345.6L1323.3 1345.6L1322.5 1345.3L1321.7 1345.8L1320.9 1348.1L1320.1 1345.5L1319.3 1346.2L1318.5 1345.8L1317.7 1345.2L1316.9 1346.2L1316.1 1345.2L1315.3 1345.2L1314.5 1346.0L1313.7 1345.2L1312.9 1345.5L1312.1 1346.1L1311.3 1346.8L1310.5 1346.6L1309.7 1345.6L1308.9 1345.7L1308.1 1346.0L1307.3 1346.1L1306.5 1347.2L1305.7 1348.9L1304.9 1347.8L1304.1 1345.3L1303.3 1348.4L1302.5 1345.4L1301.7 1345.8L1300.9 1345.4L1300.1 1345.1L1299.3 1345.4L1298.5 1345.5L1297.7 1346.2L1296.9 1345.7L1296.1 1350.1L1295.3 1347.1L1294.5 1349.2L1293.7 1346.3L1292.9 1345.5L1292.1 1345.1L1291.3 1345.9L1290.5 1346.6L1289.7 1345.5L1288.9 1348.0L1288.1 1345.2L1287.3 1347.0L1286.5 1345.5L1285.7 1346.3L1284.9 1345.6L1284.1 1345.5L1283.3 1345.4L1282.5 1345.4L1281.7 1346.0L1280.9 1347.2L1280.1 1347.2L1279.3 1345.2L1278.5 1347.8L1277.7 1345.6L1276.9 1347.1L1276.1 1345.4L1275.3 1345.1L1274.5 1345.8L1273.7 1345.7L1272.9 1345.8L1272.1 1345.2L1271.3 1346.6L1270.5 1345.1L1269.7 1345.4L1268.9 1345.1L1268.1 1347.0L1267.3 1345.5L1266.5 1347.5L1265.7 1345.3L1264.9 1345.4L1264.1 1346.1L1263.3 1346.3L1262.5 1345.5L1261.7 1346.7L1260.9 1345.8L1260.1 1345.6L1259.3 1348.8L1258.5 1347.8L1257.7 1348.7L1256.9 1346.3L1256.1 1345.0L1255.3 1346.2L1254.5 1345.0L1253.7 1345.4L1252.9 1345.4L1252.1 1345.1L1251.3 1345.2L1250.5 1345.3L1249.7 1345.0L1248.9 1349.9L1248.1 1345.1L1247.3 1348.5L1246.5 1345.3L1245.7 1345.8L1244.9 1345.9L1244.1 1345.4L1243.3 1346.0L1242.5 1346.1L1241.7 1346.0L1240.9 1345.0L1240.1 1344.9L1239.3 1346.0L1238.5 1345.8L1237.7 1346.3L1236.9 1348.0L1236.1 1346.0L1235.3 1345.5L1234.5 1347.4L1233.7 1347.3L1232.9 1345.5L1232.1 1345.1L1231.3 1347.9L1230.5 1345.2L1229.7 1345.0L1228.9 1347.0L1228.1 1345.3L1227.3 1345.7L1226.5 1348.3L1225.7 1345.3L1224.9 1345.7L1224.1 1346.1L1223.3 1345.4L1222.5 1347.5L1221.7 1345.8L1220.9 1345.9L1220.1 1345.0L1219.3 1345.3L1218.5 1345.1L1217.7 1345.8L1216.9 1345.0L1216.1 1344.9L1215.3 1345.3L1214.5 1345.4L1213.7 1345.5L1212.9 1345.9L1212.1 1346.8L1211.3 1346.1L1210.5 1346.1L1209.7 1344.9L1208.9 1345.5L1208.1 1344.9L1207.3 1345.0L1206.5 1346.8L1205.7 1347.6L1204.9 1345.4L1204.1 1346.4L1203.3 1346.1L1202.5 1345.3L1201.7 1345.3L1200.9 1344.9L1200.1 1346.6L1199.3 1345.7L1198.5 1345.1L1197.7 1345.9L1196.9 1345.7L1196.1 1345.0L1195.3 1345.3L1194.5 1344.8L1193.7 1345.8L1192.9 1346.7L1192.1 1347.0L1191.3 1346.2L1190.5 1348.3L1189.7 1345.0L1188.9 1345.2L1188.1 1347.0L1187.3 1346.9L1186.5 1345.7L1185.7 1345.8L1184.9 1345.9L1184.1 1349.3L1183.3 1347.0L1182.5 1346.6L1181.7 1345.1L1180.9 1345.1L1180.1 1344.9L1179.3 1345.4L1178.5 1345.9L1177.7 1346.0L1176.9 1345.6L1176.1 1346.3L1175.3 1344.9L1174.5 1344.9L1173.7 1345.3L1172.9 1345.4L1172.1 1345.1L1171.3 1346.2L1170.5 1344.8L1169.7 1345.6L1168.9 1345.2L1168.1 1347.4L1167.3 1348.7L1166.5 1346.7L1165.7 1345.2L1164.9 1346.0L1164.1 1347.0L1163.3 1345.6L1162.5 1348.4L1161.7 1346.7L1160.9 1344.8L1160.1 1346.4L1159.3 1344.8L1158.5 1345.2L1157.7 1344.9L1156.9 1345.0L1156.1 1349.5L1155.3 1345.3L1154.5 1345.6L1153.7 1345.3L1152.9 1348.0L1152.1 1345.2L1151.3 1345.2L1150.5 1344.9Z" fill="#d3d3d3"/>
<g clip-path="url(#cRB)">
<path d="M1152.4 1336.8L1153.6 1336.1L1155.2 1332.5L1155.8 1332.0L1157.0 1333.1L1157.6 1333.0L1159.4 1328.9L1160.0 1328.6L1162.5 1330.1L1166.7 1331.1L1168.9 1334.6L1169.9 1335.0L1171.8 1334.8L1172.5 1335.0L1174.3 1337.6L1175.0 1337.4L1175.6 1336.7L1176.1 1336.5L1176.5 1336.9L1177.9 1339.6L1178.5 1339.6L1179.4 1337.9L1180.0 1337.6L1182.9 1340.5L1184.5 1343.8L1185.9 1346.1L1186.4 1346.6L1187.0 1346.7L1187.6 1346.2L1189.0 1344.1L1191.2 1342.4L1191.9 1341.5L1192.7 1340.0L1194.2 1336.0L1195.7 1333.5L1196.9 1331.1L1197.7 1330.1L1198.9 1329.5L1200.3 1327.8L1200.9 1328.4L1202.0 1331.0L1202.6 1331.8L1203.7 1332.1L1204.3 1332.7L1205.7 1335.2L1206.3 1335.6L1207.5 1335.3L1208.0 1335.4L1208.6 1335.8L1209.9 1337.4L1210.7 1338.0L1211.4 1337.5L1212.7 1335.2L1213.4 1334.9L1214.1 1335.4L1215.6 1337.4L1216.2 1337.2L1217.4 1336.0L1218.0 1336.3L1220.0 1341.1L1221.1 1342.5L1222.8 1345.8L1223.3 1346.0L1224.4 1345.0L1225.0 1345.1L1226.1 1346.5L1226.7 1346.6L1227.2 1345.8L1229.1 1342.1L1229.8 1341.0L1230.6 1340.4L1231.5 1340.1L1231.8 1339.6L1232.6 1337.4L1234.1 1331.7L1234.5 1331.2L1235.6 1331.2L1236.0 1330.9L1237.4 1329.2L1237.9 1329.1L1238.8 1330.1L1241.0 1335.5L1242.8 1338.6L1243.7 1341.0L1244.5 1342.2L1245.1 1342.4L1246.9 1341.9L1248.7 1341.9L1249.3 1341.6L1251.1 1339.0L1253.0 1338.0L1255.5 1334.3L1257.6 1328.3L1257.9 1327.9L1259.0 1327.5L1259.4 1327.2L1260.8 1325.1L1261.3 1325.3L1263.9 1329.4L1265.7 1334.3L1266.2 1334.6L1266.9 1334.3L1267.5 1334.5L1269.5 1338.0L1270.5 1338.7L1271.2 1338.7L1272.7 1338.0L1274.7 1338.3L1275.3 1337.8L1277.5 1335.4L1278.9 1331.4L1279.6 1330.2L1280.7 1329.9L1282.7 1327.5L1283.5 1327.6L1284.2 1328.0L1284.9 1328.0L1286.4 1326.1L1287.2 1326.1L1288.7 1328.8L1289.4 1328.9L1290.5 1327.7L1291.0 1327.9L1292.7 1332.8L1293.6 1334.2L1294.6 1334.6L1296.2 1334.4L1296.9 1334.8L1298.2 1336.0L1298.9 1335.6L1299.6 1334.8L1300.3 1335.0L1301.4 1337.0L1301.9 1337.4L1302.9 1337.0L1303.6 1337.6L1305.2 1341.9L1306.3 1343.3L1307.6 1345.6L1308.1 1346.0L1308.7 1345.4L1309.7 1343.8L1310.1 1343.6L1311.1 1344.0L1311.6 1343.7L1312.8 1340.7L1313.6 1339.5L1314.3 1339.3L1315.0 1339.5L1315.7 1339.3L1319.7 1335.8L1320.4 1335.7L1321.6 1336.0L1323.3 1334.4L1323.9 1334.4L1324.9 1335.7L1325.6 1335.7L1326.3 1335.0L1327.0 1335.0L1328.2 1337.3L1328.9 1337.8L1329.6 1337.0L1330.1 1336.7L1330.5 1337.3L1331.9 1342.6L1332.4 1343.2L1332.9 1343.1L1333.5 1342.5L1334.2 1342.3L1335.6 1343.2L1337.1 1343.3L1337.8 1343.3L1338.6 1342.4L1339.3 1341.0L1340.0 1340.4L1341.2 1341.1L1341.6 1341.0L1344.0 1335.6L1344.7 1335.2L1346.1 1336.2L1346.8 1336.2L1348.3 1333.8L1349.1 1333.2L1350.6 1333.7L1352.8 1334.0L1354.5 1333.4L1354.9 1333.7L1355.4 1334.5L1356.8 1337.2L1358.9 1339.8L1361.0 1343.9L1363.9 1348.5L1364.9 1348.8L1366.3 1347.2L1367.3 1346.8L1367.9 1346.3L1368.4 1344.8L1369.3 1339.5L1369.9 1337.9L1371.2 1336.3L1372.8 1333.2L1373.9 1332.8L1374.4 1332.3L1375.6 1330.4L1376.1 1330.3L1377.3 1331.6L1377.8 1331.9L1378.6 1331.7L1379.0 1331.8L1379.7 1333.4L1381.0 1337.7L1381.5 1338.7L1382.0 1339.1L1383.0 1339.3L1383.9 1340.3L1385.8 1345.0L1386.4 1344.9L1387.9 1341.5L1388.3 1341.0L1388.7 1340.8L1389.5 1340.9L1389.9 1340.7L1390.6 1338.8L1392.2 1333.0L1392.6 1332.5L1393.0 1332.5L1393.9 1333.1L1394.3 1333.1L1396.0 1329.3L1396.7 1329.5L1398.1 1333.2L1398.7 1333.4L1399.4 1332.5L1400.0 1332.1L1400.7 1333.0L1402.4 1336.8L1403.1 1337.7L1405.2 1339.6L1406.9 1343.0L1407.5 1343.3L1408.7 1342.7L1409.3 1343.3L1410.5 1346.1L1411.2 1346.5L1411.8 1346.0L1415.1 1341.9L1415.5 1341.6L1417.4 1340.9L1418.7 1340.1L1419.3 1340.2L1419.9 1340.7L1421.6 1345.0L1422.2 1345.7L1422.8 1345.4L1423.4 1344.7L1424.0 1344.5L1425.3 1346.0L1425.9 1346.2L1426.4 1345.6L1427.7 1343.4L1429.4 1341.9L1430.7 1339.9L1431.3 1339.3L1431.9 1339.1L1433.7 1339.8L1434.4 1339.2L1435.8 1336.2L1436.6 1335.9L1438.1 1337.4L1438.8 1337.0L1440.1 1335.2L1440.8 1334.7L1441.5 1334.8L1444.6 1337.5L1446.1 1340.0L1446.9 1340.7L1448.2 1340.7L1448.8 1341.0L1451.4 1344.5L1452.1 1344.5L1453.5 1343.4L1454.2 1343.9L1454.9 1345.2L1455.8 1346.2L1457.2 1345.2L1458.4 1344.8L1459.7 1343.6L1460.4 1343.6L1461.3 1345.0L1462.1 1345.6L1463.6 1343.9L1464.3 1344.2L1465.0 1345.3L1465.7 1345.8L1467.1 1345.6L1468.6 1346.7L1469.3 1346.4L1470.8 1344.3L1471.5 1344.5L1472.5 1345.7L1473.1 1345.5L1473.6 1344.2L1474.9 1340.1L1475.3 1339.5L1476.3 1338.9L1477.0 1337.8L1478.4 1332.3L1479.1 1330.6L1479.8 1329.6L1480.5 1329.2L1481.0 1329.2L1481.4 1329.6L1483.0 1332.4L1484.5 1334.2L1487.1 1340.8L1488.2 1342.6L1490.8 1345.8L1491.4 1346.0L1492.0 1345.5L1493.2 1343.5L1494.4 1342.7L1496.1 1340.0L1496.7 1339.8L1498.8 1342.1L1500.3 1346.3L1500.8 1347.5L1501.4 1348.3L1502.6 1348.6L1503.8 1350.3L1504.5 1350.8L1505.7 1350.0L1506.4 1350.3L1507.1 1351.3L1507.8 1351.6L1508.4 1350.7L1509.9 1347.1L1510.4 1346.7L1511.8 1346.4L1513.1 1345.5L1513.7 1345.3L1514.2 1345.4L1515.1 1346.4L1516.2 1347.9L1518.2 1352.0L1519.9 1353.6L1520.3 1355.5L1520.7 1356.2L1521.5 1357.1L1521.9 1357.2L1522.8 1356.7L1523.5 1355.7L1524.0 1354.3L1524.6 1351.3L1526.5 1339.5L1529.4 1313.8L1531.9 1300.3L1533.2 1294.8L1534.4 1290.7L1535.7 1288.2L1536.2 1287.8L1536.7 1287.8L1537.5 1288.6L1538.2 1289.9L1539.5 1295.0L1540.7 1303.7L1542.5 1320.4L1543.7 1336.8L1547.8 1407.3L1548.3 1413.6L1548.8 1417.1L1549.2 1418.2L1549.5 1418.1L1549.7 1417.6L1550.6 1412.0L1553.2 1376.3L1556.8 1336.6L1557.7 1331.4L1558.6 1328.1L1559.4 1326.5L1559.8 1326.2L1560.1 1326.2L1560.5 1326.4L1561.6 1328.8L1563.2 1335.9L1564.5 1344.2L1565.8 1354.2L1569.5 1394.9L1572.4 1441.6L1573.2 1448.3L1573.6 1450.0L1574.0 1450.5L1574.6 1449.6L1575.2 1446.7L1576.5 1434.3L1584.0 1328.8L1585.7 1313.0L1586.3 1310.1L1586.6 1309.4L1587.1 1309.0L1587.7 1309.3L1588.2 1309.9L1589.2 1312.8L1590.2 1317.5L1591.2 1325.1L1593.2 1342.5L1595.7 1377.7L1597.2 1392.1L1597.6 1394.1L1598.1 1394.9L1598.7 1394.4L1599.3 1393.3L1600.4 1388.5L1604.0 1366.6L1607.9 1344.4L1609.0 1341.1L1609.6 1340.3L1610.0 1340.1L1610.5 1340.3L1610.9 1340.9L1611.9 1343.7L1614.8 1357.9L1616.7 1365.7L1618.7 1376.3L1619.5 1378.7L1620.0 1379.4L1620.4 1379.6L1620.9 1379.5L1621.4 1378.9L1622.2 1376.7L1625.2 1362.7L1626.3 1358.6L1628.5 1353.3L1629.3 1352.0L1630.2 1351.3L1631.3 1351.4L1631.9 1351.7L1632.6 1352.4L1633.6 1354.2L1636.2 1360.9L1637.3 1363.2L1638.5 1364.9L1639.8 1365.5L1640.5 1365.7L1641.3 1365.1L1642.7 1365.3L1643.4 1364.6L1644.8 1362.2L1645.5 1362.2L1646.2 1362.6L1646.9 1362.3L1648.6 1360.3L1649.4 1359.9L1650.2 1359.9L1651.4 1360.6L1652.0 1360.5L1654.3 1357.9L1655.8 1354.9L1656.6 1353.9L1658.4 1354.7L1659.6 1354.0L1660.3 1354.0L1661.0 1354.7L1663.1 1357.8L1663.8 1358.2L1665.0 1357.9L1665.6 1358.3L1666.9 1360.6L1667.5 1361.2L1668.1 1360.8L1670.1 1356.7L1670.6 1356.3L1671.9 1355.8L1672.5 1355.3L1673.6 1353.6L1674.2 1353.0L1675.4 1352.6L1677.3 1349.9L1677.9 1350.1L1678.7 1350.7L1679.3 1349.9L1680.5 1346.3L1681.0 1345.4L1681.5 1345.6L1682.6 1347.2L1683.4 1346.9L1684.1 1346.3L1684.7 1346.4L1685.8 1347.8L1686.4 1348.2L1686.9 1347.9L1687.4 1346.6L1690.6 1347.6L1691.2 1348.0L1692.6 1349.8L1693.3 1350.4L1694.1 1350.3L1695.0 1349.9L1696.4 1350.0L1697.1 1349.5L1698.3 1347.6L1698.9 1347.4L1699.6 1347.6L1700.2 1347.4L1701.5 1344.7L1702.2 1344.4L1703.7 1346.6L1704.3 1346.8L1704.9 1346.7L1705.5 1346.8L1706.1 1347.5L1708.2 1350.2L1709.7 1353.3L1710.1 1353.8L1710.6 1353.9L1711.5 1352.5L1712.7 1349.4L1713.2 1349.4L1714.4 1351.4L1714.8 1351.7L1715.7 1351.5L1716.2 1351.6L1716.7 1352.3L1717.7 1355.2L1718.3 1356.3L1718.9 1356.3L1719.6 1356.1L1721.0 1357.1L1721.8 1356.6L1722.5 1355.1L1723.2 1354.2L1724.6 1354.7L1725.3 1354.3L1726.6 1352.9L1728.9 1352.0L1731.0 1354.0L1731.6 1353.6L1733.0 1351.8L1733.7 1351.4L1735.8 1351.5L1736.5 1351.0L1737.9 1349.0L1738.6 1348.9L1739.5 1349.6L1740.3 1349.1L1741.5 1346.7L1742.1 1346.2L1742.6 1346.6L1743.3 1347.3L1743.9 1347.4L1744.4 1346.6L1746.2 1341.8L1746.6 1341.4L1747.4 1341.3L1747.8 1340.5L1749.0 1334.3L1749.9 1331.8L1750.5 1331.5L1752.5 1332.6L1754.4 1336.4L1755.1 1336.0L1756.9 1331.9L1757.6 1331.3L1758.5 1330.8L1759.6 1329.7L1761.9 1326.3L1762.7 1326.6L1763.9 1328.9L1764.5 1329.2L1765.7 1328.8L1766.3 1329.0L1768.9 1332.3L1771.5 1336.0L1773.1 1338.9L1774.1 1340.1L1775.4 1340.7L1776.9 1340.6L1778.3 1341.4L1779.0 1341.4L1780.5 1339.7L1781.2 1339.7L1783.2 1343.4L1783.8 1343.8L1784.3 1343.7L1785.3 1343.0L1785.9 1343.0L1786.9 1343.8L1787.3 1343.7L1787.7 1343.2L1789.2 1339.6L1790.2 1338.5L1790.6 1337.6L1791.9 1333.5L1792.4 1333.2L1793.5 1334.8L1794.1 1335.1L1795.4 1333.0L1796.1 1333.0L1797.5 1335.0L1798.8 1335.9L1800.1 1337.6L1801.5 1338.9L1803.4 1343.1L1804.5 1344.1L1805.1 1344.3L1805.6 1344.1L1806.1 1343.4L1807.2 1340.5L1807.9 1339.6L1809.2 1340.3L1809.6 1339.9L1811.4 1335.4L1811.9 1334.9L1813.2 1334.7L1813.7 1334.1L1815.3 1330.6L1815.9 1329.8L1817.4 1329.0L1817.9 1328.6L1820.8 1324.0L1821.3 1323.7L1821.9 1324.1L1822.7 1324.9L1823.5 1324.7L1824.9 1322.5L1825.5 1323.0L1826.2 1324.5L1826.9 1325.3L1828.3 1324.4L1828.8 1325.5L1830.1 1329.6L1830.5 1329.7L1831.2 1329.0L1831.5 1328.9L1831.9 1329.3L1833.4 1335.5L1834.2 1335.8L1835.5 1333.1L1836.1 1333.3L1837.5 1335.2L1838.4 1335.7L1838.8 1336.2L1840.7 1341.0L1841.1 1341.5L1842.9 1341.9L1844.3 1342.9L1845.0 1342.8L1846.3 1341.2L1847.0 1340.9L1848.7 1341.4L1850.1 1340.4L1851.4 1340.0L1852.0 1340.3L1853.3 1342.6L1854.1 1342.8L1856.2 1339.6L1857.9 1338.6L1859.7 1337.1L1861.6 1333.6L1862.2 1333.4L1863.3 1334.0L1863.9 1334.0L1864.7 1333.6L1865.2 1333.6L1865.7 1333.9L1866.6 1335.0L1868.9 1339.6L1869.4 1340.2L1870.7 1340.2L1872.3 1341.7L1873.1 1341.2L1873.9 1340.4L1874.7 1340.8L1875.5 1341.8L1876.2 1341.6L1877.0 1340.2L1877.7 1339.6L1878.4 1340.2L1879.1 1341.2L1880.0 1341.7L1881.0 1341.7L1881.3 1341.9L1884.1 1345.8L1884.7 1345.9L1885.4 1345.5L1886.1 1345.5L1887.8 1347.1L1888.4 1346.7L1890.0 1344.0L1891.5 1343.4L1892.1 1342.8L1893.8 1339.4L1894.5 1339.0L1895.2 1339.5L1895.8 1339.6L1896.4 1338.7L1897.6 1335.9L1898.1 1335.5L1899.4 1336.6L1900.9 1336.4L1902.1 1338.6L1902.7 1339.1L1903.3 1338.4L1904.4 1336.6L1905.2 1336.4L1905.7 1335.9L1906.2 1334.7L1907.7 1329.0L1908.2 1327.9L1909.6 1326.6L1911.2 1324.2L1912.2 1322.9L1913.1 1322.4L1914.6 1321.9L1915.0 1322.0L1915.7 1322.9L1917.4 1329.4L1918.4 1331.3L1919.8 1332.5L1921.5 1332.9L1923.0 1335.0L1923.7 1335.2L1925.2 1333.0L1926.1 1333.5L1927.6 1336.6L1929.4 1339.4L1930.0 1340.0L1930.7 1340.0L1932.4 1338.3L1934.7 1337.2L1936.5 1334.2L1937.2 1333.8L1938.7 1335.3L1939.3 1335.4L1940.0 1335.2L1940.6 1335.3L1941.8 1336.5L1943.0 1336.9L1943.6 1337.4L1945.8 1342.7L1946.5 1343.2L1947.8 1343.3L1949.4 1344.8L1949.8 1344.7L1950.3 1344.0L1951.8 1339.2L1952.3 1338.3L1953.4 1338.3L1953.8 1338.1L1954.1 1337.4L1955.8 1331.7L1956.5 1330.8L1957.9 1330.3L1958.3 1330.4L1958.6 1330.8L1959.0 1331.7L1960.1 1335.7L1960.9 1337.6L1965.1 1342.8L1965.6 1343.2L1966.0 1343.1L1966.4 1342.4L1967.9 1337.4L1968.6 1335.9L1969.9 1334.7L1970.5 1333.6L1973.0 1325.3L1975.1 1322.1L1975.9 1321.4L1976.4 1321.6L1977.7 1323.4L1978.8 1323.8L1979.2 1324.2L1979.9 1326.0L1981.0 1330.3L1981.4 1331.1L1982.8 1331.9L1983.3 1332.7L1984.5 1335.7L1985.1 1336.4L1986.1 1336.6L1986.7 1336.9L1988.2 1339.3L1989.3 1340.5L1989.8 1340.8L1991.0 1340.8L1992.4 1341.6L1993.3 1341.3L1994.1 1340.2L1994.8 1339.9L1995.6 1340.7L1996.3 1341.1L1996.9 1340.1L1998.1 1337.0L1998.6 1336.4L1999.0 1336.5" fill="none" stroke="#141414" stroke-width="3.9" stroke-linejoin="round"/>
</g>
<text transform="translate(114.0,23.90) scale(1,1.05)" text-anchor="end" font-size="30">0.04</text>
<text transform="translate(114.0,72.77) scale(1,1.05)" text-anchor="end" font-size="30">0.03</text>
<text transform="translate(114.0,129.04) scale(1,1.05)" text-anchor="end" font-size="30">0.02</text>
<text transform="translate(114.0,185.31) scale(1,1.05)" text-anchor="end" font-size="30">0.01</text>
<text transform="translate(114.0,241.59) scale(1,1.05)" text-anchor="end" font-size="30">0.00</text>
<text transform="translate(114.0,297.86) scale(1,1.05)" text-anchor="end" font-size="30">-0.01</text>
<text transform="translate(114.0,354.13) scale(1,1.05)" text-anchor="end" font-size="30">-0.02</text>
<text transform="translate(114.0,400.40) scale(1,1.05)" text-anchor="end" font-size="30">-0.03</text>
<text transform="translate(114.0,484.37) scale(1,1.05)" text-anchor="end" font-size="30">0.6</text>
<text transform="translate(114.0,582.98) scale(1,1.05)" text-anchor="end" font-size="30">0.4</text>
<text transform="translate(114.0,681.61) scale(1,1.05)" text-anchor="end" font-size="30">0.2</text>
<text transform="translate(114.0,780.22) scale(1,1.05)" text-anchor="end" font-size="30">0.0</text>
<text transform="translate(114.0,878.84) scale(1,1.05)" text-anchor="end" font-size="30">-0.2</text>
<text transform="translate(114.0,977.46) scale(1,1.05)" text-anchor="end" font-size="30">-0.4</text>
<text transform="translate(114.0,1076.09) scale(1,1.05)" text-anchor="end" font-size="30">-0.6</text>
<text transform="translate(114.0,1157.05) scale(1,1.05)" text-anchor="end" font-size="30">0.06</text>
<text transform="translate(114.0,1215.78) scale(1,1.05)" text-anchor="end" font-size="30">0.04</text>
<text transform="translate(114.0,1281.50) scale(1,1.05)" text-anchor="end" font-size="30">0.02</text>
<text transform="translate(114.0,1347.22) scale(1,1.05)" text-anchor="end" font-size="30">0.00</text>
<text transform="translate(114.0,1412.95) scale(1,1.05)" text-anchor="end" font-size="30">-0.02</text>
<text transform="translate(114.0,1478.68) scale(1,1.05)" text-anchor="end" font-size="30">-0.04</text>
<text transform="translate(114.0,1534.40) scale(1,1.05)" text-anchor="end" font-size="30">-0.06</text>
<text transform="translate(1140.5,23.80) scale(1,1.05)" text-anchor="end" font-size="30">0.06</text>
<text transform="translate(1140.5,95.50) scale(1,1.05)" text-anchor="end" font-size="30">0.04</text>
<text transform="translate(1140.5,174.20) scale(1,1.05)" text-anchor="end" font-size="30">0.02</text>
<text transform="translate(1140.5,252.90) scale(1,1.05)" text-anchor="end" font-size="30">0.00</text>
<text transform="translate(1140.5,331.60) scale(1,1.05)" text-anchor="end" font-size="30">-0.02</text>
<text transform="translate(1140.5,400.80) scale(1,1.05)" text-anchor="end" font-size="30">-0.04</text>
<text transform="translate(1140.5,484.25) scale(1,1.05)" text-anchor="end" font-size="30">0.6</text>
<text transform="translate(1140.5,582.85) scale(1,1.05)" text-anchor="end" font-size="30">0.4</text>
<text transform="translate(1140.5,681.45) scale(1,1.05)" text-anchor="end" font-size="30">0.2</text>
<text transform="translate(1140.5,780.05) scale(1,1.05)" text-anchor="end" font-size="30">0.0</text>
<text transform="translate(1140.5,878.65) scale(1,1.05)" text-anchor="end" font-size="30">-0.2</text>
<text transform="translate(1140.5,977.25) scale(1,1.05)" text-anchor="end" font-size="30">-0.4</text>
<text transform="translate(1140.5,1075.85) scale(1,1.05)" text-anchor="end" font-size="30">-0.6</text>
<text transform="translate(1140.5,1157.60) scale(1,1.05)" text-anchor="end" font-size="30">0.10</text>
<text transform="translate(1140.5,1248.40) scale(1,1.05)" text-anchor="end" font-size="30">0.05</text>
<text transform="translate(1140.5,1347.00) scale(1,1.05)" text-anchor="end" font-size="30">0.00</text>
<text transform="translate(1140.5,1445.60) scale(1,1.05)" text-anchor="end" font-size="30">-0.05</text>
<text transform="translate(1140.5,1534.20) scale(1,1.05)" text-anchor="end" font-size="30">-0.10</text>
<text transform="translate(334.10,1568.8) scale(1,1.05)" text-anchor="middle" font-size="30">-0.5</text>
<text transform="translate(548.60,1568.8) scale(1,1.05)" text-anchor="middle" font-size="30">0.0</text>
<text transform="translate(763.10,1568.8) scale(1,1.05)" text-anchor="middle" font-size="30">0.5</text>
<text transform="translate(1332.70,1568.8) scale(1,1.05)" text-anchor="middle" font-size="30">-0.5</text>
<text transform="translate(1549.40,1568.8) scale(1,1.05)" text-anchor="middle" font-size="30">0.0</text>
<text transform="translate(1766.10,1568.8) scale(1,1.05)" text-anchor="middle" font-size="30">0.5</text>
<text transform="translate(1982.80,1568.8) scale(1,1.05)" text-anchor="middle" font-size="30">1.0</text>
<text x="546.9" y="1606" text-anchor="middle" font-size="30"><tspan class="s">x</tspan> (arcsec)</text>
<text x="1573.4" y="1606" text-anchor="middle" font-size="30"><tspan class="s">y</tspan> (arcsec)</text>
<text transform="translate(24,202) rotate(-90) scale(0.975,1.08)" text-anchor="middle" font-size="30">RCCF<tspan class="p">(</tspan><tspan class="s">x</tspan><tspan class="p">)</tspan></text>
<text transform="translate(39.5,770) rotate(-90)" text-anchor="middle" font-size="30"><tspan class="s">S</tspan><tspan class="p">(</tspan><tspan class="s">x</tspan><tspan class="p">)</tspan></text>
<text transform="translate(24,1337) rotate(-90)" text-anchor="middle" font-size="30"><tspan class="s">S</tspan><tspan class="p">(</tspan><tspan class="s">x</tspan><tspan class="p">)</tspan><tspan class="s">-C</tspan><tspan class="p">(</tspan><tspan class="s">x</tspan><tspan class="p">)</tspan></text>
<text transform="translate(1050,202.5) rotate(-90) scale(0.975,1.08)" text-anchor="middle" font-size="30">RCCF<tspan class="p">(</tspan><tspan class="s">y</tspan><tspan class="p">)</tspan></text>
<text transform="translate(1066.5,770) rotate(-90)" text-anchor="middle" font-size="30"><tspan class="s">S</tspan><tspan class="p">(</tspan><tspan class="s">y</tspan><tspan class="p">)</tspan></text>
<text transform="translate(1050,1337) rotate(-90)" text-anchor="middle" font-size="30"><tspan class="s">S</tspan><tspan class="p">(</tspan><tspan class="s">y</tspan><tspan class="p">)</tspan><tspan class="s">-C</tspan><tspan class="p">(</tspan><tspan class="s">y</tspan><tspan class="p">)</tspan></text>
<text transform="translate(718.0,484.3) scale(1,1.05)" font-size="39.2">HD218915</text>
<text transform="translate(717.8,533.4) scale(1,1.03)" font-size="39.2">sppr = 1.00</text>
<text transform="translate(1744.6,484.3) scale(1,1.05)" font-size="39.2">HD218915</text>
<text transform="translate(1743.7,533.4) scale(1,1.03)" font-size="39.2">sppr = 0.92</text>
</svg></body></html>
